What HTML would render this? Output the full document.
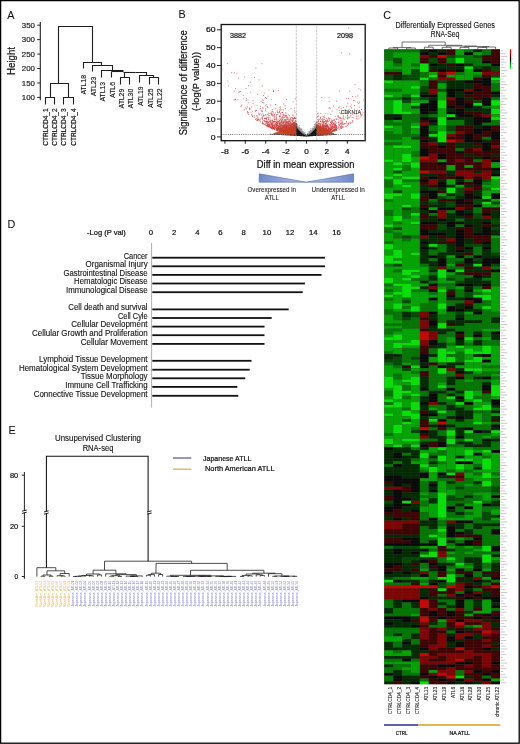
<!DOCTYPE html>
<html><head><meta charset="utf-8"><style>
html,body{margin:0;padding:0;background:#fff;width:520px;height:744px;overflow:hidden}
svg{display:block}
text{font-family:"Liberation Sans",sans-serif}
</style></head><body>
<svg width="520" height="744" viewBox="0 0 520 744">
<rect x="0" y="0" width="520" height="744" fill="#fff"/>
<g opacity="0.999">
<text x="7.3" y="18.8" font-size="10.8" fill="#111" stroke="#111" stroke-width="0.08">A</text>
<path d="M40.3,22 L40.3,100.3" stroke="#222" stroke-width="1.1" fill="none"/>
<path d="M37.2,25.2 L40.3,25.2" stroke="#222" stroke-width="1" fill="none"/>
<text x="35.0" y="27.9" font-size="7.8" text-anchor="end" textLength="13.2" lengthAdjust="spacingAndGlyphs" fill="#111" stroke="#111" stroke-width="0.15">350</text>
<path d="M37.2,39.64 L40.3,39.64" stroke="#222" stroke-width="1" fill="none"/>
<text x="35.0" y="42.34" font-size="7.8" text-anchor="end" textLength="13.2" lengthAdjust="spacingAndGlyphs" fill="#111" stroke="#111" stroke-width="0.15">300</text>
<path d="M37.2,54.08 L40.3,54.08" stroke="#222" stroke-width="1" fill="none"/>
<text x="35.0" y="56.78" font-size="7.8" text-anchor="end" textLength="13.2" lengthAdjust="spacingAndGlyphs" fill="#111" stroke="#111" stroke-width="0.15">250</text>
<path d="M37.2,68.52 L40.3,68.52" stroke="#222" stroke-width="1" fill="none"/>
<text x="35.0" y="71.22" font-size="7.8" text-anchor="end" textLength="13.2" lengthAdjust="spacingAndGlyphs" fill="#111" stroke="#111" stroke-width="0.15">200</text>
<path d="M37.2,82.96 L40.3,82.96" stroke="#222" stroke-width="1" fill="none"/>
<text x="35.0" y="85.66" font-size="7.8" text-anchor="end" textLength="13.2" lengthAdjust="spacingAndGlyphs" fill="#111" stroke="#111" stroke-width="0.15">150</text>
<path d="M37.2,97.4 L40.3,97.4" stroke="#222" stroke-width="1" fill="none"/>
<text x="35.0" y="100.10000000000001" font-size="7.8" text-anchor="end" textLength="13.2" lengthAdjust="spacingAndGlyphs" fill="#111" stroke="#111" stroke-width="0.15">100</text>
<text transform="translate(14.6,61) rotate(-90)" font-size="10" text-anchor="middle" textLength="28" lengthAdjust="spacingAndGlyphs" fill="#111" stroke="#111" stroke-width="0.22">Height</text>
<path d="M58.5,83.5 L58.5,26.5 L92.5,26.5 L92.5,62.5" stroke="#1e1e1e" stroke-width="1.1" fill="none"/>
<path d="M50.5,97.5 L50.5,83.5 L68.5,83.5 L68.5,97.5" stroke="#1e1e1e" stroke-width="1.1" fill="none"/>
<path d="M45.5,104.5 L45.5,97.5 L54.5,97.5 L54.5,104.5" stroke="#1e1e1e" stroke-width="1.1" fill="none"/>
<path d="M63.5,104.5 L63.5,97.5 L73.5,97.5 L73.5,104.5" stroke="#1e1e1e" stroke-width="1.1" fill="none"/>
<path d="M83.5,68.5 L83.5,62.5 L101.5,62.5 L101.5,65.5" stroke="#1e1e1e" stroke-width="1.1" fill="none"/>
<path d="M92.5,71.5 L92.5,65.5 L112.5,65.5 L112.5,70.5" stroke="#1e1e1e" stroke-width="1.1" fill="none"/>
<path d="M101.5,77.5 L101.5,70.5 L123.5,70.5" stroke="#1e1e1e" stroke-width="1.1" fill="none"/>
<path d="M111.5,77.5 L111.5,71.5" stroke="#1e1e1e" stroke-width="1.1" fill="none"/>
<path d="M111.5,71.5 L123.5,71.5" stroke="#1e1e1e" stroke-width="1.1" fill="none"/>
<path d="M123.5,72.5 L135.5,72.5" stroke="#1e1e1e" stroke-width="1.1" fill="none"/>
<path d="M124.5,72.5 L124.5,77.5" stroke="#1e1e1e" stroke-width="1.1" fill="none"/>
<path d="M120.5,84.5 L120.5,77.5 L129.5,77.5 L129.5,84.5" stroke="#1e1e1e" stroke-width="1.1" fill="none"/>
<path d="M135.5,72.5 L146.5,72.5 L146.5,75.5" stroke="#1e1e1e" stroke-width="1.1" fill="none"/>
<path d="M139.5,82.5 L139.5,75.5 L153.5,75.5 L153.5,77.5" stroke="#1e1e1e" stroke-width="1.1" fill="none"/>
<path d="M149.5,84.5 L149.5,77.5 L158.5,77.5 L158.5,84.5" stroke="#1e1e1e" stroke-width="1.1" fill="none"/>
<text transform="translate(48.0,108.4) rotate(-90)" font-size="7.4" text-anchor="end" textLength="37.3" lengthAdjust="spacingAndGlyphs" fill="#111" stroke="#111" stroke-width="0.22">CTRLCD4_1</text>
<text transform="translate(57.1,108.4) rotate(-90)" font-size="7.4" text-anchor="end" textLength="37.3" lengthAdjust="spacingAndGlyphs" fill="#111" stroke="#111" stroke-width="0.22">CTRLCD4_2</text>
<text transform="translate(66.39999999999999,108.4) rotate(-90)" font-size="7.4" text-anchor="end" textLength="37.3" lengthAdjust="spacingAndGlyphs" fill="#111" stroke="#111" stroke-width="0.22">CTRLCD4_3</text>
<text transform="translate(75.8,108.4) rotate(-90)" font-size="7.4" text-anchor="end" textLength="37.3" lengthAdjust="spacingAndGlyphs" fill="#111" stroke="#111" stroke-width="0.22">CTRLCD4_4</text>
<text transform="translate(86.4,75) rotate(-90)" font-size="8.0" text-anchor="end" textLength="19.6" lengthAdjust="spacingAndGlyphs" fill="#111" stroke="#111" stroke-width="0.15">ATL18</text>
<text transform="translate(95.8,76.7) rotate(-90)" font-size="8.0" text-anchor="end" textLength="19.6" lengthAdjust="spacingAndGlyphs" fill="#111" stroke="#111" stroke-width="0.15">ATL23</text>
<text transform="translate(105.2,81.9) rotate(-90)" font-size="8.0" text-anchor="end" textLength="19.6" lengthAdjust="spacingAndGlyphs" fill="#111" stroke="#111" stroke-width="0.15">ATL13</text>
<text transform="translate(114.6,81.9) rotate(-90)" font-size="8.0" text-anchor="end" textLength="16.1" lengthAdjust="spacingAndGlyphs" fill="#111" stroke="#111" stroke-width="0.15">ATL6</text>
<text transform="translate(123.6,88.8) rotate(-90)" font-size="8.0" text-anchor="end" textLength="19.6" lengthAdjust="spacingAndGlyphs" fill="#111" stroke="#111" stroke-width="0.15">ATL29</text>
<text transform="translate(132.5,88.8) rotate(-90)" font-size="8.0" text-anchor="end" textLength="19.6" lengthAdjust="spacingAndGlyphs" fill="#111" stroke="#111" stroke-width="0.15">ATL30</text>
<text transform="translate(142.6,86.5) rotate(-90)" font-size="8.0" text-anchor="end" textLength="19.6" lengthAdjust="spacingAndGlyphs" fill="#111" stroke="#111" stroke-width="0.15">ATL19</text>
<text transform="translate(152.8,88.5) rotate(-90)" font-size="8.0" text-anchor="end" textLength="19.6" lengthAdjust="spacingAndGlyphs" fill="#111" stroke="#111" stroke-width="0.15">ATL25</text>
<text transform="translate(161.6,88.5) rotate(-90)" font-size="8.0" text-anchor="end" textLength="19.6" lengthAdjust="spacingAndGlyphs" fill="#111" stroke="#111" stroke-width="0.15">ATL22</text>
<text x="178.6" y="17.9" font-size="10.8" fill="#111" stroke="#111" stroke-width="0.08">B</text>
<path d="M217.0,136.9 L221.2,136.9" stroke="#222" stroke-width="1" fill="none"/>
<text x="215.6" y="139.5" font-size="7.4" text-anchor="end" textLength="4.8" lengthAdjust="spacingAndGlyphs" fill="#111" stroke="#111" stroke-width="0.22">0</text>
<path d="M217.0,119.05000000000001 L221.2,119.05000000000001" stroke="#222" stroke-width="1" fill="none"/>
<text x="215.6" y="121.65" font-size="7.4" text-anchor="end" textLength="9.6" lengthAdjust="spacingAndGlyphs" fill="#111" stroke="#111" stroke-width="0.22">10</text>
<path d="M217.0,101.20000000000002 L221.2,101.20000000000002" stroke="#222" stroke-width="1" fill="none"/>
<text x="215.6" y="103.80000000000001" font-size="7.4" text-anchor="end" textLength="9.6" lengthAdjust="spacingAndGlyphs" fill="#111" stroke="#111" stroke-width="0.22">20</text>
<path d="M217.0,83.35000000000001 L221.2,83.35000000000001" stroke="#222" stroke-width="1" fill="none"/>
<text x="215.6" y="85.95" font-size="7.4" text-anchor="end" textLength="9.6" lengthAdjust="spacingAndGlyphs" fill="#111" stroke="#111" stroke-width="0.22">30</text>
<path d="M217.0,65.50000000000001 L221.2,65.50000000000001" stroke="#222" stroke-width="1" fill="none"/>
<text x="215.6" y="68.10000000000001" font-size="7.4" text-anchor="end" textLength="9.6" lengthAdjust="spacingAndGlyphs" fill="#111" stroke="#111" stroke-width="0.22">40</text>
<path d="M217.0,47.650000000000006 L221.2,47.650000000000006" stroke="#222" stroke-width="1" fill="none"/>
<text x="215.6" y="50.25000000000001" font-size="7.4" text-anchor="end" textLength="9.6" lengthAdjust="spacingAndGlyphs" fill="#111" stroke="#111" stroke-width="0.22">50</text>
<path d="M217.0,29.80000000000001 L221.2,29.80000000000001" stroke="#222" stroke-width="1" fill="none"/>
<text x="215.6" y="32.40000000000001" font-size="7.4" text-anchor="end" textLength="9.6" lengthAdjust="spacingAndGlyphs" fill="#111" stroke="#111" stroke-width="0.22">60</text>
<path d="M224.9,140.7 L224.9,143.7" stroke="#222" stroke-width="1" fill="none"/>
<text x="224.9" y="154.3" font-size="7.4" text-anchor="middle" textLength="7.8" lengthAdjust="spacingAndGlyphs" fill="#111" stroke="#111" stroke-width="0.22">-8</text>
<path d="M245.3,140.7 L245.3,143.7" stroke="#222" stroke-width="1" fill="none"/>
<text x="245.3" y="154.3" font-size="7.4" text-anchor="middle" textLength="7.8" lengthAdjust="spacingAndGlyphs" fill="#111" stroke="#111" stroke-width="0.22">-6</text>
<path d="M265.7,140.7 L265.7,143.7" stroke="#222" stroke-width="1" fill="none"/>
<text x="265.7" y="154.3" font-size="7.4" text-anchor="middle" textLength="7.8" lengthAdjust="spacingAndGlyphs" fill="#111" stroke="#111" stroke-width="0.22">-4</text>
<path d="M286.1,140.7 L286.1,143.7" stroke="#222" stroke-width="1" fill="none"/>
<text x="286.1" y="154.3" font-size="7.4" text-anchor="middle" textLength="7.8" lengthAdjust="spacingAndGlyphs" fill="#111" stroke="#111" stroke-width="0.22">-2</text>
<path d="M306.5,140.7 L306.5,143.7" stroke="#222" stroke-width="1" fill="none"/>
<text x="306.5" y="154.3" font-size="7.4" text-anchor="middle" textLength="4.6" lengthAdjust="spacingAndGlyphs" fill="#111" stroke="#111" stroke-width="0.22">0</text>
<path d="M326.9,140.7 L326.9,143.7" stroke="#222" stroke-width="1" fill="none"/>
<text x="326.9" y="154.3" font-size="7.4" text-anchor="middle" textLength="4.6" lengthAdjust="spacingAndGlyphs" fill="#111" stroke="#111" stroke-width="0.22">2</text>
<path d="M347.3,140.7 L347.3,143.7" stroke="#222" stroke-width="1" fill="none"/>
<text x="347.3" y="154.3" font-size="7.4" text-anchor="middle" textLength="4.6" lengthAdjust="spacingAndGlyphs" fill="#111" stroke="#111" stroke-width="0.22">4</text>
<text transform="translate(187.3,82.7) rotate(-90)" font-size="10" text-anchor="middle" textLength="105" lengthAdjust="spacingAndGlyphs" fill="#111" stroke="#111" stroke-width="0.22">Significance of difference</text>
<text transform="translate(198.7,81.5) rotate(-90)" font-size="9" text-anchor="middle" textLength="59" lengthAdjust="spacingAndGlyphs" fill="#111" stroke="#111" stroke-width="0.22">(-log(P value))</text>
<text x="305.6" y="167.6" font-size="10" text-anchor="middle" textLength="97.5" lengthAdjust="spacingAndGlyphs" fill="#111" stroke="#111" stroke-width="0.22">Diff in mean expression</text>
<text x="230" y="38.3" font-size="7.2" textLength="16" lengthAdjust="spacingAndGlyphs" fill="#111" stroke="#111" stroke-width="0.22">3882</text>
<text x="337" y="38.3" font-size="7.2" textLength="16" lengthAdjust="spacingAndGlyphs" fill="#111" stroke="#111" stroke-width="0.22">2098</text>
<text x="341" y="113.8" font-size="5.0" textLength="20" lengthAdjust="spacingAndGlyphs" fill="#111" stroke="#111" stroke-width="0.05">CDKN1A</text>
<text x="271.8" y="191.6" font-size="6.4" text-anchor="middle" textLength="48.5" lengthAdjust="spacingAndGlyphs" fill="#111" stroke="#111" stroke-width="0.06">Overexpressed in</text>
<text x="271.8" y="199.7" font-size="6.4" text-anchor="middle" textLength="14" lengthAdjust="spacingAndGlyphs" fill="#111" stroke="#111" stroke-width="0.06">ATLL</text>
<text x="338.2" y="191.6" font-size="6.4" text-anchor="middle" textLength="53.3" lengthAdjust="spacingAndGlyphs" fill="#111" stroke="#111" stroke-width="0.06">Underexpressed in</text>
<text x="338.2" y="199.7" font-size="6.4" text-anchor="middle" textLength="14" lengthAdjust="spacingAndGlyphs" fill="#111" stroke="#111" stroke-width="0.06">ATLL</text>
<defs><linearGradient id="gl" x1="0" x2="1" y1="0" y2="0"><stop offset="0" stop-color="#6f88c8"/><stop offset="1" stop-color="#b8c6e6"/></linearGradient><linearGradient id="gr" x1="0" x2="1" y1="0" y2="0"><stop offset="0" stop-color="#b8c6e6"/><stop offset="1" stop-color="#6f88c8"/></linearGradient></defs>
<path d="M259.2,173.8 L306.3,182.2 L259.2,182.2 Z" fill="url(#gl)" stroke="#4f67ad" stroke-width="0.6"/>
<path d="M306.3,182.2 L353.6,173.8 L353.6,182.2 Z" fill="url(#gr)" stroke="#4f67ad" stroke-width="0.6"/>
<clipPath id="vclip"><rect x="221.2" y="24.5" width="144.0" height="116.19999999999999"/></clipPath>
<g clip-path="url(#vclip)">
<path d="M285.5 126.7h0.8M278.9 115.8h0.8M281.5 118.9h0.8M295.6 132.3h0.8M265.2 118.3h0.8M271.1 127.8h0.8M289.1 132.6h0.8M287.5 129.7h0.8M295.8 133.7h0.8M292.4 124.5h0.8M280.4 131.0h0.8M278.8 130.6h0.8M285.6 132.6h0.8M295.9 127.3h0.8M293.4 133.5h0.8M252.6 100.4h0.8M292.2 121.3h0.8M287.6 128.5h0.8M293.4 123.5h0.8M283.3 115.7h0.8M271.9 126.6h0.8M291.1 133.4h0.8M294.2 134.2h0.8M292.1 130.6h0.8M295.9 130.5h0.8M291.5 132.7h0.8M277.6 127.3h0.8M291.8 131.6h0.8M282.8 132.3h0.8M256.3 120.2h0.8M281.1 122.3h0.8M295.7 129.0h0.8M291.0 130.6h0.8M295.8 134.4h0.8M293.8 122.6h0.8M293.6 129.0h0.8M267.5 107.5h0.8M291.4 132.4h0.8M287.9 127.0h0.8M294.7 129.4h0.8M278.8 120.6h0.8M295.5 124.0h0.8M294.9 133.0h0.8M285.8 121.5h0.8M291.5 123.7h0.8M287.5 131.9h0.8M291.8 133.4h0.8M295.0 133.9h0.8M283.4 104.1h0.8M294.0 134.3h0.8M249.6 108.9h0.8M290.3 132.9h0.8M286.2 125.2h0.8M289.4 131.5h0.8M295.3 125.5h0.8M295.5 132.1h0.8M276.4 129.8h0.8M281.8 116.8h0.8M285.2 125.7h0.8M294.7 132.4h0.8M294.2 127.4h0.8M292.2 131.9h0.8M275.4 108.3h0.8M289.4 131.0h0.8M281.9 129.0h0.8M292.2 132.2h0.8M294.2 132.7h0.8M248.2 85.6h0.8M285.3 129.9h0.8M291.5 133.8h0.8M292.5 128.3h0.8M274.3 127.1h0.8M279.4 123.5h0.8M283.2 127.2h0.8M280.6 129.6h0.8M282.8 130.9h0.8M288.8 127.4h0.8M283.3 131.0h0.8M264.7 118.0h0.8M286.6 133.4h0.8M287.4 132.3h0.8M284.0 129.8h0.8M277.7 125.2h0.8M278.8 129.1h0.8M284.8 126.6h0.8M277.0 128.4h0.8M276.1 118.6h0.8M283.4 114.1h0.8M262.3 118.7h0.8M287.8 132.8h0.8M276.5 114.6h0.8M289.0 128.7h0.8M282.3 125.7h0.8M293.9 128.7h0.8M286.6 128.4h0.8M290.1 129.9h0.8M279.9 126.3h0.8M282.3 132.3h0.8M294.0 132.3h0.8M284.7 131.8h0.8M283.5 127.8h0.8M295.4 132.2h0.8M293.2 134.2h0.8M294.4 133.1h0.8M293.8 133.6h0.8M295.5 132.3h0.8M290.8 130.2h0.8M286.3 132.1h0.8M270.9 128.4h0.8M290.3 132.7h0.8M290.2 133.5h0.8M276.8 128.1h0.8M295.5 131.1h0.8M294.8 131.6h0.8M291.5 130.7h0.8M261.9 111.2h0.8M290.1 126.9h0.8M284.9 130.8h0.8M294.3 131.1h0.8M287.0 119.1h0.8M259.0 114.9h0.8M291.3 125.0h0.8M295.9 134.2h0.8M287.0 129.1h0.8M294.3 130.7h0.8M272.1 126.0h0.8M289.8 132.9h0.8M292.2 119.9h0.8M290.8 120.6h0.8M269.7 121.9h0.8M292.7 118.7h0.8M288.6 131.4h0.8M291.8 117.5h0.8M288.7 132.3h0.8M289.0 133.3h0.8M285.5 130.4h0.8M292.2 128.2h0.8M277.1 130.8h0.8M287.8 132.2h0.8M266.6 115.9h0.8M292.9 133.1h0.8M294.1 117.5h0.8M292.2 130.5h0.8M289.0 129.3h0.8M286.0 126.9h0.8M294.6 129.2h0.8M292.1 131.2h0.8M291.5 132.8h0.8M287.8 130.8h0.8M291.1 128.5h0.8M286.3 133.2h0.8M292.8 132.0h0.8M269.3 113.3h0.8M287.5 133.5h0.8M279.8 128.7h0.8M286.7 127.8h0.8M285.2 130.0h0.8M269.9 124.8h0.8M290.6 126.1h0.8M293.6 133.1h0.8M276.9 130.4h0.8M276.5 123.8h0.8M289.8 132.5h0.8M279.6 118.6h0.8M294.3 132.0h0.8M287.4 130.4h0.8M291.6 133.5h0.8M286.5 125.6h0.8M295.1 133.6h0.8M277.6 122.1h0.8M284.2 132.8h0.8M282.2 112.7h0.8M227.4 81.0h0.8M295.4 127.8h0.8M293.2 130.4h0.8M263.3 115.6h0.8M294.4 133.2h0.8M269.1 126.6h0.8M285.8 130.7h0.8M294.0 130.8h0.8M295.4 134.1h0.8M290.8 133.8h0.8M295.3 131.4h0.8M281.4 121.2h0.8M294.4 132.4h0.8M291.9 130.5h0.8M288.7 121.6h0.8M290.9 133.9h0.8M283.1 131.8h0.8M285.2 129.8h0.8M270.1 122.8h0.8M285.5 131.7h0.8M287.3 132.2h0.8M281.0 128.3h0.8M294.4 133.5h0.8M290.9 128.6h0.8M293.8 129.7h0.8M284.5 132.5h0.8M284.1 132.4h0.8M294.5 131.1h0.8M293.0 126.2h0.8M288.9 132.1h0.8M278.9 131.3h0.8M282.1 132.1h0.8M294.1 123.0h0.8M283.7 131.5h0.8M294.6 121.1h0.8M284.2 124.5h0.8M294.3 130.8h0.8M291.2 133.1h0.8M291.6 130.3h0.8M291.3 132.2h0.8M294.3 127.8h0.8M284.7 125.1h0.8M289.8 125.8h0.8M288.1 129.7h0.8M286.8 127.2h0.8M290.5 133.6h0.8M295.5 133.7h0.8M295.5 126.6h0.8M288.9 127.6h0.8M295.9 132.3h0.8M272.3 123.0h0.8M289.9 131.3h0.8M294.8 133.9h0.8M294.0 132.7h0.8M290.7 125.3h0.8M294.1 133.4h0.8M292.4 133.6h0.8M292.3 133.2h0.8M288.9 133.7h0.8M268.2 124.1h0.8M266.1 118.1h0.8M283.9 129.7h0.8M264.8 124.6h0.8M284.1 131.2h0.8M283.9 126.4h0.8M294.0 133.6h0.8M295.6 133.6h0.8M295.0 132.6h0.8M257.0 117.2h0.8M291.9 131.7h0.8M292.3 129.1h0.8M282.3 131.5h0.8M293.0 130.0h0.8M265.7 118.7h0.8M289.9 118.2h0.8M295.8 134.4h0.8M279.7 128.9h0.8M295.4 131.7h0.8M247.0 106.9h0.8M291.3 133.8h0.8M295.1 126.1h0.8M288.7 121.7h0.8M295.3 133.5h0.8M295.3 132.7h0.8M295.2 133.5h0.8M290.3 132.5h0.8M295.3 134.4h0.8M257.7 119.8h0.8M288.3 131.4h0.8M287.8 133.2h0.8M291.9 133.8h0.8M287.5 122.1h0.8M286.1 124.2h0.8M293.3 134.3h0.8M287.6 130.6h0.8M286.8 131.3h0.8M285.4 127.0h0.8M269.7 125.5h0.8M289.5 126.4h0.8M293.2 133.9h0.8M291.9 133.9h0.8M280.0 122.6h0.8M291.9 133.7h0.8M295.0 133.5h0.8M295.0 132.5h0.8M286.7 132.1h0.8M295.2 130.1h0.8M295.4 133.7h0.8M292.3 132.4h0.8M294.8 132.5h0.8M291.9 128.6h0.8M287.2 123.2h0.8M284.5 126.0h0.8M286.7 130.8h0.8M277.7 125.1h0.8M262.7 114.8h0.8M283.0 131.0h0.8M278.0 128.5h0.8M294.4 134.2h0.8M293.9 133.3h0.8M283.8 131.2h0.8M295.2 129.3h0.8M287.2 133.4h0.8M295.3 134.0h0.8M291.2 126.1h0.8M264.0 118.2h0.8M293.1 132.2h0.8M291.1 132.5h0.8M295.8 131.4h0.8M277.1 123.5h0.8M294.8 131.7h0.8M293.9 129.7h0.8M289.6 122.0h0.8M278.9 130.8h0.8M291.8 124.3h0.8M289.3 131.4h0.8M289.7 127.7h0.8M266.4 121.1h0.8M258.5 114.7h0.8M294.7 128.3h0.8M290.1 133.8h0.8M255.0 119.3h0.8M286.7 130.4h0.8M273.0 126.3h0.8M293.3 133.1h0.8M293.5 131.2h0.8M291.2 128.4h0.8M292.9 132.7h0.8M292.8 118.5h0.8M276.3 119.6h0.8M285.6 130.8h0.8M294.2 127.8h0.8M288.7 133.6h0.8M293.9 134.0h0.8M282.4 120.7h0.8M293.5 128.3h0.8M291.7 129.6h0.8M274.6 124.1h0.8M278.6 128.8h0.8M295.8 132.0h0.8M286.4 132.4h0.8M290.6 132.5h0.8M295.6 133.2h0.8M290.7 131.4h0.8M282.9 130.0h0.8M252.6 103.5h0.8M268.3 119.3h0.8M284.0 129.1h0.8M278.7 128.9h0.8M286.3 128.0h0.8M288.0 132.2h0.8M295.0 134.2h0.8M291.2 130.6h0.8M280.6 125.3h0.8M292.0 123.6h0.8M292.5 129.3h0.8M295.1 129.4h0.8M284.0 117.4h0.8M271.5 121.3h0.8M276.4 122.8h0.8M285.8 132.2h0.8M288.1 123.6h0.8M293.0 120.0h0.8M287.5 131.3h0.8M295.9 132.8h0.8M293.8 130.4h0.8M271.3 113.3h0.8M285.7 130.9h0.8M294.7 130.2h0.8M287.3 127.8h0.8M290.9 125.1h0.8M293.3 133.0h0.8M292.6 130.5h0.8M271.5 127.6h0.8M285.2 126.2h0.8M293.2 134.1h0.8M287.0 125.4h0.8M273.3 121.5h0.8M290.1 131.7h0.8M287.8 123.1h0.8M292.0 132.9h0.8M285.9 117.3h0.8M293.7 134.3h0.8M294.6 131.4h0.8M286.0 132.3h0.8M293.6 131.0h0.8M284.8 127.4h0.8M281.9 132.0h0.8M288.8 125.9h0.8M262.1 121.2h0.8M275.6 124.2h0.8M267.9 125.3h0.8M283.1 123.4h0.8M289.0 133.4h0.8M293.6 133.8h0.8M294.9 133.9h0.8M285.7 132.7h0.8M280.7 124.9h0.8M277.7 121.9h0.8M282.5 119.4h0.8M262.2 116.8h0.8M260.0 121.9h0.8M294.7 134.3h0.8M293.4 132.6h0.8M289.3 129.0h0.8M281.4 131.7h0.8M290.4 130.8h0.8M290.9 133.6h0.8M286.2 131.1h0.8M283.6 129.4h0.8M260.7 101.2h0.8M295.1 129.3h0.8M282.2 130.6h0.8M294.6 132.1h0.8M291.2 128.7h0.8M269.1 124.4h0.8M292.2 131.5h0.8M283.1 124.8h0.8M286.7 131.8h0.8M291.5 126.5h0.8M288.1 133.5h0.8M290.1 132.9h0.8M284.1 132.5h0.8M292.5 133.9h0.8M288.9 115.6h0.8M287.6 131.4h0.8M266.8 125.9h0.8M291.2 127.3h0.8M295.8 129.4h0.8M291.1 134.1h0.8M292.8 131.9h0.8M290.7 131.1h0.8M295.3 133.6h0.8M256.7 116.0h0.8M289.1 133.5h0.8M292.4 122.0h0.8M283.5 129.2h0.8M295.3 132.7h0.8M279.8 128.6h0.8M286.3 122.5h0.8M284.8 128.2h0.8M295.5 134.5h0.8M280.2 129.0h0.8M273.7 119.0h0.8M269.5 124.7h0.8M280.8 120.3h0.8M294.2 128.7h0.8M290.0 118.8h0.8M240.8 105.8h0.8M290.0 132.7h0.8M289.1 132.4h0.8M284.1 132.2h0.8M293.9 132.1h0.8M295.1 132.8h0.8M271.5 115.0h0.8M293.6 134.3h0.8M277.0 112.3h0.8M286.1 132.6h0.8M293.0 124.5h0.8M266.2 126.0h0.8M293.7 132.3h0.8M292.6 128.8h0.8M290.9 127.9h0.8M294.1 131.7h0.8M256.4 110.7h0.8M294.9 134.1h0.8M284.9 130.8h0.8M291.0 131.5h0.8M286.6 117.8h0.8M292.9 131.1h0.8M292.6 131.2h0.8M281.8 131.6h0.8M288.9 128.5h0.8M295.8 129.3h0.8M290.1 131.0h0.8M285.8 125.8h0.8M295.3 132.0h0.8M295.5 132.8h0.8M291.4 134.1h0.8M292.1 131.9h0.8M284.5 120.4h0.8M290.9 131.0h0.8M282.5 118.4h0.8M263.9 93.1h0.8M292.1 133.5h0.8M267.1 126.1h0.8M289.5 128.2h0.8M287.8 131.4h0.8M268.2 124.8h0.8M287.3 125.5h0.8M294.3 132.9h0.8M288.6 130.1h0.8M293.4 132.1h0.8M295.2 134.2h0.8M291.4 133.6h0.8M259.2 119.9h0.8M292.4 128.2h0.8M281.4 130.6h0.8M277.0 125.2h0.8M290.6 130.0h0.8M292.9 133.2h0.8M273.5 126.0h0.8M271.5 127.5h0.8M294.3 134.3h0.8M281.5 127.9h0.8M295.8 134.4h0.8M277.3 127.1h0.8M273.9 129.5h0.8M286.4 132.8h0.8M282.2 127.6h0.8M285.8 132.1h0.8M264.0 124.2h0.8M295.2 130.3h0.8M294.9 134.3h0.8M289.3 129.4h0.8M272.1 120.9h0.8M295.1 130.8h0.8M276.0 129.7h0.8M280.9 130.5h0.8M292.1 134.3h0.8M280.7 128.2h0.8M271.0 124.5h0.8M294.1 133.5h0.8M292.6 122.8h0.8M293.4 134.0h0.8M291.2 133.8h0.8M290.0 129.9h0.8M284.6 132.1h0.8M294.3 131.9h0.8M283.5 129.8h0.8M286.8 122.3h0.8M294.2 133.3h0.8M288.6 130.4h0.8M271.2 123.4h0.8M284.3 130.3h0.8M279.5 121.8h0.8M292.2 133.8h0.8M292.7 132.6h0.8M272.3 127.1h0.8M285.3 128.3h0.8M262.4 123.2h0.8M280.2 129.6h0.8M294.7 130.8h0.8M276.0 125.4h0.8M295.4 121.5h0.8M290.7 129.9h0.8M282.1 130.8h0.8M290.3 132.4h0.8M294.8 134.3h0.8M282.4 129.8h0.8M274.1 129.4h0.8M292.1 133.5h0.8M265.1 114.6h0.8M271.6 124.3h0.8M294.7 132.5h0.8M293.2 134.3h0.8M287.0 131.9h0.8M294.7 131.8h0.8M266.9 106.5h0.8M289.2 133.4h0.8M280.2 131.2h0.8M287.6 133.2h0.8M249.2 108.3h0.8M289.7 132.6h0.8M287.3 117.2h0.8M289.9 133.0h0.8M288.2 122.6h0.8M290.7 129.9h0.8M269.0 125.0h0.8M278.1 127.0h0.8M294.3 134.3h0.8M265.9 121.7h0.8M289.6 123.3h0.8M286.8 130.3h0.8M292.3 128.9h0.8M292.7 131.8h0.8M280.7 127.1h0.8M294.4 133.6h0.8M283.2 126.1h0.8M294.7 112.3h0.8M294.4 133.8h0.8M294.9 132.3h0.8M285.5 124.0h0.8M294.0 129.9h0.8M294.7 131.3h0.8M292.8 132.6h0.8M295.3 129.9h0.8M294.5 129.1h0.8M291.5 130.6h0.8M285.0 129.9h0.8M273.7 114.3h0.8M292.4 132.7h0.8M273.5 128.6h0.8M290.1 131.7h0.8M255.8 118.9h0.8M284.5 126.1h0.8M281.9 132.3h0.8M265.1 123.0h0.8M275.4 123.8h0.8M290.1 126.3h0.8M283.8 130.8h0.8M281.8 128.7h0.8M282.6 127.7h0.8M278.9 130.5h0.8M288.6 133.8h0.8M279.1 123.4h0.8M276.5 130.4h0.8M287.7 130.7h0.8M294.5 133.7h0.8M256.7 105.3h0.8M293.0 127.5h0.8M284.6 130.6h0.8M284.8 131.8h0.8M292.5 134.3h0.8M284.5 128.7h0.8M281.3 128.5h0.8M289.8 132.4h0.8M281.7 129.8h0.8M286.2 126.7h0.8M289.6 129.0h0.8M295.2 133.4h0.8M276.2 129.6h0.8M295.3 134.5h0.8M280.3 131.3h0.8M289.3 131.4h0.8M278.5 127.7h0.8M288.0 133.6h0.8M278.9 123.4h0.8M285.4 124.6h0.8M285.7 127.3h0.8M275.5 124.6h0.8M295.7 126.8h0.8M247.1 111.6h0.8M295.2 133.0h0.8M294.8 132.8h0.8M294.9 133.6h0.8M295.9 132.6h0.8M292.1 129.0h0.8M290.6 133.3h0.8M263.1 108.1h0.8M283.4 131.5h0.8M290.4 131.5h0.8M290.3 133.9h0.8M289.4 127.6h0.8M283.2 122.8h0.8M283.6 125.6h0.8M274.0 114.6h0.8M279.0 128.5h0.8M284.4 127.7h0.8M272.9 121.6h0.8M289.6 133.0h0.8M291.7 133.0h0.8M283.6 125.5h0.8M293.6 131.5h0.8M276.3 127.9h0.8M294.8 131.1h0.8M291.1 133.5h0.8M292.3 134.3h0.8M294.2 132.4h0.8M294.7 134.5h0.8M287.3 119.2h0.8M276.7 128.4h0.8M268.2 126.7h0.8M294.2 134.4h0.8M295.3 131.2h0.8M280.7 128.6h0.8M278.5 128.0h0.8M269.0 121.4h0.8M287.7 132.8h0.8M289.9 131.5h0.8M277.4 129.5h0.8M292.2 127.5h0.8M295.1 131.7h0.8M293.2 130.1h0.8M286.2 132.9h0.8M281.9 129.6h0.8M291.8 126.4h0.8M279.7 129.7h0.8M283.8 132.2h0.8M288.1 133.3h0.8M284.9 121.1h0.8M285.1 132.9h0.8M288.2 130.9h0.8M289.6 133.2h0.8M292.4 131.9h0.8M295.1 130.4h0.8M292.9 133.0h0.8M294.9 133.2h0.8M267.2 124.4h0.8M294.8 132.9h0.8M264.8 124.8h0.8M291.4 133.2h0.8M283.6 129.7h0.8M294.8 127.2h0.8M291.6 129.5h0.8M289.4 125.1h0.8M295.3 133.6h0.8M292.3 133.1h0.8M277.4 127.0h0.8M291.3 131.3h0.8M275.9 125.5h0.8M289.5 129.3h0.8M285.7 130.8h0.8M289.9 133.4h0.8M289.7 124.9h0.8M292.0 132.4h0.8M286.0 129.1h0.8M293.8 132.2h0.8M281.7 132.1h0.8M294.7 129.3h0.8M270.7 127.9h0.8M295.0 130.9h0.8M292.3 130.0h0.8M295.5 132.4h0.8M294.0 132.9h0.8M283.2 129.1h0.8M275.3 119.3h0.8M285.6 124.3h0.8M293.8 132.0h0.8M291.8 130.3h0.8M294.6 126.5h0.8M290.9 127.8h0.8M265.3 105.8h0.8M290.6 126.0h0.8M233.7 100.0h0.8M281.2 125.3h0.8M289.3 132.5h0.8M293.9 132.4h0.8M267.1 123.2h0.8M292.7 130.5h0.8M289.7 129.9h0.8M289.4 132.5h0.8M295.5 128.4h0.8M284.4 131.6h0.8M288.5 129.9h0.8M288.4 123.5h0.8M279.8 129.7h0.8M291.5 130.3h0.8M294.0 124.2h0.8M295.4 132.0h0.8M292.5 131.4h0.8M295.4 133.6h0.8M247.6 99.9h0.8M293.2 132.0h0.8M295.5 134.1h0.8M293.6 118.5h0.8M291.9 133.1h0.8M295.2 134.1h0.8M238.4 92.4h0.8M268.8 115.5h0.8M279.6 130.1h0.8M293.9 133.3h0.8M295.2 133.8h0.8M282.3 129.0h0.8M295.8 133.3h0.8M275.6 119.1h0.8M281.9 125.5h0.8M269.9 122.7h0.8M290.7 130.6h0.8M292.3 134.1h0.8M292.7 131.9h0.8M294.5 134.2h0.8M292.9 132.6h0.8M262.2 119.1h0.8M276.5 122.8h0.8M286.3 131.5h0.8M290.6 132.5h0.8M285.1 123.9h0.8M279.2 129.6h0.8M294.2 134.4h0.8M286.5 132.2h0.8M295.8 133.3h0.8M293.1 133.5h0.8M284.2 128.6h0.8M292.4 129.1h0.8M293.4 124.6h0.8M294.5 131.2h0.8M282.8 125.9h0.8M288.7 124.8h0.8M285.3 127.5h0.8M295.0 133.8h0.8M289.2 130.5h0.8M294.8 129.5h0.8M291.3 131.5h0.8M288.0 125.5h0.8M292.0 131.0h0.8M285.9 128.3h0.8M291.9 132.9h0.8M289.1 129.9h0.8M284.8 132.4h0.8M289.6 130.4h0.8M293.6 134.0h0.8M267.6 126.8h0.8M288.5 132.2h0.8M295.6 133.4h0.8M294.0 132.5h0.8M270.1 127.6h0.8M291.3 129.3h0.8M285.4 133.1h0.8M293.1 133.1h0.8M271.8 125.1h0.8M292.7 131.8h0.8M288.8 133.1h0.8M284.1 126.6h0.8M289.0 130.5h0.8M280.1 115.0h0.8M285.7 133.0h0.8M288.4 128.9h0.8M291.6 129.5h0.8M291.0 130.2h0.8M285.7 128.0h0.8M268.1 118.9h0.8M282.7 126.4h0.8M293.1 130.7h0.8M285.5 132.9h0.8M280.9 130.7h0.8M288.6 130.5h0.8M282.2 125.0h0.8M289.1 121.7h0.8M289.6 130.4h0.8M244.8 108.0h0.8M282.5 116.5h0.8M295.0 129.0h0.8M284.6 129.2h0.8M279.2 120.8h0.8M294.2 132.0h0.8M285.7 127.6h0.8M261.8 111.7h0.8M277.0 130.5h0.8M289.9 123.6h0.8M264.6 115.3h0.8M291.6 128.2h0.8M287.8 128.7h0.8M285.0 123.5h0.8M282.5 114.5h0.8M288.6 130.8h0.8M284.4 128.9h0.8M295.4 122.9h0.8M291.8 131.4h0.8M295.4 133.8h0.8M267.6 124.7h0.8M292.1 127.6h0.8M292.9 130.1h0.8M286.9 123.1h0.8M289.0 132.1h0.8M292.7 132.6h0.8M295.9 134.1h0.8M294.2 133.0h0.8M280.2 116.6h0.8M291.2 133.0h0.8M292.2 130.3h0.8M288.9 133.3h0.8M288.0 132.3h0.8M294.2 128.7h0.8M294.7 132.4h0.8M280.3 127.7h0.8M273.7 127.3h0.8M264.6 125.0h0.8M271.7 125.3h0.8M295.9 133.5h0.8M247.8 102.8h0.8M281.6 123.6h0.8M295.8 133.3h0.8M289.2 123.5h0.8M270.3 127.1h0.8M249.1 108.0h0.8M292.0 133.9h0.8M289.9 130.9h0.8M289.4 132.3h0.8M264.3 120.6h0.8M292.0 128.2h0.8M292.9 132.2h0.8M294.7 133.5h0.8M233.7 91.1h0.8M288.0 128.7h0.8M284.0 129.2h0.8M291.0 133.5h0.8M295.6 134.1h0.8M290.3 134.0h0.8M283.9 130.8h0.8M293.1 132.9h0.8M288.6 132.8h0.8M275.4 126.4h0.8M295.1 134.2h0.8M272.2 123.6h0.8M292.2 129.3h0.8M295.4 126.6h0.8M266.4 118.7h0.8M295.3 132.5h0.8M276.5 125.4h0.8M293.4 133.4h0.8M295.2 131.8h0.8M293.8 132.2h0.8M271.7 114.2h0.8M288.6 127.1h0.8M294.4 123.4h0.8M274.4 125.9h0.8M272.6 127.0h0.8M253.8 115.4h0.8M268.3 115.0h0.8M266.7 117.5h0.8M295.1 133.3h0.8M284.5 121.3h0.8M283.7 132.6h0.8M291.3 132.4h0.8M293.9 133.5h0.8M288.1 131.6h0.8M292.6 132.2h0.8M264.4 118.8h0.8M281.0 117.9h0.8M295.6 126.9h0.8M294.8 133.7h0.8M281.5 124.9h0.8M285.7 130.2h0.8M282.2 129.5h0.8M293.6 133.5h0.8M294.6 134.4h0.8M263.4 102.9h0.8M291.3 132.0h0.8M292.4 128.3h0.8M288.6 133.0h0.8M272.8 112.9h0.8M295.4 132.3h0.8M293.2 130.4h0.8M291.1 132.7h0.8M292.0 130.5h0.8M288.4 130.8h0.8M283.7 129.6h0.8M264.5 121.2h0.8M279.1 116.9h0.8M285.5 129.0h0.8M279.2 124.7h0.8M293.6 132.4h0.8M294.1 134.4h0.8M283.5 130.7h0.8M292.8 134.2h0.8M295.7 130.6h0.8M291.2 131.8h0.8M283.8 121.1h0.8M283.0 131.4h0.8M247.5 112.1h0.8M286.6 128.6h0.8M292.3 125.5h0.8M285.8 127.4h0.8M294.3 127.8h0.8M292.3 130.5h0.8M281.6 130.2h0.8M292.6 132.7h0.8M254.9 110.6h0.8M289.1 130.3h0.8M284.5 131.5h0.8M295.1 134.1h0.8M286.6 129.2h0.8M255.0 111.6h0.8M275.4 104.7h0.8M288.6 131.4h0.8M289.1 131.8h0.8M280.6 127.4h0.8M294.5 122.9h0.8M287.9 127.5h0.8M287.4 129.5h0.8M286.7 132.9h0.8M294.4 129.6h0.8M291.3 133.6h0.8M277.8 123.3h0.8M280.4 129.3h0.8M294.4 129.1h0.8M293.3 130.1h0.8M283.1 131.0h0.8M295.9 131.4h0.8M279.2 126.7h0.8M251.4 114.7h0.8M281.8 129.4h0.8M286.6 131.8h0.8M293.1 131.3h0.8M285.9 122.0h0.8M286.0 130.0h0.8M284.6 128.2h0.8M290.3 132.7h0.8M283.6 130.3h0.8M295.5 133.9h0.8M291.1 129.4h0.8M284.5 129.7h0.8M277.7 128.9h0.8M291.3 128.5h0.8M283.7 130.0h0.8M272.3 128.9h0.8M287.7 124.8h0.8M273.3 128.1h0.8M278.3 127.0h0.8M266.6 123.7h0.8M284.2 127.9h0.8M246.0 108.9h0.8M290.6 133.5h0.8M283.6 132.4h0.8M275.6 129.4h0.8M293.6 123.0h0.8M288.5 127.6h0.8M291.4 133.0h0.8M291.0 117.4h0.8M293.6 125.4h0.8M272.9 122.2h0.8M292.6 129.1h0.8M270.7 122.6h0.8M293.2 130.7h0.8M262.3 117.5h0.8M294.2 133.6h0.8M285.2 132.9h0.8M295.9 132.9h0.8M292.7 131.7h0.8M295.1 131.5h0.8M283.8 130.9h0.8M286.6 129.9h0.8M279.2 126.9h0.8M285.0 129.1h0.8M277.4 130.4h0.8M294.6 127.0h0.8M276.7 130.7h0.8M271.9 122.9h0.8M275.1 123.0h0.8M290.8 133.6h0.8M280.4 125.3h0.8M289.1 132.5h0.8M291.1 122.8h0.8M289.2 132.9h0.8M249.9 82.1h0.8M293.8 133.6h0.8M281.9 129.8h0.8M289.0 128.8h0.8M292.5 130.7h0.8M293.5 133.4h0.8M287.5 131.1h0.8M271.8 127.9h0.8M269.3 125.7h0.8M291.4 133.7h0.8M291.8 118.3h0.8M291.1 126.7h0.8M255.8 110.4h0.8M293.7 132.3h0.8M293.9 133.4h0.8M291.5 133.5h0.8M283.7 129.1h0.8M292.2 133.1h0.8M294.3 134.0h0.8M289.7 133.6h0.8M288.0 132.4h0.8M280.1 130.1h0.8M275.1 112.9h0.8M267.5 125.1h0.8M267.6 122.6h0.8M272.8 125.4h0.8M287.6 132.3h0.8M280.7 129.6h0.8M272.8 121.7h0.8M289.9 133.9h0.8M292.6 132.2h0.8M290.9 130.5h0.8M295.8 132.3h0.8M272.0 109.7h0.8M283.4 126.9h0.8M286.0 99.5h0.8M279.2 128.2h0.8M288.6 121.4h0.8M287.3 129.4h0.8M292.0 129.9h0.8M288.7 121.2h0.8M236.6 73.2h0.8M295.4 134.3h0.8M291.5 127.1h0.8M287.1 132.2h0.8M294.8 133.4h0.8M294.4 133.9h0.8M281.3 131.0h0.8M293.9 130.8h0.8M294.4 127.8h0.8M284.7 122.8h0.8M282.0 125.6h0.8M292.6 132.1h0.8M290.8 132.0h0.8M269.8 124.2h0.8M278.7 125.9h0.8M295.0 133.7h0.8M286.7 126.2h0.8M293.1 133.2h0.8M290.8 131.6h0.8M290.1 123.0h0.8M285.9 131.7h0.8M291.4 131.3h0.8M294.0 132.6h0.8M295.2 130.6h0.8M274.3 116.0h0.8M286.2 131.1h0.8M287.1 129.8h0.8M293.8 131.5h0.8M288.5 132.8h0.8M289.6 126.2h0.8M284.9 131.1h0.8M293.0 130.5h0.8M287.3 131.9h0.8M289.1 131.6h0.8M285.3 123.1h0.8M290.9 130.9h0.8M287.1 128.5h0.8M292.9 133.2h0.8M268.5 126.3h0.8M283.7 131.3h0.8M288.7 131.2h0.8M293.0 133.6h0.8M262.1 123.7h0.8M294.3 129.4h0.8M290.9 133.2h0.8M279.9 110.2h0.8M293.4 129.7h0.8M290.5 108.6h0.8M286.2 122.8h0.8M284.2 132.2h0.8M289.7 128.7h0.8M294.1 134.1h0.8M245.6 88.5h0.8M284.6 132.7h0.8M283.0 109.9h0.8M279.6 124.8h0.8M289.7 129.7h0.8M268.0 122.4h0.8M295.1 134.0h0.8M263.3 115.7h0.8M266.6 125.3h0.8M294.7 130.2h0.8M289.9 131.3h0.8M293.1 128.8h0.8M279.6 124.7h0.8M289.9 131.1h0.8M290.5 131.5h0.8M291.7 131.7h0.8M260.8 111.0h0.8M294.3 130.3h0.8M277.6 128.6h0.8M272.4 111.4h0.8M295.1 130.9h0.8M290.8 131.5h0.8M287.4 124.7h0.8M285.2 122.7h0.8M292.8 128.1h0.8M290.6 133.2h0.8M278.5 126.5h0.8M293.2 125.7h0.8M288.7 128.9h0.8M250.6 112.9h0.8M287.5 130.0h0.8M292.3 131.3h0.8M259.7 113.4h0.8M292.6 129.8h0.8M285.7 131.1h0.8M284.0 130.5h0.8M279.6 129.0h0.8M277.3 128.9h0.8M293.9 132.9h0.8M294.5 126.7h0.8M237.6 99.8h0.8M293.0 126.0h0.8M275.5 128.6h0.8M292.0 131.5h0.8M294.4 133.6h0.8M290.5 133.5h0.8M294.2 131.0h0.8M292.1 124.4h0.8M261.0 115.0h0.8M292.5 128.7h0.8M291.5 125.9h0.8M290.0 129.0h0.8M281.0 125.7h0.8M280.9 129.9h0.8M294.1 132.7h0.8M261.8 123.5h0.8M292.3 132.8h0.8M289.7 125.2h0.8M293.9 134.0h0.8M295.7 133.1h0.8M282.0 129.3h0.8M284.8 129.6h0.8M291.1 132.0h0.8M295.5 123.6h0.8M281.8 131.8h0.8M293.5 128.5h0.8M288.3 127.6h0.8M281.0 131.2h0.8M277.4 129.7h0.8M294.3 129.3h0.8M277.8 129.1h0.8M290.7 128.6h0.8M292.2 131.9h0.8M243.9 109.7h0.8M265.1 110.2h0.8M234.5 99.3h0.8M293.5 132.2h0.8M293.9 124.6h0.8M286.8 125.0h0.8M288.7 130.8h0.8M262.5 123.2h0.8M293.2 126.8h0.8M286.4 126.3h0.8M239.0 91.8h0.8M285.8 126.7h0.8M287.8 132.5h0.8M291.7 123.7h0.8M287.9 133.5h0.8M284.9 108.7h0.8M285.4 129.9h0.8M289.4 129.6h0.8M285.7 130.1h0.8M270.9 114.4h0.8M279.6 124.7h0.8M282.3 131.3h0.8M288.7 132.4h0.8M293.4 122.9h0.8M293.1 127.8h0.8M276.7 127.7h0.8M295.6 133.9h0.8M284.8 127.1h0.8M291.2 130.4h0.8M294.0 130.4h0.8M279.6 123.4h0.8M287.0 129.6h0.8M295.9 133.5h0.8M290.3 133.7h0.8M295.1 123.0h0.8M283.6 128.7h0.8M283.4 122.6h0.8M285.1 130.4h0.8M290.6 119.4h0.8M262.9 123.2h0.8M277.6 125.2h0.8M291.4 129.3h0.8M292.5 128.9h0.8M287.1 129.5h0.8M295.3 126.0h0.8M262.4 113.6h0.8M292.2 129.2h0.8M294.6 131.6h0.8M291.4 131.6h0.8M292.2 134.0h0.8M289.8 132.8h0.8M293.8 132.9h0.8M294.5 134.4h0.8M256.9 120.3h0.8M272.0 125.5h0.8M294.5 132.4h0.8M288.3 133.5h0.8M287.5 133.6h0.8M292.1 129.3h0.8M276.0 129.3h0.8M290.3 121.7h0.8M291.8 133.7h0.8M292.9 126.5h0.8M291.4 129.7h0.8M266.2 119.4h0.8M293.5 131.9h0.8M291.7 131.6h0.8M285.7 115.6h0.8M283.4 129.2h0.8M278.1 127.2h0.8M293.6 130.2h0.8M292.5 133.4h0.8M290.6 131.3h0.8M295.5 132.9h0.8M261.2 118.1h0.8M291.0 131.6h0.8M283.1 129.1h0.8M290.3 130.4h0.8M292.4 129.8h0.8M290.0 128.8h0.8M291.3 130.0h0.8M293.6 131.9h0.8M288.6 133.7h0.8M294.5 132.2h0.8M280.4 123.0h0.8M276.0 120.9h0.8M259.5 120.7h0.8M294.1 133.9h0.8M279.1 130.3h0.8M291.8 133.6h0.8M270.2 126.6h0.8M293.0 130.8h0.8M282.9 132.4h0.8M286.6 129.9h0.8M287.2 130.2h0.8M278.8 121.9h0.8M274.8 127.6h0.8M295.4 132.3h0.8M295.6 130.9h0.8M288.9 127.8h0.8M276.7 123.1h0.8M283.2 130.6h0.8M282.0 127.1h0.8M293.3 126.5h0.8M289.0 130.6h0.8M293.5 127.6h0.8M289.0 128.0h0.8M276.1 126.3h0.8M286.5 130.5h0.8M293.0 128.1h0.8M268.8 127.2h0.8M295.5 132.3h0.8M295.0 132.4h0.8M291.4 133.1h0.8M279.9 127.1h0.8M268.6 126.0h0.8M290.8 130.1h0.8M280.0 128.8h0.8M293.7 132.6h0.8M286.9 117.8h0.8M284.6 124.0h0.8M276.7 127.5h0.8M288.3 125.8h0.8M282.1 129.8h0.8M293.7 129.4h0.8M292.2 133.1h0.8M292.8 129.8h0.8M284.8 119.7h0.8M286.4 130.3h0.8M272.8 128.3h0.8M286.4 113.0h0.8M291.6 133.5h0.8M294.6 134.4h0.8M281.8 129.5h0.8M277.5 120.8h0.8M295.6 133.2h0.8M292.6 133.1h0.8M295.6 133.5h0.8M291.5 131.7h0.8M287.8 114.8h0.8M294.7 134.0h0.8M270.9 126.3h0.8M287.6 132.0h0.8M271.7 111.6h0.8M286.9 133.0h0.8M290.9 129.1h0.8M287.0 132.0h0.8M290.5 133.8h0.8M290.4 126.7h0.8M290.7 131.5h0.8M293.9 129.7h0.8M290.1 132.0h0.8M280.0 129.9h0.8M295.0 130.8h0.8M281.5 132.0h0.8M291.4 125.3h0.8M288.3 131.4h0.8M294.4 133.2h0.8M286.4 121.9h0.8M284.3 116.0h0.8M290.3 133.7h0.8M291.4 132.3h0.8M295.3 134.2h0.8M270.0 113.3h0.8M294.4 134.2h0.8M253.7 117.1h0.8M292.1 133.2h0.8M293.4 134.3h0.8M289.3 127.4h0.8M295.1 132.1h0.8M294.4 128.7h0.8M270.8 115.0h0.8M287.7 132.9h0.8M282.4 132.1h0.8M279.9 129.8h0.8M272.0 126.8h0.8M281.5 128.6h0.8M293.0 131.7h0.8M289.9 133.3h0.8M287.4 130.1h0.8M283.0 130.5h0.8M285.7 132.2h0.8M288.0 132.5h0.8M279.4 130.5h0.8M292.2 134.0h0.8M292.1 131.1h0.8M293.1 133.9h0.8M271.9 126.5h0.8M293.3 132.4h0.8M276.2 122.6h0.8M271.0 123.4h0.8M291.5 131.4h0.8M295.3 130.4h0.8M276.3 116.3h0.8M276.9 124.8h0.8M278.4 129.4h0.8M287.1 132.7h0.8M266.4 121.3h0.8M293.8 118.6h0.8M285.5 132.1h0.8M275.9 124.7h0.8M285.5 123.2h0.8M291.8 132.9h0.8M286.9 132.4h0.8M283.0 129.4h0.8M293.5 133.9h0.8M294.0 131.2h0.8M269.6 117.4h0.8M275.7 125.5h0.8M278.6 129.1h0.8M291.0 124.5h0.8M292.7 130.5h0.8M286.9 133.2h0.8M287.0 126.2h0.8M272.4 125.7h0.8M271.4 128.4h0.8M270.5 120.9h0.8M278.1 127.9h0.8M286.4 125.3h0.8M293.2 133.6h0.8M280.9 121.0h0.8M293.1 131.3h0.8M288.3 132.1h0.8M276.1 128.6h0.8M279.7 128.8h0.8M294.2 122.2h0.8M294.2 134.1h0.8M295.6 133.0h0.8M295.6 134.0h0.8M265.6 123.8h0.8M282.4 131.3h0.8M295.8 134.5h0.8M294.5 123.1h0.8M289.4 132.7h0.8M295.4 130.8h0.8M291.8 133.4h0.8M289.7 128.7h0.8M291.4 130.8h0.8M293.7 131.3h0.8M295.4 125.3h0.8M267.7 121.1h0.8M289.0 131.7h0.8M281.1 127.6h0.8M282.7 129.6h0.8M290.4 128.7h0.8M293.8 132.8h0.8M293.0 133.5h0.8M274.6 127.7h0.8M281.6 132.0h0.8M268.2 123.0h0.8M281.3 131.6h0.8M286.0 125.5h0.8M292.2 133.9h0.8M290.7 128.0h0.8M280.5 131.6h0.8M291.7 124.2h0.8M292.3 133.9h0.8M274.2 119.4h0.8M289.6 128.8h0.8M281.0 122.5h0.8M293.7 129.4h0.8M268.4 116.9h0.8M288.0 131.4h0.8M254.2 77.4h0.8M278.4 127.4h0.8M272.0 115.8h0.8M288.4 133.1h0.8M285.8 132.6h0.8M291.5 130.8h0.8M288.4 129.2h0.8M277.5 114.2h0.8M291.9 121.8h0.8M291.7 132.5h0.8M280.8 112.3h0.8M288.3 126.7h0.8M277.2 128.7h0.8M285.6 120.0h0.8M295.7 134.1h0.8M273.8 124.6h0.8M290.1 127.3h0.8M289.6 133.3h0.8M291.3 128.3h0.8M284.9 129.8h0.8M295.8 114.3h0.8M295.0 133.3h0.8M279.2 116.4h0.8M283.4 130.3h0.8M281.2 126.4h0.8M286.7 126.3h0.8M287.3 130.0h0.8M292.7 128.4h0.8M294.7 134.1h0.8M285.3 132.9h0.8M273.6 128.3h0.8M289.2 132.6h0.8M288.9 129.6h0.8M293.6 131.4h0.8M257.3 119.7h0.8M293.3 133.5h0.8M294.7 134.5h0.8M261.8 99.2h0.8M295.5 128.1h0.8M286.6 132.4h0.8M273.0 128.5h0.8M285.0 127.7h0.8M283.1 131.3h0.8M294.2 130.7h0.8M292.2 130.6h0.8M281.5 132.0h0.8M282.1 112.5h0.8M290.4 130.5h0.8M291.6 125.6h0.8M293.2 134.0h0.8M288.4 131.2h0.8M286.9 132.4h0.8M267.6 121.7h0.8M290.6 128.4h0.8M295.5 125.4h0.8M276.6 129.0h0.8M289.4 133.7h0.8M279.0 111.6h0.8M286.2 115.4h0.8M289.1 125.0h0.8M276.0 115.3h0.8M289.3 130.8h0.8M295.5 123.6h0.8M294.9 131.3h0.8M286.0 132.4h0.8M291.3 132.7h0.8M295.8 132.7h0.8M290.8 128.8h0.8M283.0 117.7h0.8M274.0 127.9h0.8M285.8 127.7h0.8M279.2 130.7h0.8M291.6 130.3h0.8M291.8 124.3h0.8M290.2 128.8h0.8M295.1 126.2h0.8M257.3 94.4h0.8M291.4 126.9h0.8M252.2 116.5h0.8M295.1 130.5h0.8M248.2 114.2h0.8M276.4 124.4h0.8M289.0 133.2h0.8M288.3 130.7h0.8M293.5 125.6h0.8M281.5 131.3h0.8M285.5 128.9h0.8M266.1 98.4h0.8M272.3 128.7h0.8M290.0 133.3h0.8M281.0 131.6h0.8M277.0 125.4h0.8M284.9 119.1h0.8M274.1 121.8h0.8M285.3 129.4h0.8M288.1 133.6h0.8M293.6 129.9h0.8M290.2 131.5h0.8M275.9 127.6h0.8M282.0 123.9h0.8M276.8 129.2h0.8M285.9 130.3h0.8M286.4 133.0h0.8M293.6 133.3h0.8M279.5 123.3h0.8M290.7 130.2h0.8M289.7 130.7h0.8M292.6 132.7h0.8M262.0 107.9h0.8M294.5 134.0h0.8M274.5 126.4h0.8M285.0 128.6h0.8M286.0 122.2h0.8M294.1 127.0h0.8M292.7 134.0h0.8M292.1 131.4h0.8M278.5 126.5h0.8M258.3 120.1h0.8M290.8 130.6h0.8M286.3 127.8h0.8M288.3 133.3h0.8M279.6 123.1h0.8M295.1 128.4h0.8M295.8 130.5h0.8M285.5 131.5h0.8M294.9 133.4h0.8M285.4 129.5h0.8M277.9 130.1h0.8M285.5 131.5h0.8M295.4 133.8h0.8M294.6 133.9h0.8M295.5 121.1h0.8M291.1 128.3h0.8M290.0 131.0h0.8M292.8 123.0h0.8M293.4 122.0h0.8M279.7 120.9h0.8M294.8 118.6h0.8M284.6 128.8h0.8M286.9 130.8h0.8M263.1 95.6h0.8M263.3 123.6h0.8M287.8 128.2h0.8M293.7 126.0h0.8M281.0 131.4h0.8M292.1 129.7h0.8M273.1 90.4h0.8M292.4 127.1h0.8M286.4 131.3h0.8M293.0 133.9h0.8M295.5 132.5h0.8M294.5 133.6h0.8M291.7 133.6h0.8M293.5 133.3h0.8M256.2 115.9h0.8M285.6 129.5h0.8M261.5 110.6h0.8M268.0 113.2h0.8M281.6 121.4h0.8M291.6 130.4h0.8M291.6 123.7h0.8M292.6 102.0h0.8M293.0 132.7h0.8M281.4 127.8h0.8M293.3 133.9h0.8M273.6 128.1h0.8M288.3 125.7h0.8M288.8 131.0h0.8M294.0 124.0h0.8M286.0 128.1h0.8M290.5 128.9h0.8M290.8 133.3h0.8M291.2 128.3h0.8M274.5 125.6h0.8M284.4 119.6h0.8M284.7 114.9h0.8M292.8 126.3h0.8M281.0 127.6h0.8M286.3 132.5h0.8M295.7 134.5h0.8M272.2 125.8h0.8M286.0 130.6h0.8M273.3 121.3h0.8M290.9 129.9h0.8M293.3 123.3h0.8M294.0 125.3h0.8M287.7 132.9h0.8M251.7 115.3h0.8M283.8 131.3h0.8M294.4 128.6h0.8M272.2 115.1h0.8M283.9 127.8h0.8M294.1 110.9h0.8M291.6 130.1h0.8M295.6 133.2h0.8M288.0 130.8h0.8M290.2 132.0h0.8M295.7 130.8h0.8M291.2 133.7h0.8M291.0 129.6h0.8M281.3 129.4h0.8M294.6 130.8h0.8M286.1 130.2h0.8M258.4 118.2h0.8M288.0 133.5h0.8M294.4 133.7h0.8M293.7 133.7h0.8M294.7 125.2h0.8M286.4 130.3h0.8M287.1 132.0h0.8M274.3 121.8h0.8M289.9 133.9h0.8M295.9 134.5h0.8M282.0 132.2h0.8M289.5 130.8h0.8M290.9 132.7h0.8M265.8 104.4h0.8M280.8 128.0h0.8M263.4 115.9h0.8M293.1 133.8h0.8M294.2 134.1h0.8M290.6 130.2h0.8M293.4 134.1h0.8M291.5 131.7h0.8M273.2 115.8h0.8M277.4 129.3h0.8M277.3 129.1h0.8M286.5 129.8h0.8M293.1 131.3h0.8M292.6 128.0h0.8M293.0 128.4h0.8M293.7 134.4h0.8M289.7 124.8h0.8M285.1 131.7h0.8M288.4 132.0h0.8M284.3 131.3h0.8M293.9 108.1h0.8M295.5 134.0h0.8M291.8 132.6h0.8M287.3 130.4h0.8M294.1 127.8h0.8M282.7 131.5h0.8M293.9 134.0h0.8M288.2 129.2h0.8M282.3 131.0h0.8M274.4 115.9h0.8M289.0 133.3h0.8M293.9 129.6h0.8M295.2 131.0h0.8M282.4 132.4h0.8M294.2 133.4h0.8M289.7 125.8h0.8M278.7 128.7h0.8M295.8 131.8h0.8M293.6 133.1h0.8M267.1 124.4h0.8M290.5 129.4h0.8M267.0 126.2h0.8M286.4 128.3h0.8M294.5 134.1h0.8M291.6 132.5h0.8M283.1 115.2h0.8M284.3 130.2h0.8M234.1 72.9h0.8M289.7 131.2h0.8M288.1 133.2h0.8M284.8 127.0h0.8M289.0 130.0h0.8M270.3 121.9h0.8M283.4 122.0h0.8M281.7 129.1h0.8M262.2 102.4h0.8M295.0 98.8h0.8M293.9 126.4h0.8M284.9 125.7h0.8M291.3 132.8h0.8M293.8 133.9h0.8M294.6 133.8h0.8M277.5 126.6h0.8M275.0 104.5h0.8M289.7 133.1h0.8M271.6 128.0h0.8M288.2 125.4h0.8M294.5 133.3h0.8M284.6 132.5h0.8M274.4 121.6h0.8M287.2 126.7h0.8M294.3 127.4h0.8M287.6 131.4h0.8M277.9 127.7h0.8M295.4 130.2h0.8M295.5 131.6h0.8M293.3 132.3h0.8M290.1 128.9h0.8M285.0 131.0h0.8M293.1 128.5h0.8M295.2 131.3h0.8M282.0 127.3h0.8M295.6 134.3h0.8M284.9 125.6h0.8M285.2 113.0h0.8M283.0 129.8h0.8M262.2 122.0h0.8M294.6 132.7h0.8M295.6 131.5h0.8M287.7 132.7h0.8M285.8 130.3h0.8M283.0 124.8h0.8M278.7 125.0h0.8M294.8 131.4h0.8M284.1 131.8h0.8M290.9 131.1h0.8M292.5 134.0h0.8M292.3 132.2h0.8M280.0 108.9h0.8M275.9 117.4h0.8M252.1 111.4h0.8M285.6 133.1h0.8M282.2 123.2h0.8M291.4 130.3h0.8M294.8 124.3h0.8M289.9 131.4h0.8M293.2 126.5h0.8M263.1 120.7h0.8M288.0 132.2h0.8M282.9 127.7h0.8M275.8 130.3h0.8M288.4 118.4h0.8M295.6 131.0h0.8M290.8 133.6h0.8M292.1 121.1h0.8M293.3 131.9h0.8M274.3 129.2h0.8M295.7 131.2h0.8M285.4 133.0h0.8M276.4 122.2h0.8M286.2 132.0h0.8M268.4 125.6h0.8M287.3 122.7h0.8M287.5 129.4h0.8M265.5 121.8h0.8M291.9 120.5h0.8M240.6 106.7h0.8M274.9 121.6h0.8M293.4 133.4h0.8M295.3 127.9h0.8M295.0 127.9h0.8M278.9 107.7h0.8M294.6 128.3h0.8M295.0 134.1h0.8M275.9 129.5h0.8M281.6 109.9h0.8M288.8 131.4h0.8M271.7 122.4h0.8M251.4 106.8h0.8M289.6 133.7h0.8M272.0 120.1h0.8M294.3 130.1h0.8M292.5 132.0h0.8M294.1 134.1h0.8M289.1 128.4h0.8M282.6 122.9h0.8M269.8 119.0h0.8M292.8 128.5h0.8M281.7 131.6h0.8M295.7 125.9h0.8M293.9 126.7h0.8M264.5 121.4h0.8M287.9 133.3h0.8M295.0 127.6h0.8M285.4 131.8h0.8M293.6 134.1h0.8M280.4 130.2h0.8M295.3 128.2h0.8M291.9 133.5h0.8M287.0 131.4h0.8M287.9 130.9h0.8M287.6 132.2h0.8M288.4 120.0h0.8M293.4 132.3h0.8M289.3 131.3h0.8M291.4 130.2h0.8M266.9 125.4h0.8M289.6 117.1h0.8M295.9 130.4h0.8M291.0 131.2h0.8M282.0 130.8h0.8M295.2 130.8h0.8M249.0 109.7h0.8M266.5 121.4h0.8M283.7 127.4h0.8M280.3 126.3h0.8M283.5 126.5h0.8M292.8 125.9h0.8M285.8 130.0h0.8M285.2 131.1h0.8M293.0 124.8h0.8M293.3 132.7h0.8M286.3 130.2h0.8M294.9 133.3h0.8M280.3 131.1h0.8M288.9 133.3h0.8M295.0 120.5h0.8M289.7 131.3h0.8M295.1 133.9h0.8M288.1 121.8h0.8M266.1 122.6h0.8M288.2 132.6h0.8M276.7 129.9h0.8M292.0 133.4h0.8M281.5 121.7h0.8M289.7 132.2h0.8M269.3 127.0h0.8M280.4 129.9h0.8M270.4 126.3h0.8M273.9 118.1h0.8M291.9 133.3h0.8M285.2 132.8h0.8M286.7 131.7h0.8M284.1 132.3h0.8M283.4 131.2h0.8M286.7 127.5h0.8M293.9 133.0h0.8M282.5 126.5h0.8M272.1 128.8h0.8M290.6 132.3h0.8M272.8 125.0h0.8M291.6 133.5h0.8M289.6 132.2h0.8M295.7 131.0h0.8M272.4 125.8h0.8M289.5 124.8h0.8M262.7 100.6h0.8M281.2 131.1h0.8M291.1 132.4h0.8M278.6 122.8h0.8M277.6 130.1h0.8M293.1 115.0h0.8M291.4 130.5h0.8M289.9 128.6h0.8M295.8 128.7h0.8M270.2 120.4h0.8M291.3 129.3h0.8M293.4 128.7h0.8M278.7 126.4h0.8M281.0 125.9h0.8M280.2 119.4h0.8M280.6 119.2h0.8M282.6 132.1h0.8M293.5 125.1h0.8M294.9 127.1h0.8M282.3 131.7h0.8M272.6 121.3h0.8M293.3 132.8h0.8M283.7 127.9h0.8M286.5 124.5h0.8M291.8 126.4h0.8M260.0 108.2h0.8M289.8 132.8h0.8M288.5 131.5h0.8M284.1 132.4h0.8M292.2 133.9h0.8M294.5 133.1h0.8M287.6 126.5h0.8M290.9 125.1h0.8M288.5 119.9h0.8M291.5 132.6h0.8M294.0 128.5h0.8M286.3 119.4h0.8M288.6 127.4h0.8M294.0 124.3h0.8M295.1 133.8h0.8M247.1 113.0h0.8M261.9 86.0h0.8M295.2 132.6h0.8M279.0 112.3h0.8M287.6 122.9h0.8M290.0 128.2h0.8M295.1 130.6h0.8M293.4 129.4h0.8M292.3 134.2h0.8M289.5 132.8h0.8M288.3 133.7h0.8M289.8 132.9h0.8M291.1 130.3h0.8M281.5 128.8h0.8M289.9 132.6h0.8M285.9 126.9h0.8M293.0 133.8h0.8M282.9 131.0h0.8M280.8 127.7h0.8M294.9 133.0h0.8M267.1 114.3h0.8M284.6 105.7h0.8M242.9 95.4h0.8M273.8 125.4h0.8M271.9 126.8h0.8M265.2 97.5h0.8M277.6 112.8h0.8M283.6 127.1h0.8M294.6 129.7h0.8M294.9 126.0h0.8M278.4 119.7h0.8M281.5 130.5h0.8M286.0 130.2h0.8M273.5 124.0h0.8M290.2 128.7h0.8M279.7 126.2h0.8M290.9 129.6h0.8M286.8 133.0h0.8M292.5 133.7h0.8M288.2 133.2h0.8M280.4 127.2h0.8M294.3 129.9h0.8M279.4 131.4h0.8M281.7 129.0h0.8M271.4 112.8h0.8M285.6 125.7h0.8M293.7 129.3h0.8M283.0 125.7h0.8M289.5 132.8h0.8M290.8 133.4h0.8M284.3 127.4h0.8M285.5 125.8h0.8M292.3 130.6h0.8M278.8 125.9h0.8M293.8 133.2h0.8M291.9 132.7h0.8M283.6 130.4h0.8M293.4 123.0h0.8M286.6 122.3h0.8M289.9 133.4h0.8M295.1 125.6h0.8M295.6 134.3h0.8M286.2 130.9h0.8M295.5 133.0h0.8M286.4 132.6h0.8M290.9 133.0h0.8M288.4 124.1h0.8M286.4 126.8h0.8M277.7 131.0h0.8M294.8 128.2h0.8M288.7 131.4h0.8M274.6 128.2h0.8M288.9 126.8h0.8M282.7 132.2h0.8M292.7 126.5h0.8M285.7 130.9h0.8M271.5 123.9h0.8M273.1 127.4h0.8M285.7 131.0h0.8M295.9 130.7h0.8M288.2 132.0h0.8M291.8 132.1h0.8M285.2 116.7h0.8M282.0 117.5h0.8M292.0 134.2h0.8M294.1 127.5h0.8M294.8 129.2h0.8M246.0 98.4h0.8M288.7 132.8h0.8M276.3 129.3h0.8M295.8 132.2h0.8M268.5 90.1h0.8M288.2 133.5h0.8M289.2 131.4h0.8M284.5 130.7h0.8M290.3 125.9h0.8M278.8 129.8h0.8M287.5 133.4h0.8M288.4 133.7h0.8M285.2 130.8h0.8M267.1 121.8h0.8M293.9 129.1h0.8M290.6 130.7h0.8M282.0 129.7h0.8M287.8 133.4h0.8M291.9 133.9h0.8M288.5 130.9h0.8M293.4 132.7h0.8M295.8 123.9h0.8M274.3 127.6h0.8M245.8 100.5h0.8M288.3 132.1h0.8M283.0 123.7h0.8M279.2 128.3h0.8M273.8 128.1h0.8M279.1 109.9h0.8M295.4 133.9h0.8M283.8 127.3h0.8M294.3 134.4h0.8M267.6 96.2h0.8M269.9 127.6h0.8M281.2 129.1h0.8M291.0 132.7h0.8M282.6 129.9h0.8M294.0 134.3h0.8M295.4 132.6h0.8M282.1 128.0h0.8M260.2 106.3h0.8M271.9 124.0h0.8M288.1 128.4h0.8M285.1 132.2h0.8M287.4 130.8h0.8M288.6 130.8h0.8M288.3 129.6h0.8M291.9 133.6h0.8M235.3 88.5h0.8M292.4 127.3h0.8M279.5 129.4h0.8M292.3 133.4h0.8M295.7 133.5h0.8M270.0 105.0h0.8M285.2 115.5h0.8M295.3 131.7h0.8M258.1 119.2h0.8M295.7 124.9h0.8M285.9 120.4h0.8M295.0 128.0h0.8M286.5 124.1h0.8M291.9 134.1h0.8M285.2 131.1h0.8M294.1 133.8h0.8M294.9 131.1h0.8M279.8 131.2h0.8M293.6 127.8h0.8M292.9 130.9h0.8M293.7 127.9h0.8M286.6 133.0h0.8M291.5 129.7h0.8M293.0 133.8h0.8M290.5 134.0h0.8M295.3 134.1h0.8M292.1 127.5h0.8M271.9 125.7h0.8M281.5 123.1h0.8M256.7 118.6h0.8M283.0 121.2h0.8M281.2 131.9h0.8M276.7 122.3h0.8M286.1 133.1h0.8M295.0 134.5h0.8M287.3 129.4h0.8M294.8 127.8h0.8M290.3 133.4h0.8M286.5 132.0h0.8M293.3 133.5h0.8M279.3 131.0h0.8M293.0 133.8h0.8M284.1 127.3h0.8M289.9 133.3h0.8M295.7 125.1h0.8M286.0 133.0h0.8M285.0 124.5h0.8M293.5 123.3h0.8M293.9 132.2h0.8M289.7 119.9h0.8M288.9 128.0h0.8M282.2 130.7h0.8M289.3 131.2h0.8M291.6 133.3h0.8M294.0 117.5h0.8M268.0 125.9h0.8M241.6 104.9h0.8M280.6 128.6h0.8M289.1 131.4h0.8M295.5 131.9h0.8M292.8 124.4h0.8M285.2 131.6h0.8M276.5 125.6h0.8M285.1 126.7h0.8M281.9 131.1h0.8M274.2 121.6h0.8M280.7 124.8h0.8M293.0 118.9h0.8M282.0 119.6h0.8M292.3 132.8h0.8M273.1 91.3h0.8M283.1 131.8h0.8M292.3 131.2h0.8M295.8 133.1h0.8M286.9 121.5h0.8M283.4 121.6h0.8M293.4 126.5h0.8M293.3 133.3h0.8M284.4 131.6h0.8M295.8 130.2h0.8M295.2 130.8h0.8M294.7 131.9h0.8M271.4 125.2h0.8M293.5 125.9h0.8M269.2 123.4h0.8M281.5 130.8h0.8M295.7 133.7h0.8M286.2 126.2h0.8M294.2 133.9h0.8M292.1 133.1h0.8M291.3 128.5h0.8M291.0 128.5h0.8M284.6 121.0h0.8M286.4 116.7h0.8M290.9 130.9h0.8M293.5 133.5h0.8M291.3 126.3h0.8M271.0 124.6h0.8M291.3 132.5h0.8M287.0 130.7h0.8M242.9 98.9h0.8M291.1 130.7h0.8M289.2 120.0h0.8M293.7 128.2h0.8M292.3 132.3h0.8M295.5 133.5h0.8M291.8 133.0h0.8M285.1 132.5h0.8M292.0 131.1h0.8M287.7 129.7h0.8M293.9 133.3h0.8M280.2 106.9h0.8M293.9 134.1h0.8M273.2 91.7h0.8M290.4 120.2h0.8M286.2 122.5h0.8M295.4 134.5h0.8M276.3 126.9h0.8M294.7 129.0h0.8M295.9 133.8h0.8M281.4 125.1h0.8M288.2 129.5h0.8M286.2 131.9h0.8M291.3 130.2h0.8M293.0 128.3h0.8M269.3 121.2h0.8M294.0 133.2h0.8M286.4 130.6h0.8M290.5 134.0h0.8M290.6 132.1h0.8M294.6 118.4h0.8M280.0 113.7h0.8M292.9 129.9h0.8M282.3 131.0h0.8M286.2 127.4h0.8M286.3 129.7h0.8M292.8 133.1h0.8M291.8 131.4h0.8M290.1 133.0h0.8M295.3 117.1h0.8M291.2 125.2h0.8M271.8 127.7h0.8M293.7 133.4h0.8M295.9 133.7h0.8M285.7 127.5h0.8M293.9 131.6h0.8M284.9 126.9h0.8M283.5 125.7h0.8M294.9 134.0h0.8M282.1 129.3h0.8M282.7 126.0h0.8M280.1 125.1h0.8M290.0 124.2h0.8M284.0 129.6h0.8M277.3 128.5h0.8M291.4 130.5h0.8M253.8 116.9h0.8M292.2 133.8h0.8M284.6 129.9h0.8M288.9 131.9h0.8M291.0 130.6h0.8M294.0 132.0h0.8M294.2 131.8h0.8M288.6 131.4h0.8M291.8 127.8h0.8M293.0 131.4h0.8M259.9 119.2h0.8M290.1 129.1h0.8M288.5 127.1h0.8M272.5 127.5h0.8M288.4 130.9h0.8M289.4 129.5h0.8M293.6 133.2h0.8M292.9 132.1h0.8M291.9 132.8h0.8M264.6 118.5h0.8M291.8 133.8h0.8M285.1 128.7h0.8M286.8 133.3h0.8M285.9 125.8h0.8M287.0 128.4h0.8M291.2 132.2h0.8M292.7 128.6h0.8M281.3 128.1h0.8M288.3 132.2h0.8M257.1 120.6h0.8M287.0 131.8h0.8M278.5 112.4h0.8M286.5 127.5h0.8M293.4 116.9h0.8M289.5 125.1h0.8M295.6 133.1h0.8M283.1 131.7h0.8M295.8 133.2h0.8M283.1 122.7h0.8M293.7 131.0h0.8M274.1 121.1h0.8M285.0 129.9h0.8M293.1 133.1h0.8M287.0 131.9h0.8M282.9 131.2h0.8M285.4 132.1h0.8M283.5 122.0h0.8M272.2 125.6h0.8M267.9 126.0h0.8M290.6 132.7h0.8M290.6 133.8h0.8M291.1 130.4h0.8M281.0 129.0h0.8M268.4 119.8h0.8M281.4 122.7h0.8M291.2 128.2h0.8M288.9 132.3h0.8M284.0 126.8h0.8M295.4 130.0h0.8M262.8 124.1h0.8M264.7 121.5h0.8M267.3 123.3h0.8M289.4 129.3h0.8M292.1 133.2h0.8M284.4 131.0h0.8M295.6 133.3h0.8M271.6 120.3h0.8M294.4 131.8h0.8M286.1 132.4h0.8M277.4 110.2h0.8M284.4 125.4h0.8M290.3 132.8h0.8M283.8 122.5h0.8M281.7 131.4h0.8M231.0 72.8h0.8M283.4 131.5h0.8M293.9 134.0h0.8M279.5 127.3h0.8M247.9 112.6h0.8M291.1 132.8h0.8M275.5 121.8h0.8M281.9 128.8h0.8M292.5 132.3h0.8M294.6 129.9h0.8M286.0 129.6h0.8M273.9 128.8h0.8M285.3 132.6h0.8M292.7 130.2h0.8M288.2 124.5h0.8M293.2 132.7h0.8M290.8 132.7h0.8M283.8 130.8h0.8M290.4 127.6h0.8M295.0 130.6h0.8M288.6 131.5h0.8M289.7 133.2h0.8M294.4 129.7h0.8M291.7 133.1h0.8M293.5 130.6h0.8M283.1 127.9h0.8M295.6 132.5h0.8M290.2 133.2h0.8M281.3 129.5h0.8M276.0 126.5h0.8M292.9 126.5h0.8M295.3 133.0h0.8M291.1 133.7h0.8M285.0 131.4h0.8M265.3 108.7h0.8M295.5 133.8h0.8M284.1 126.9h0.8M293.1 132.8h0.8M250.4 92.3h0.8M291.0 129.1h0.8M258.2 113.2h0.8M290.1 122.5h0.8M286.5 128.2h0.8M270.9 128.1h0.8M294.7 134.3h0.8M292.4 120.2h0.8M282.4 130.2h0.8M286.1 130.6h0.8M288.8 131.9h0.8M268.1 117.9h0.8M295.3 131.1h0.8M266.3 122.9h0.8M294.4 134.3h0.8M287.6 131.5h0.8M287.4 128.3h0.8M289.8 130.0h0.8M286.2 129.4h0.8M288.1 132.6h0.8M292.5 129.9h0.8M266.1 125.4h0.8M295.3 132.4h0.8M265.5 111.0h0.8M293.2 130.7h0.8M295.1 128.5h0.8M295.1 124.0h0.8M291.2 132.6h0.8M291.4 133.7h0.8M291.2 133.2h0.8M295.5 132.3h0.8M276.7 122.6h0.8M287.5 133.0h0.8M289.4 132.6h0.8M289.3 124.7h0.8M293.6 131.5h0.8M289.1 131.3h0.8M295.1 125.5h0.8M271.9 127.3h0.8M274.4 126.3h0.8M275.0 127.9h0.8M295.3 118.6h0.8M291.1 134.0h0.8M293.2 132.8h0.8M276.8 111.2h0.8M292.5 133.8h0.8M294.6 118.5h0.8M289.0 133.2h0.8M291.9 131.4h0.8M285.3 129.5h0.8M280.0 128.6h0.8M276.2 123.9h0.8M285.9 132.8h0.8M291.8 132.9h0.8M273.7 117.1h0.8M282.9 126.8h0.8M294.3 134.4h0.8M295.0 132.4h0.8M292.2 115.3h0.8M294.8 130.9h0.8M291.9 133.4h0.8M278.0 121.5h0.8M288.9 131.0h0.8M294.6 131.1h0.8M281.2 120.7h0.8M277.5 121.7h0.8M293.6 124.7h0.8M294.9 133.5h0.8M287.5 127.9h0.8M285.0 128.5h0.8M282.5 129.9h0.8M295.4 133.3h0.8M286.6 127.6h0.8M290.3 130.7h0.8M275.4 124.6h0.8M322.6 131.7h0.8M317.4 132.8h0.8M351.8 117.6h0.8M322.3 129.4h0.8M318.8 132.1h0.8M319.0 131.5h0.8M323.2 126.9h0.8M330.1 130.1h0.8M361.1 109.5h0.8M321.1 133.4h0.8M316.5 133.0h0.8M325.5 132.0h0.8M317.6 132.1h0.8M317.6 133.6h0.8M323.0 128.3h0.8M320.3 129.6h0.8M320.0 133.7h0.8M331.7 126.4h0.8M326.7 126.7h0.8M323.3 133.5h0.8M317.9 131.6h0.8M326.7 133.0h0.8M329.1 120.3h0.8M325.2 123.6h0.8M322.8 127.9h0.8M316.6 131.8h0.8M329.6 124.6h0.8M341.0 125.2h0.8M316.8 129.6h0.8M357.5 95.8h0.8M335.6 130.5h0.8M327.4 120.7h0.8M319.8 130.5h0.8M325.0 131.3h0.8M340.7 128.1h0.8M318.1 129.3h0.8M330.3 128.9h0.8M336.0 129.3h0.8M319.1 134.2h0.8M333.9 129.3h0.8M325.4 130.4h0.8M323.9 132.3h0.8M317.6 128.5h0.8M322.0 132.2h0.8M323.8 133.5h0.8M329.5 130.4h0.8M320.1 133.0h0.8M316.7 129.8h0.8M327.0 125.4h0.8M322.5 125.5h0.8M321.3 130.9h0.8M332.6 129.7h0.8M322.5 132.1h0.8M316.9 122.3h0.8M334.5 122.5h0.8M316.4 126.1h0.8M317.6 125.6h0.8M320.8 134.1h0.8M330.0 132.3h0.8M333.1 130.7h0.8M333.4 131.2h0.8M317.6 130.2h0.8M325.4 127.6h0.8M317.6 131.4h0.8M334.8 121.5h0.8M334.7 124.2h0.8M332.7 127.8h0.8M322.5 130.0h0.8M332.9 130.5h0.8M319.4 127.3h0.8M318.9 133.9h0.8M331.8 111.1h0.8M317.6 134.3h0.8M323.2 130.2h0.8M326.5 128.7h0.8M322.7 133.5h0.8M320.6 131.6h0.8M359.1 112.4h0.8M326.4 128.2h0.8M325.7 128.2h0.8M317.4 133.6h0.8M318.5 132.3h0.8M319.8 125.5h0.8M317.3 134.3h0.8M329.4 132.2h0.8M316.8 133.5h0.8M321.1 131.3h0.8M324.9 127.2h0.8M341.4 126.5h0.8M322.1 132.0h0.8M318.3 131.3h0.8M334.7 129.6h0.8M318.0 134.1h0.8M321.3 97.5h0.8M326.2 132.7h0.8M350.1 122.2h0.8M322.1 130.2h0.8M351.1 107.9h0.8M320.4 121.3h0.8M325.0 125.7h0.8M319.9 130.3h0.8M328.8 107.5h0.8M334.4 125.9h0.8M317.1 129.9h0.8M317.6 124.5h0.8M345.8 112.4h0.8M317.4 131.1h0.8M326.1 126.2h0.8M335.5 130.0h0.8M318.4 134.4h0.8M356.1 114.9h0.8M325.1 124.2h0.8M318.3 132.9h0.8M326.5 131.3h0.8M329.4 129.9h0.8M324.8 130.0h0.8M320.9 119.3h0.8M333.1 129.7h0.8M324.1 129.6h0.8M318.9 133.7h0.8M321.6 130.4h0.8M333.8 126.8h0.8M323.0 131.2h0.8M316.7 133.2h0.8M330.5 126.9h0.8M317.1 126.5h0.8M336.7 119.0h0.8M329.9 130.4h0.8M319.3 132.5h0.8M321.5 133.9h0.8M318.4 130.0h0.8M334.4 130.7h0.8M318.2 133.4h0.8M333.3 127.9h0.8M319.7 130.6h0.8M329.0 128.4h0.8M325.0 126.2h0.8M324.0 129.2h0.8M321.7 125.6h0.8M342.2 122.7h0.8M325.5 123.5h0.8M317.5 132.9h0.8M320.3 130.7h0.8M330.9 127.5h0.8M324.3 126.9h0.8M320.6 129.7h0.8M330.5 129.0h0.8M330.0 132.3h0.8M325.6 127.4h0.8M327.8 132.4h0.8M323.4 129.4h0.8M328.3 118.1h0.8M317.5 133.6h0.8M326.9 132.9h0.8M321.9 133.8h0.8M326.0 128.7h0.8M317.4 133.9h0.8M320.3 132.7h0.8M322.8 130.1h0.8M320.1 134.2h0.8M316.9 127.5h0.8M318.3 123.6h0.8M321.7 133.3h0.8M324.5 133.3h0.8M319.0 130.9h0.8M320.7 133.8h0.8M326.5 131.9h0.8M347.9 123.7h0.8M318.1 133.2h0.8M332.2 120.6h0.8M332.3 130.4h0.8M321.2 130.9h0.8M323.6 121.9h0.8M330.8 128.5h0.8M317.8 113.2h0.8M362.9 100.1h0.8M329.8 125.4h0.8M343.4 118.2h0.8M324.7 130.0h0.8M325.4 133.2h0.8M325.6 132.9h0.8M336.0 129.9h0.8M319.5 128.9h0.8M317.9 133.7h0.8M322.8 121.9h0.8M352.5 121.9h0.8M316.5 133.9h0.8M331.7 126.4h0.8M333.9 127.3h0.8M321.7 126.6h0.8M320.8 127.2h0.8M324.7 133.1h0.8M316.6 132.2h0.8M320.2 117.7h0.8M316.8 132.2h0.8M329.6 130.6h0.8M327.3 130.7h0.8M318.7 134.1h0.8M324.9 128.5h0.8M324.2 131.9h0.8M317.3 133.8h0.8M336.0 127.8h0.8M325.3 132.6h0.8M319.0 134.1h0.8M360.6 114.4h0.8M321.8 133.3h0.8M321.9 118.9h0.8M321.0 134.1h0.8M321.4 130.2h0.8M320.3 134.1h0.8M327.3 130.3h0.8M338.4 107.8h0.8M325.4 126.8h0.8M329.4 132.2h0.8M325.2 126.8h0.8M331.2 127.5h0.8M329.5 124.3h0.8M333.1 130.1h0.8M356.9 102.2h0.8M317.3 133.2h0.8M317.2 131.8h0.8M317.8 132.3h0.8M320.5 130.7h0.8M320.0 133.8h0.8M316.3 126.3h0.8M321.0 130.0h0.8M317.0 134.3h0.8M323.7 129.3h0.8M341.7 126.3h0.8M336.6 109.2h0.8M320.9 130.7h0.8M317.2 130.5h0.8M331.7 122.5h0.8M325.4 131.6h0.8M317.8 132.4h0.8M325.8 133.2h0.8M320.1 126.4h0.8M325.2 122.0h0.8M317.5 131.9h0.8M319.0 130.4h0.8M349.7 116.8h0.8M346.9 115.6h0.8M318.6 127.6h0.8M327.1 127.8h0.8M340.1 128.1h0.8M330.4 122.3h0.8M316.3 131.5h0.8M323.2 131.3h0.8M320.1 133.9h0.8M323.6 125.1h0.8M331.2 132.0h0.8M324.7 131.6h0.8M337.9 119.8h0.8M321.1 132.9h0.8M316.6 132.5h0.8M318.1 128.9h0.8M323.2 130.8h0.8M317.2 134.0h0.8M318.3 133.8h0.8M317.5 133.0h0.8M323.9 130.6h0.8M321.5 131.2h0.8M316.9 132.6h0.8M326.7 133.1h0.8M326.9 121.3h0.8M352.0 96.5h0.8M320.0 132.8h0.8M317.1 134.3h0.8M326.9 130.0h0.8M316.7 129.9h0.8M334.3 125.5h0.8M321.3 132.4h0.8M316.8 133.5h0.8M359.1 102.2h0.8M318.1 127.1h0.8M316.5 133.8h0.8M320.8 133.4h0.8M332.6 123.2h0.8M330.7 127.3h0.8M326.2 121.2h0.8M332.2 125.8h0.8M316.4 132.5h0.8M323.3 127.8h0.8M317.7 132.2h0.8M323.7 129.5h0.8M331.2 128.8h0.8M347.9 123.8h0.8M335.4 125.7h0.8M330.7 119.9h0.8M333.9 120.0h0.8M321.5 133.2h0.8M321.8 131.3h0.8M323.8 128.6h0.8M343.3 127.2h0.8M317.7 133.5h0.8M320.8 132.4h0.8M316.5 133.8h0.8M318.6 131.4h0.8M319.8 126.9h0.8M316.4 130.2h0.8M320.7 127.8h0.8M318.8 124.2h0.8M318.4 133.8h0.8M338.3 122.7h0.8M330.5 129.3h0.8M340.6 113.8h0.8M332.9 122.7h0.8M342.4 126.9h0.8M333.5 130.5h0.8M326.8 131.7h0.8M321.1 132.8h0.8M317.6 131.7h0.8M336.4 127.8h0.8M318.2 128.2h0.8M319.2 133.9h0.8M316.8 130.2h0.8M347.5 117.1h0.8M324.6 128.1h0.8M329.8 108.2h0.8M326.1 132.6h0.8M327.5 130.6h0.8M338.4 116.1h0.8M321.1 131.9h0.8M317.9 123.3h0.8M328.1 127.6h0.8M318.7 129.2h0.8M344.7 113.2h0.8M322.3 133.6h0.8M326.3 133.0h0.8M321.7 131.8h0.8M342.5 118.9h0.8M317.6 131.6h0.8M326.4 131.9h0.8M324.8 133.3h0.8M329.1 128.2h0.8M340.6 113.6h0.8M319.7 134.1h0.8M326.8 127.7h0.8M329.4 130.6h0.8M321.4 127.3h0.8M325.2 132.0h0.8M317.5 129.9h0.8M319.7 123.5h0.8M334.0 128.0h0.8M318.6 134.3h0.8M323.8 128.1h0.8M317.2 132.5h0.8M320.8 131.6h0.8M325.0 130.8h0.8M327.8 131.7h0.8M329.2 129.3h0.8M324.9 129.2h0.8M338.8 107.1h0.8M316.4 130.1h0.8M323.7 129.3h0.8M318.9 132.1h0.8M321.5 131.9h0.8M340.3 126.6h0.8M322.1 133.8h0.8M320.2 133.1h0.8M321.1 133.4h0.8M319.7 132.7h0.8M322.3 131.3h0.8M326.2 128.5h0.8M322.5 131.6h0.8M323.3 129.2h0.8M320.6 116.8h0.8M332.3 121.7h0.8M317.8 133.6h0.8M325.6 124.0h0.8M322.1 126.9h0.8M325.2 133.5h0.8M351.3 104.9h0.8M320.9 127.3h0.8M318.5 130.5h0.8M326.2 131.0h0.8M334.8 130.2h0.8M318.2 131.3h0.8M328.9 132.6h0.8M327.3 131.9h0.8M323.5 130.8h0.8M329.1 130.0h0.8M330.9 130.2h0.8M345.1 123.7h0.8M318.1 133.0h0.8M343.7 119.5h0.8M320.1 133.8h0.8M327.6 126.8h0.8M317.7 132.8h0.8M332.7 126.5h0.8M348.4 118.1h0.8M318.1 131.7h0.8M328.6 97.7h0.8M319.9 133.7h0.8M333.7 124.4h0.8M317.6 132.1h0.8M346.3 122.0h0.8M323.8 133.3h0.8M355.8 116.7h0.8M323.9 132.2h0.8M344.0 123.6h0.8M326.5 125.4h0.8M332.6 127.9h0.8M333.8 124.5h0.8M320.4 131.5h0.8M324.1 130.0h0.8M327.2 130.5h0.8M333.4 120.3h0.8M318.1 129.0h0.8M318.1 132.8h0.8M330.1 132.2h0.8M351.9 121.0h0.8M334.9 126.1h0.8M323.7 121.8h0.8M320.4 121.5h0.8M329.4 129.1h0.8M322.6 126.9h0.8M316.8 133.6h0.8M320.5 129.3h0.8M341.6 121.2h0.8M317.9 127.1h0.8M353.9 109.3h0.8M319.7 128.2h0.8M317.6 131.3h0.8M328.4 129.0h0.8M320.1 131.0h0.8M325.5 130.7h0.8M319.6 133.5h0.8M346.4 106.5h0.8M317.7 133.7h0.8M324.1 126.0h0.8M324.8 113.7h0.8M320.3 132.1h0.8M318.1 128.8h0.8M318.9 133.3h0.8M340.7 127.5h0.8M320.2 126.3h0.8M319.2 133.4h0.8M337.6 115.8h0.8M320.5 129.6h0.8M325.6 126.6h0.8M326.8 132.5h0.8M327.6 132.1h0.8M333.3 131.0h0.8M318.3 131.8h0.8M333.0 129.1h0.8M321.1 133.5h0.8M327.7 131.2h0.8M320.0 134.2h0.8M319.1 133.7h0.8M317.5 133.6h0.8M333.9 127.3h0.8M340.5 123.7h0.8M322.9 130.3h0.8M327.9 131.7h0.8M319.2 130.4h0.8M326.6 129.9h0.8M321.8 126.4h0.8M317.8 134.1h0.8M326.8 125.8h0.8M320.2 121.2h0.8M319.7 133.2h0.8M326.5 129.3h0.8M316.6 134.3h0.8M317.4 132.9h0.8M316.5 129.5h0.8M326.2 129.4h0.8M319.3 133.7h0.8M342.8 123.8h0.8M319.7 131.9h0.8M323.9 123.8h0.8M323.6 132.4h0.8M317.1 127.2h0.8M332.4 125.2h0.8M318.7 126.1h0.8M322.9 128.7h0.8M316.6 132.0h0.8M331.3 123.4h0.8M331.7 128.9h0.8M319.1 126.6h0.8M339.4 112.8h0.8M323.5 123.1h0.8M316.4 126.5h0.8M318.3 133.6h0.8M321.7 129.7h0.8M319.3 133.5h0.8M334.1 126.4h0.8M321.9 127.9h0.8M326.6 121.6h0.8M321.2 133.5h0.8M317.0 130.6h0.8M320.1 134.1h0.8M323.6 129.7h0.8M340.1 126.8h0.8M320.5 124.2h0.8M327.2 132.3h0.8M320.8 133.4h0.8M328.3 127.3h0.8M322.5 133.8h0.8M323.2 132.6h0.8M323.3 132.7h0.8M317.0 126.5h0.8M325.7 125.4h0.8M325.9 133.2h0.8M360.2 114.9h0.8M316.6 133.3h0.8M317.2 132.6h0.8M327.6 129.5h0.8M322.7 116.2h0.8M322.5 121.0h0.8M327.6 130.4h0.8M335.1 129.5h0.8M318.5 125.4h0.8M320.6 131.7h0.8M326.8 120.9h0.8M324.1 119.5h0.8M328.1 128.0h0.8M325.7 132.1h0.8M336.7 128.8h0.8M340.1 120.7h0.8M320.4 133.6h0.8M331.3 126.1h0.8M334.2 130.0h0.8M318.1 133.7h0.8M323.2 127.7h0.8M320.8 133.7h0.8M322.7 131.4h0.8M333.0 106.0h0.8M323.3 132.4h0.8M318.4 134.4h0.8M316.5 133.9h0.8M319.0 132.4h0.8M333.4 120.1h0.8M334.6 125.2h0.8M355.5 96.7h0.8M319.4 132.4h0.8M354.6 84.7h0.8M320.4 133.1h0.8M332.0 131.5h0.8M352.4 120.9h0.8M331.3 127.1h0.8M322.4 125.3h0.8M319.0 129.6h0.8M318.9 128.7h0.8M325.7 128.3h0.8M331.7 128.7h0.8M326.6 125.2h0.8M339.5 123.1h0.8M316.9 132.2h0.8M338.3 122.4h0.8M318.1 129.0h0.8M329.6 131.9h0.8M317.8 131.3h0.8M318.8 134.3h0.8M334.7 116.4h0.8M347.9 123.2h0.8M347.8 124.7h0.8M330.3 130.1h0.8M323.2 117.0h0.8M329.0 130.5h0.8M329.5 129.9h0.8M323.7 133.5h0.8M358.7 118.0h0.8M316.3 133.6h0.8M327.9 126.3h0.8M317.5 133.2h0.8M323.2 122.5h0.8M318.7 133.7h0.8M320.2 133.5h0.8M344.7 109.5h0.8M316.6 130.6h0.8M320.6 133.7h0.8M334.0 129.4h0.8M316.4 133.6h0.8M332.3 130.8h0.8M324.6 125.9h0.8M332.2 124.1h0.8M327.4 132.3h0.8M336.2 130.0h0.8M320.6 122.9h0.8M330.3 130.7h0.8M350.5 115.7h0.8M317.0 131.6h0.8M320.1 124.8h0.8M317.2 131.8h0.8M318.7 130.5h0.8M317.9 133.7h0.8M333.1 126.9h0.8M321.9 133.8h0.8M317.0 131.1h0.8M319.7 126.4h0.8M318.9 125.9h0.8M342.3 127.8h0.8M322.5 131.4h0.8M326.3 118.8h0.8M316.6 126.9h0.8M321.8 132.1h0.8M327.6 131.1h0.8M317.4 134.4h0.8M316.8 119.5h0.8M318.0 129.8h0.8M321.9 123.9h0.8M318.6 133.8h0.8M318.5 132.1h0.8M316.6 132.6h0.8M322.3 129.5h0.8M330.4 122.7h0.8M318.8 127.3h0.8M353.6 100.5h0.8M319.6 129.4h0.8M318.5 127.1h0.8M323.9 132.2h0.8M318.1 121.2h0.8M317.8 134.0h0.8M338.1 117.2h0.8M316.5 129.6h0.8M339.3 118.1h0.8M317.5 126.2h0.8M317.6 133.9h0.8M321.4 126.4h0.8M322.3 125.2h0.8M316.4 125.6h0.8M328.6 119.3h0.8M318.0 133.9h0.8M322.8 132.9h0.8M326.8 128.1h0.8M346.5 123.9h0.8M324.1 117.6h0.8M327.0 131.8h0.8M336.1 127.0h0.8M328.3 131.0h0.8M328.6 108.8h0.8M335.2 125.9h0.8M320.2 133.6h0.8M324.3 132.3h0.8M335.9 129.1h0.8M320.5 132.3h0.8M336.1 125.7h0.8M317.6 134.4h0.8M318.5 131.2h0.8M325.5 129.8h0.8M326.8 131.5h0.8M322.6 119.7h0.8M339.9 118.1h0.8M319.3 119.7h0.8M345.5 126.5h0.8M316.9 133.4h0.8M335.3 127.1h0.8M324.5 132.3h0.8M317.7 130.8h0.8M335.0 124.3h0.8M330.1 132.3h0.8M320.3 121.6h0.8M339.6 124.5h0.8M323.0 126.0h0.8M318.1 115.9h0.8M330.0 127.0h0.8M321.9 129.8h0.8M341.9 124.3h0.8M323.5 132.0h0.8M335.8 127.1h0.8M321.7 133.0h0.8M348.0 98.5h0.8M330.2 129.6h0.8M318.4 134.2h0.8M317.9 130.8h0.8M326.1 122.2h0.8M318.8 124.8h0.8M340.8 118.4h0.8M326.7 131.8h0.8M322.6 126.5h0.8M321.8 126.8h0.8M334.7 123.9h0.8M318.5 130.7h0.8M316.7 133.9h0.8M317.1 133.8h0.8M321.1 133.2h0.8M320.7 131.8h0.8M318.3 133.7h0.8M356.0 118.8h0.8M353.3 117.9h0.8M324.4 125.6h0.8M317.4 125.8h0.8M322.2 133.6h0.8M319.7 128.0h0.8M320.7 126.2h0.8M336.0 119.3h0.8M325.8 127.0h0.8M330.8 121.3h0.8M345.7 126.1h0.8M349.4 91.3h0.8M321.4 129.9h0.8M335.0 121.7h0.8M317.4 127.8h0.8M319.2 129.5h0.8M319.9 126.9h0.8M319.6 133.9h0.8M321.9 132.2h0.8M317.7 120.9h0.8M347.6 117.4h0.8M332.4 126.4h0.8M320.8 131.5h0.8M318.3 134.4h0.8M332.9 127.0h0.8M324.6 131.0h0.8M330.1 124.4h0.8M327.6 126.2h0.8M331.5 122.6h0.8M339.0 125.0h0.8M319.5 128.6h0.8M321.0 133.8h0.8M317.1 125.0h0.8M316.6 125.0h0.8M322.5 121.6h0.8M320.9 131.4h0.8M321.4 132.9h0.8M325.8 131.4h0.8M322.7 133.4h0.8M330.5 132.2h0.8M328.7 131.3h0.8M316.6 132.1h0.8M337.9 126.0h0.8M317.0 132.8h0.8M328.8 101.6h0.8M317.2 131.5h0.8M317.2 132.4h0.8M334.8 125.3h0.8M326.0 131.0h0.8M328.2 128.3h0.8M324.1 121.8h0.8M323.7 132.0h0.8M319.4 132.4h0.8M341.4 124.9h0.8M316.7 125.3h0.8M330.4 122.3h0.8M328.4 121.4h0.8M317.8 127.4h0.8M316.6 122.9h0.8M318.8 133.8h0.8M322.9 129.4h0.8M334.5 127.1h0.8M338.4 127.9h0.8M316.7 133.3h0.8M318.8 131.2h0.8M340.0 118.0h0.8M324.6 133.3h0.8M325.1 127.9h0.8M328.5 132.6h0.8M318.7 131.2h0.8M324.9 120.5h0.8M340.9 120.1h0.8M322.1 128.3h0.8M322.4 133.2h0.8M325.6 129.5h0.8M318.8 133.8h0.8M321.5 129.5h0.8M331.0 131.9h0.8M316.4 134.0h0.8M320.1 132.2h0.8M319.8 133.4h0.8M328.7 127.7h0.8M320.9 131.7h0.8M323.3 131.7h0.8M325.9 131.5h0.8M316.6 134.3h0.8M316.6 128.5h0.8M325.4 129.1h0.8M320.3 131.1h0.8M324.8 132.1h0.8M317.3 134.2h0.8M321.5 129.1h0.8M325.3 132.8h0.8M321.9 133.7h0.8M324.1 116.1h0.8M321.8 130.6h0.8M324.4 132.3h0.8M322.2 131.5h0.8M319.0 132.1h0.8M325.4 131.5h0.8M327.7 121.7h0.8M323.6 127.2h0.8M342.9 115.9h0.8M327.1 119.9h0.8M321.5 133.7h0.8M317.4 116.6h0.8M319.0 133.3h0.8M317.7 133.7h0.8M317.3 131.4h0.8M323.4 127.4h0.8M336.0 127.7h0.8M320.4 132.1h0.8M323.7 131.4h0.8M339.9 123.8h0.8M320.2 125.6h0.8M324.5 130.4h0.8M318.3 132.7h0.8M322.8 125.6h0.8M331.5 131.9h0.8M317.7 133.2h0.8M320.4 133.0h0.8M335.6 119.1h0.8M318.0 133.8h0.8M319.0 133.4h0.8M317.4 134.3h0.8M338.4 126.7h0.8M325.9 123.3h0.8M345.3 117.2h0.8M322.5 131.1h0.8M318.4 132.8h0.8M351.5 122.8h0.8M349.0 122.9h0.8M330.1 130.0h0.8M344.2 123.9h0.8M324.4 132.8h0.8M323.2 133.1h0.8M327.9 128.4h0.8M316.7 134.2h0.8M338.3 124.2h0.8M317.6 134.3h0.8M319.4 123.4h0.8M318.7 126.7h0.8M333.7 131.0h0.8M323.4 132.9h0.8M316.4 127.3h0.8M323.3 133.7h0.8M318.0 132.9h0.8M331.0 123.8h0.8M320.8 132.3h0.8M321.2 132.2h0.8M319.8 131.2h0.8M317.7 129.1h0.8M317.1 113.7h0.8M323.0 130.8h0.8M322.0 133.1h0.8M317.9 134.2h0.8M319.0 134.0h0.8M323.3 128.2h0.8M316.6 129.3h0.8M320.2 117.9h0.8M322.4 132.1h0.8M316.6 128.6h0.8M319.7 131.3h0.8M316.4 130.5h0.8M317.5 133.9h0.8M316.3 133.2h0.8M327.9 130.6h0.8M316.7 117.0h0.8M327.0 126.0h0.8M327.8 132.0h0.8M342.9 115.9h0.8M327.0 130.5h0.8M322.5 120.1h0.8M320.4 118.8h0.8M328.1 130.1h0.8M318.5 129.7h0.8M331.8 128.1h0.8M317.9 132.3h0.8M326.5 122.8h0.8M324.5 129.7h0.8M325.0 126.8h0.8M322.5 133.8h0.8M317.0 133.3h0.8M328.2 128.3h0.8M342.9 107.5h0.8M319.8 127.0h0.8M326.9 124.8h0.8M329.7 128.7h0.8M334.2 120.0h0.8M317.9 123.8h0.8M327.4 132.5h0.8M316.4 133.1h0.8M330.6 129.6h0.8M357.5 119.1h0.8M326.3 129.9h0.8M324.4 129.8h0.8M319.2 133.0h0.8M318.1 132.5h0.8M323.3 133.3h0.8M340.9 122.5h0.8M317.1 133.3h0.8M317.4 130.6h0.8M320.8 132.0h0.8M320.4 133.6h0.8M335.2 130.2h0.8M318.4 130.9h0.8M341.2 128.2h0.8M324.0 128.2h0.8M327.6 126.0h0.8M325.2 121.2h0.8M326.1 131.9h0.8M328.9 132.0h0.8M321.7 133.4h0.8M316.7 131.0h0.8M334.6 129.0h0.8M318.2 130.1h0.8M326.2 129.2h0.8M326.2 133.1h0.8M321.9 121.4h0.8M320.2 124.2h0.8M318.8 133.7h0.8M318.5 131.9h0.8M331.8 124.5h0.8M332.2 126.7h0.8M339.5 117.3h0.8M319.4 133.8h0.8M316.5 133.2h0.8M318.0 131.6h0.8M319.1 130.9h0.8M317.1 133.5h0.8M319.9 127.7h0.8M325.7 120.6h0.8M328.6 118.2h0.8M322.5 132.9h0.8M318.6 123.1h0.8M328.6 128.8h0.8M331.1 123.8h0.8M316.7 134.0h0.8M317.0 132.6h0.8M317.7 129.8h0.8M321.5 128.2h0.8M327.6 131.2h0.8M339.1 125.6h0.8M316.6 132.8h0.8M317.2 133.4h0.8M329.1 132.6h0.8M337.6 116.7h0.8M322.8 129.1h0.8M327.7 129.7h0.8M318.0 127.1h0.8M328.7 130.7h0.8M358.9 107.2h0.8M317.0 133.9h0.8M336.2 122.9h0.8M320.3 133.2h0.8M321.7 132.6h0.8M323.2 132.9h0.8M317.6 134.3h0.8M328.9 129.2h0.8M317.6 132.7h0.8M318.7 132.9h0.8M329.6 130.3h0.8M330.8 128.3h0.8M327.4 113.9h0.8M323.4 119.1h0.8M318.4 130.1h0.8M328.3 132.7h0.8M329.3 129.9h0.8M324.4 129.1h0.8M331.7 131.7h0.8M322.4 122.5h0.8M325.7 130.6h0.8M320.8 132.6h0.8M317.0 134.3h0.8M318.1 129.4h0.8M319.0 131.1h0.8M319.7 129.0h0.8M358.4 103.6h0.8M330.4 128.9h0.8M326.2 129.0h0.8M320.0 126.6h0.8M318.7 132.2h0.8M318.2 130.2h0.8M317.1 129.6h0.8M322.0 127.0h0.8M328.7 118.6h0.8M324.8 133.2h0.8M329.2 129.8h0.8M317.1 134.0h0.8M321.4 129.0h0.8M343.1 124.7h0.8M347.3 114.7h0.8M320.7 132.0h0.8M341.0 128.1h0.8M360.4 117.0h0.8M334.7 126.8h0.8M331.8 121.7h0.8M325.1 126.3h0.8M324.4 130.9h0.8M331.0 129.5h0.8M321.7 132.3h0.8M324.4 125.9h0.8M325.7 133.2h0.8M316.9 131.8h0.8M324.0 133.2h0.8M317.4 134.2h0.8M319.6 133.3h0.8M328.0 128.3h0.8M317.4 133.1h0.8M322.9 129.4h0.8M321.6 132.1h0.8M316.5 134.3h0.8M328.3 124.0h0.8M329.2 128.8h0.8M330.8 131.4h0.8M331.7 131.6h0.8M325.2 130.4h0.8M321.3 129.0h0.8M330.5 127.7h0.8M324.9 133.3h0.8M317.2 134.5h0.8M321.3 132.7h0.8M318.3 133.3h0.8M317.0 134.1h0.8M323.1 122.9h0.8M327.0 126.6h0.8M316.6 132.0h0.8M348.6 109.7h0.8M316.7 133.2h0.8M319.2 133.6h0.8M318.0 133.4h0.8M317.5 133.0h0.8M346.6 111.3h0.8M330.8 121.2h0.8M319.1 131.2h0.8M319.4 132.8h0.8M316.7 130.1h0.8M321.0 133.2h0.8M323.4 131.8h0.8M318.5 119.4h0.8M326.1 132.5h0.8M317.8 127.6h0.8M361.8 114.6h0.8M324.0 131.9h0.8M318.1 130.6h0.8M319.7 130.3h0.8M325.5 129.4h0.8M321.6 133.8h0.8M346.8 125.5h0.8M317.9 132.5h0.8M342.1 123.0h0.8M320.2 133.9h0.8M318.9 130.6h0.8M360.4 90.1h0.8M340.7 108.6h0.8M319.4 134.1h0.8M326.8 133.1h0.8M323.2 126.4h0.8M319.3 133.3h0.8M318.9 131.3h0.8M325.4 132.0h0.8M332.2 128.1h0.8M322.0 133.9h0.8M322.2 132.2h0.8M318.0 126.9h0.8M334.4 129.5h0.8M318.5 128.9h0.8M323.1 123.3h0.8M342.4 121.1h0.8M320.3 131.3h0.8M325.0 125.0h0.8M319.7 132.2h0.8M320.6 128.1h0.8M319.7 132.4h0.8M316.5 127.6h0.8M318.0 121.7h0.8M316.9 134.5h0.8M320.2 132.4h0.8M339.2 110.7h0.8M317.7 132.4h0.8M319.1 130.9h0.8M318.6 133.2h0.8M322.8 126.5h0.8M347.0 118.8h0.8M329.1 131.4h0.8M321.6 131.3h0.8M318.9 133.7h0.8M316.4 131.3h0.8M324.4 131.2h0.8M326.7 126.5h0.8M319.2 130.4h0.8M331.4 130.6h0.8M332.8 130.8h0.8M319.1 133.2h0.8M324.7 131.6h0.8M322.5 126.4h0.8M317.8 130.3h0.8M316.8 134.3h0.8M338.6 127.8h0.8M330.4 114.6h0.8M326.1 124.9h0.8M352.5 112.4h0.8M333.9 123.8h0.8M335.3 128.6h0.8M328.6 126.6h0.8M333.5 130.9h0.8M320.7 124.1h0.8M330.7 125.5h0.8M322.4 125.6h0.8M320.7 133.5h0.8M317.5 131.1h0.8M316.5 123.3h0.8M317.4 133.9h0.8M328.0 132.8h0.8M327.1 130.3h0.8M326.2 125.7h0.8M320.5 128.3h0.8M323.1 124.9h0.8M318.1 131.7h0.8M349.2 117.7h0.8M323.2 132.8h0.8M319.9 133.6h0.8M321.4 131.0h0.8M318.3 134.4h0.8M325.2 129.9h0.8M321.2 133.7h0.8M317.3 133.4h0.8M336.0 129.9h0.8M317.3 134.2h0.8M316.8 131.6h0.8M323.9 126.1h0.8M333.9 129.6h0.8M322.1 127.4h0.8M322.1 130.6h0.8M316.5 134.5h0.8M320.6 133.4h0.8M322.0 132.8h0.8M324.4 132.6h0.8M318.0 126.7h0.8M336.1 126.1h0.8M320.6 131.6h0.8M335.4 127.4h0.8M319.9 113.4h0.8M320.0 133.9h0.8M316.3 132.2h0.8M327.8 131.4h0.8M317.9 120.1h0.8M357.7 116.1h0.8M361.2 115.7h0.8M320.6 131.5h0.8M327.7 128.9h0.8M317.0 131.0h0.8M320.4 127.7h0.8M322.4 121.2h0.8M347.1 118.8h0.8M323.0 131.7h0.8M319.7 128.6h0.8M324.3 127.9h0.8M319.9 131.7h0.8M330.6 129.1h0.8M318.9 131.9h0.8M325.1 128.7h0.8M318.1 133.9h0.8M322.5 124.6h0.8M319.0 127.0h0.8M319.5 129.8h0.8M319.0 134.4h0.8M354.2 105.5h0.8M321.8 125.5h0.8M316.9 131.4h0.8M324.7 132.8h0.8M316.4 132.7h0.8M324.1 131.3h0.8M323.0 133.4h0.8M319.5 130.3h0.8M324.7 131.9h0.8M329.5 132.4h0.8M316.5 133.2h0.8M316.4 131.6h0.8M347.2 115.7h0.8M316.8 131.8h0.8M333.2 123.6h0.8M334.0 130.1h0.8M325.3 129.9h0.8M317.5 128.1h0.8M317.5 132.1h0.8M321.4 132.6h0.8M317.3 132.1h0.8M316.7 121.8h0.8M318.3 133.7h0.8M323.5 130.6h0.8M337.5 128.4h0.8M338.7 121.6h0.8M319.9 129.6h0.8M347.4 103.7h0.8M331.6 128.6h0.8M316.6 133.3h0.8M318.9 127.3h0.8M319.2 129.2h0.8M329.5 129.7h0.8M326.8 124.6h0.8M325.2 130.2h0.8M333.8 124.6h0.8M324.2 125.2h0.8M334.8 128.5h0.8M346.3 121.7h0.8M327.5 130.0h0.8M350.1 123.6h0.8M334.6 130.1h0.8M347.0 113.2h0.8M316.3 133.4h0.8M316.8 130.7h0.8M327.4 132.6h0.8M323.7 131.1h0.8M318.2 132.4h0.8M356.5 117.9h0.8M317.3 130.6h0.8M320.3 130.8h0.8M316.5 130.0h0.8M327.8 129.5h0.8M340.9 113.1h0.8M339.0 90.9h0.8M338.9 129.1h0.8M329.8 118.1h0.8M362.6 112.8h0.8M341.0 111.0h0.8M325.8 129.0h0.8M322.0 132.2h0.8M320.4 127.8h0.8M326.5 131.1h0.8M327.2 126.7h0.8M318.4 133.7h0.8M334.8 130.2h0.8M318.4 128.8h0.8M318.6 129.8h0.8M341.4 123.5h0.8M322.7 132.9h0.8M342.7 117.9h0.8M320.3 131.1h0.8M336.4 127.1h0.8M320.3 131.3h0.8M332.9 124.1h0.8M317.8 132.0h0.8M335.1 124.6h0.8M351.7 114.2h0.8M322.2 133.1h0.8M321.5 129.0h0.8M320.6 131.5h0.8M316.4 128.3h0.8M317.1 131.9h0.8M319.2 130.6h0.8M317.1 134.0h0.8M324.4 129.7h0.8M317.1 130.7h0.8M330.4 126.0h0.8M322.9 133.5h0.8M323.4 131.4h0.8M321.8 133.8h0.8M316.9 131.7h0.8M323.5 130.2h0.8M318.3 133.4h0.8M316.9 128.9h0.8M319.3 133.3h0.8M332.4 131.0h0.8M322.3 124.4h0.8M335.8 130.3h0.8M226.9 63.7h0.8M228.0 86.0h0.8M238.2 78.0h0.8M244.3 77.1h0.8M255.5 68.2h0.8M261.6 63.7h0.8M258.6 79.8h0.8M270.8 99.4h0.8M277.9 90.5h0.8M348.3 28.0h0.8M351.4 38.7h0.8M341.2 53.0h0.8M349.3 53.9h0.8M360.6 60.1h0.8M358.5 88.7h0.8M336.1 101.2h0.8M346.3 98.5h0.8M353.4 100.3h0.8M357.5 110.1h0.8M350.4 106.6h0.8M235.1 99.4h0.8M240.2 91.4h0.8" stroke="#bf1c1c" stroke-width="0.8" opacity="0.85"/>
<path d="M296.30,124.05 L295.79,124.48 L295.28,124.80 L294.77,125.09 L294.26,125.36 L293.75,125.62 L293.24,125.87 L292.73,126.11 L292.22,126.34 L291.71,126.56 L291.20,126.79 L290.69,127.00 L290.18,127.22 L289.67,127.43 L289.16,127.63 L288.65,127.84 L288.14,128.04 L287.63,128.23 L287.12,128.43 L286.61,128.62 L286.10,128.82 L285.59,129.00 L285.08,129.19 L284.57,129.38 L284.06,129.56 L283.55,129.75 L283.04,129.93 L282.53,130.11 L282.02,130.29 L281.51,130.47 L281.00,130.64 L280.49,130.82 L279.98,130.99 L279.47,131.16 L278.96,131.34 L278.45,131.51 L277.94,131.68 L277.43,131.85 L276.92,132.01 L276.41,132.18 L275.90,132.35 L275.39,132.51 L274.88,132.68 L274.37,132.84 L273.86,133.01 L273.35,133.17 L273.35,134.00 L273.86,134.03 L274.37,134.05 L274.88,134.08 L275.39,134.11 L275.90,134.13 L276.41,134.16 L276.92,134.19 L277.43,134.21 L277.94,134.24 L278.45,134.27 L278.96,134.29 L279.47,134.32 L279.98,134.35 L280.49,134.37 L281.00,134.40 L281.51,134.43 L282.02,134.45 L282.53,134.48 L283.04,134.51 L283.55,134.53 L284.06,134.56 L284.57,134.59 L285.08,134.62 L285.59,134.64 L286.10,134.67 L286.61,134.70 L287.12,134.72 L287.63,134.75 L288.14,134.78 L288.65,134.80 L289.16,134.83 L289.67,134.86 L290.18,134.88 L290.69,134.91 L291.20,134.94 L291.71,134.96 L292.22,134.99 L292.73,135.02 L293.24,135.04 L293.75,135.07 L294.26,135.10 L294.77,135.12 L295.28,135.15 L295.79,135.18 L296.30,135.20Z" fill="#c4401e" opacity="0.92"/>
<path d="M316.70,123.69 L317.21,124.26 L317.72,124.69 L318.23,125.07 L318.74,125.43 L319.25,125.77 L319.76,126.10 L320.27,126.41 L320.78,126.72 L321.29,127.02 L321.80,127.31 L322.31,127.60 L322.82,127.88 L323.33,128.16 L323.84,128.43 L324.35,128.70 L324.86,128.97 L325.37,129.23 L325.88,129.49 L326.39,129.74 L326.90,130.00 L327.41,130.25 L327.92,130.50 L328.43,130.74 L328.94,130.99 L329.45,131.23 L329.96,131.47 L330.47,131.71 L330.98,131.94 L331.49,132.18 L332.00,132.41 L332.51,132.64 L333.02,132.87 L333.53,133.10 L334.04,133.33 L334.04,134.29 L333.53,134.32 L333.02,134.35 L332.51,134.37 L332.00,134.40 L331.49,134.43 L330.98,134.45 L330.47,134.48 L329.96,134.51 L329.45,134.53 L328.94,134.56 L328.43,134.59 L327.92,134.62 L327.41,134.64 L326.90,134.67 L326.39,134.70 L325.88,134.72 L325.37,134.75 L324.86,134.78 L324.35,134.80 L323.84,134.83 L323.33,134.86 L322.82,134.88 L322.31,134.91 L321.80,134.94 L321.29,134.96 L320.78,134.99 L320.27,135.02 L319.76,135.04 L319.25,135.07 L318.74,135.10 L318.23,135.12 L317.72,135.15 L317.21,135.18 L316.70,135.20Z" fill="#c4401e" opacity="0.92"/>
<path d="M296.30,135.20 L295.28,135.15 L294.26,135.10 L293.24,135.04 L292.22,134.99 L291.20,134.94 L290.18,134.88 L289.16,134.83 L288.14,134.78 L287.12,134.72 L286.10,134.67 L285.08,134.62 L284.06,134.56 L283.04,134.51 L282.02,134.45 L281.00,134.40 L279.98,134.35 L278.96,134.29 L277.94,134.24 L276.92,134.19 L275.90,134.13 L274.88,134.08 L273.86,134.03 L272.84,133.97 L271.82,133.92 L270.80,133.87 L269.78,133.81 L269.78,134.38 L270.80,134.45 L271.82,134.51 L272.84,134.57 L273.86,134.63 L274.88,134.70 L275.90,134.76 L276.92,134.82 L277.94,134.88 L278.96,134.95 L279.98,135.01 L281.00,135.07 L282.02,135.13 L283.04,135.20 L284.06,135.26 L285.08,135.32 L286.10,135.38 L287.12,135.45 L288.14,135.51 L289.16,135.57 L290.18,135.63 L291.20,135.70 L292.22,135.76 L293.24,135.82 L294.26,135.88 L295.28,135.95 L296.30,136.01Z" fill="#111" opacity="0.8"/>
<path d="M316.70,135.20 L317.72,135.15 L318.74,135.10 L319.76,135.04 L320.78,134.99 L321.80,134.94 L322.82,134.88 L323.84,134.83 L324.86,134.78 L325.88,134.72 L326.90,134.67 L327.92,134.62 L328.94,134.56 L329.96,134.51 L330.98,134.45 L332.00,134.40 L333.02,134.35 L334.04,134.29 L335.06,134.24 L336.08,134.19 L337.10,134.13 L337.10,134.76 L336.08,134.82 L335.06,134.88 L334.04,134.95 L333.02,135.01 L332.00,135.07 L330.98,135.13 L329.96,135.20 L328.94,135.26 L327.92,135.32 L326.90,135.38 L325.88,135.45 L324.86,135.51 L323.84,135.57 L322.82,135.63 L321.80,135.70 L320.78,135.76 L319.76,135.82 L318.74,135.88 L317.72,135.95 L316.70,136.01Z" fill="#111" opacity="0.8"/>
<path d="M296.30,127.08 L296.50,127.34 L296.71,127.59 L296.91,127.84 L297.12,128.09 L297.32,128.34 L297.52,128.58 L297.73,128.82 L297.93,129.05 L298.14,129.29 L298.34,129.52 L298.54,129.75 L298.75,129.97 L298.95,130.20 L299.16,130.42 L299.36,130.63 L299.56,130.85 L299.77,131.06 L299.97,131.26 L300.18,131.47 L300.38,131.67 L300.58,131.87 L300.79,132.06 L300.99,132.25 L301.20,132.44 L301.40,132.62 L301.60,132.80 L301.81,132.98 L302.01,133.15 L302.22,133.32 L302.42,133.48 L302.62,133.64 L302.83,133.80 L303.03,133.95 L303.24,134.10 L303.44,134.24 L303.64,134.38 L303.85,134.51 L304.05,134.64 L304.26,134.77 L304.46,134.88 L304.66,135.00 L304.87,135.10 L305.07,135.20 L305.28,135.29 L305.48,135.38 L305.68,135.46 L305.89,135.52 L306.09,135.58 L306.30,135.63 L306.50,135.65 L306.70,135.63 L306.91,135.58 L307.11,135.52 L307.32,135.46 L307.52,135.38 L307.72,135.29 L307.93,135.20 L308.13,135.10 L308.34,135.00 L308.54,134.88 L308.74,134.77 L308.95,134.64 L309.15,134.51 L309.36,134.38 L309.56,134.24 L309.76,134.10 L309.97,133.95 L310.17,133.80 L310.38,133.64 L310.58,133.48 L310.78,133.32 L310.99,133.15 L311.19,132.98 L311.40,132.80 L311.60,132.62 L311.80,132.44 L312.01,132.25 L312.21,132.06 L312.42,131.87 L312.62,131.67 L312.82,131.47 L313.03,131.26 L313.23,131.06 L313.44,130.85 L313.64,130.63 L313.84,130.42 L314.05,130.20 L314.25,129.97 L314.46,129.75 L314.66,129.52 L314.86,129.29 L315.07,129.05 L315.27,128.82 L315.48,128.58 L315.68,128.34 L315.88,128.09 L316.09,127.84 L316.29,127.59 L316.50,127.34 L316.70,127.08 L316.70,135.83 L316.50,135.85 L316.29,135.86 L316.09,135.88 L315.88,135.89 L315.68,135.91 L315.48,135.93 L315.27,135.94 L315.07,135.96 L314.86,135.97 L314.66,135.99 L314.46,136.01 L314.25,136.02 L314.05,136.04 L313.84,136.05 L313.64,136.07 L313.44,136.09 L313.23,136.10 L313.03,136.12 L312.82,136.13 L312.62,136.15 L312.42,136.17 L312.21,136.18 L312.01,136.20 L311.80,136.21 L311.60,136.23 L311.40,136.25 L311.19,136.26 L310.99,136.28 L310.78,136.29 L310.58,136.31 L310.38,136.33 L310.17,136.34 L309.97,136.36 L309.76,136.38 L309.56,136.39 L309.36,136.41 L309.15,136.42 L308.95,136.44 L308.74,136.46 L308.54,136.47 L308.34,136.49 L308.13,136.50 L307.93,136.52 L307.72,136.54 L307.52,136.55 L307.32,136.57 L307.11,136.58 L306.91,136.60 L306.70,136.62 L306.50,136.63 L306.30,136.62 L306.09,136.60 L305.89,136.58 L305.68,136.57 L305.48,136.55 L305.28,136.54 L305.07,136.52 L304.87,136.50 L304.66,136.49 L304.46,136.47 L304.26,136.46 L304.05,136.44 L303.85,136.42 L303.64,136.41 L303.44,136.39 L303.24,136.38 L303.03,136.36 L302.83,136.34 L302.62,136.33 L302.42,136.31 L302.22,136.29 L302.01,136.28 L301.81,136.26 L301.60,136.25 L301.40,136.23 L301.20,136.21 L300.99,136.20 L300.79,136.18 L300.58,136.17 L300.38,136.15 L300.18,136.13 L299.97,136.12 L299.77,136.10 L299.56,136.09 L299.36,136.07 L299.16,136.05 L298.95,136.04 L298.75,136.02 L298.54,136.01 L298.34,135.99 L298.14,135.97 L297.93,135.96 L297.73,135.94 L297.52,135.93 L297.32,135.91 L297.12,135.89 L296.91,135.88 L296.71,135.86 L296.50,135.85 L296.30,135.83Z" fill="#0a0a0a" opacity="0.95"/>
<path d="M303.0 133.9h0.8M308.7 132.9h0.8M307.1 134.6h0.8M299.0 130.4h0.8M306.6 135.2h0.8M306.9 135.3h0.8M315.9 125.0h0.8M307.5 134.3h0.8M310.7 132.1h0.8M302.1 132.5h0.8M310.3 133.0h0.8M296.7 126.9h0.8M302.2 131.8h0.8M314.5 129.2h0.8M315.3 127.6h0.8M314.8 128.8h0.8M307.9 133.3h0.8M296.6 127.9h0.8M315.5 127.3h0.8M309.1 133.3h0.8M301.1 132.7h0.8M301.4 130.4h0.8M299.7 131.0h0.8M314.5 128.1h0.8M308.3 134.5h0.8M299.3 130.0h0.8M312.5 131.1h0.8M307.4 134.8h0.8M308.5 134.4h0.8M310.7 132.8h0.8M313.2 128.3h0.8M303.4 134.2h0.8M305.6 135.1h0.8M310.0 132.7h0.8M311.3 131.7h0.8M304.9 135.3h0.8M299.9 130.6h0.8M312.5 128.2h0.8M307.3 134.8h0.8M302.4 132.1h0.8M302.3 132.5h0.8M303.9 134.7h0.8M306.5 135.5h0.8M296.0 125.7h0.8M307.7 134.9h0.8M314.8 126.2h0.8M315.0 128.1h0.8M314.0 129.1h0.8M302.7 133.7h0.8M313.6 129.9h0.8M303.6 133.5h0.8M296.8 124.5h0.8M308.8 133.8h0.8M304.4 134.9h0.8M315.3 127.9h0.8M306.7 135.4h0.8M299.4 130.1h0.8M310.5 133.1h0.8M298.6 129.2h0.8M299.3 129.7h0.8M303.4 134.4h0.8M312.2 131.3h0.8M314.8 126.3h0.8M307.9 133.2h0.8M302.2 132.3h0.8M304.0 134.5h0.8M303.6 133.2h0.8M299.3 129.4h0.8M314.2 127.9h0.8M313.6 129.0h0.8M311.0 132.5h0.8M313.4 129.9h0.8M312.5 130.0h0.8M312.2 128.2h0.8M306.2 135.6h0.8M300.3 130.7h0.8M312.9 130.6h0.8M302.7 132.9h0.8M306.8 135.5h0.8M308.6 134.6h0.8M309.7 133.8h0.8M305.1 135.0h0.8M300.1 131.2h0.8M299.3 128.2h0.8M316.1 122.3h0.8M313.1 129.5h0.8M314.3 121.7h0.8M300.8 132.4h0.8M309.4 133.6h0.8M308.4 134.4h0.8M305.6 135.3h0.8M296.4 124.6h0.8M298.4 129.8h0.8M311.7 132.0h0.8M305.9 134.9h0.8M307.4 134.9h0.8M298.2 127.9h0.8M314.1 127.9h0.8M301.4 131.9h0.8M314.8 128.5h0.8M312.8 126.4h0.8M312.1 131.5h0.8M310.4 131.6h0.8M307.1 135.4h0.8M313.3 128.3h0.8M304.7 135.0h0.8M305.7 134.8h0.8M314.9 123.5h0.8M311.3 131.6h0.8M298.9 129.8h0.8M299.0 129.4h0.8M314.8 126.3h0.8M315.9 127.5h0.8M298.6 128.5h0.8M302.2 133.6h0.8M299.5 130.5h0.8M304.1 133.6h0.8M310.2 130.5h0.8M303.8 133.5h0.8M315.4 124.0h0.8M308.2 134.8h0.8M310.3 132.5h0.8M311.8 129.8h0.8M307.0 135.0h0.8M308.8 134.0h0.8M300.4 132.1h0.8M313.5 126.7h0.8M296.6 126.6h0.8M309.7 132.8h0.8M312.8 130.3h0.8M302.0 132.6h0.8M315.3 128.0h0.8M301.6 133.1h0.8M302.6 131.7h0.8M297.8 129.0h0.8M302.4 132.7h0.8M300.9 131.3h0.8M299.9 131.3h0.8M312.4 128.7h0.8M315.3 128.1h0.8M302.4 133.6h0.8M299.9 129.5h0.8M304.2 134.7h0.8M313.5 129.6h0.8M315.1 128.1h0.8M303.5 133.9h0.8M309.9 131.8h0.8M311.7 131.9h0.8M303.3 133.2h0.8M315.3 127.6h0.8M310.5 132.9h0.8M315.2 127.8h0.8M315.0 127.5h0.8M314.0 129.6h0.8M316.2 126.2h0.8M297.8 128.6h0.8M304.6 134.0h0.8M312.8 130.6h0.8M308.9 134.4h0.8M302.1 132.2h0.8M302.6 133.3h0.8M296.1 126.7h0.8M312.2 130.6h0.8M299.3 130.1h0.8M300.6 129.3h0.8M296.9 127.8h0.8M301.1 129.7h0.8M309.8 132.2h0.8M314.2 129.5h0.8M304.6 135.1h0.8M311.1 132.0h0.8M313.2 129.2h0.8M315.2 126.4h0.8M299.1 130.5h0.8M300.3 131.6h0.8M307.8 134.5h0.8M308.9 134.2h0.8M310.1 131.8h0.8M310.5 129.1h0.8M306.0 135.6h0.8M312.2 131.6h0.8M311.3 131.2h0.8M311.6 131.3h0.8M302.7 133.3h0.8M307.4 135.0h0.8M310.2 133.4h0.8M296.0 125.0h0.8M308.5 134.3h0.8M304.8 135.0h0.8M301.5 132.6h0.8M312.9 129.9h0.8M315.0 126.9h0.8M302.4 133.0h0.8M311.2 132.4h0.8M307.2 134.3h0.8M297.6 128.1h0.8M312.4 130.5h0.8M313.5 129.2h0.8M300.2 128.4h0.8M312.4 129.3h0.8M315.6 126.6h0.8M314.0 124.4h0.8M301.7 132.1h0.8M316.0 125.2h0.8M300.8 131.7h0.8M300.7 131.9h0.8M307.2 135.0h0.8M311.6 131.1h0.8M312.9 130.0h0.8M299.8 131.2h0.8M297.2 128.6h0.8M303.5 134.4h0.8M309.6 132.2h0.8M304.4 134.2h0.8M315.3 124.4h0.8M309.9 133.4h0.8M313.9 128.2h0.8M311.9 131.6h0.8M299.2 130.3h0.8M299.1 127.6h0.8M300.1 130.9h0.8M312.2 130.7h0.8M297.3 127.7h0.8M296.5 125.9h0.8M305.2 134.8h0.8M315.1 127.6h0.8M303.5 134.4h0.8M312.7 129.2h0.8M314.1 127.4h0.8M301.4 132.7h0.8M305.3 134.8h0.8M303.6 133.6h0.8M299.9 130.8h0.8M303.1 133.0h0.8M302.6 132.0h0.8M299.4 130.0h0.8M316.0 127.2h0.8M303.3 134.0h0.8M304.9 134.3h0.8M308.8 133.7h0.8M303.7 134.5h0.8M304.9 134.5h0.8M306.4 135.3h0.8M297.9 126.8h0.8M313.5 129.8h0.8M296.2 127.2h0.8M299.0 130.5h0.8M314.8 125.2h0.8M303.9 133.0h0.8M311.4 132.0h0.8M305.3 135.4h0.8M311.4 132.1h0.8M305.1 135.3h0.8M312.6 130.6h0.8M310.7 132.8h0.8M310.3 133.2h0.8M304.3 134.8h0.8M315.5 127.2h0.8M304.9 135.1h0.8M312.9 130.7h0.8M314.3 124.7h0.8M300.3 130.7h0.8M298.5 128.9h0.8M299.7 128.1h0.8M298.1 128.4h0.8M301.8 133.3h0.8M296.1 124.6h0.8M312.1 131.6h0.8M305.2 135.4h0.8M298.8 125.6h0.8M315.5 127.2h0.8M301.2 132.5h0.8M311.7 131.3h0.8M300.3 131.1h0.8M305.8 135.2h0.8M311.6 129.0h0.8M308.5 131.5h0.8M300.0 131.4h0.8M301.5 132.2h0.8M307.9 134.6h0.8M303.7 133.4h0.8M310.2 133.1h0.8M296.0 127.0h0.8M307.0 133.9h0.8M297.7 128.8h0.8M309.5 133.8h0.8M314.3 127.5h0.8M302.4 133.2h0.8M296.4 127.3h0.8M309.9 133.3h0.8M301.8 132.4h0.8M301.7 133.2h0.8M311.6 132.3h0.8M304.1 134.6h0.8M299.6 131.1h0.8M297.0 127.6h0.8M302.5 132.0h0.8M307.1 135.2h0.8M302.7 133.7h0.8M305.2 134.5h0.8M314.1 129.6h0.8M314.6 128.8h0.8M315.7 127.3h0.8M297.3 128.0h0.8M302.0 131.0h0.8M304.8 135.0h0.8M304.0 133.6h0.8M304.5 132.6h0.8M311.7 132.0h0.8M298.4 129.6h0.8M298.8 127.9h0.8M300.3 130.3h0.8M314.8 127.9h0.8M302.9 133.4h0.8M316.3 126.5h0.8M304.2 134.1h0.8M314.2 127.5h0.8M300.3 131.8h0.8M313.9 129.7h0.8M309.9 133.5h0.8M314.1 129.5h0.8M315.9 126.6h0.8M301.9 133.4h0.8M303.0 133.3h0.8M298.2 129.7h0.8M310.3 133.1h0.8M308.0 134.9h0.8M304.2 134.8h0.8M310.5 133.2h0.8M301.9 131.6h0.8M306.3 135.5h0.8M301.2 132.0h0.8M298.5 129.6h0.8M296.1 125.0h0.8M309.2 134.2h0.8M300.3 130.4h0.8M302.1 133.1h0.8M311.7 132.0h0.8M308.0 134.9h0.8M297.5 128.7h0.8M315.4 123.1h0.8M309.3 131.4h0.8M307.8 135.1h0.8M297.9 129.0h0.8M303.7 134.4h0.8M297.3 127.0h0.8M313.0 130.0h0.8M308.9 134.3h0.8M305.5 134.9h0.8M303.5 134.3h0.8M309.5 132.4h0.8M304.0 134.4h0.8M298.4 127.9h0.8M301.5 132.8h0.8M300.2 131.2h0.8M312.6 130.6h0.8M298.9 129.7h0.8M299.7 130.3h0.8M315.5 127.7h0.8M315.0 126.2h0.8M296.5 127.7h0.8M307.8 134.6h0.8M301.7 133.1h0.8M307.5 133.6h0.8M307.8 134.8h0.8M303.4 134.4h0.8M299.2 130.0h0.8M311.1 132.7h0.8M313.9 129.6h0.8M301.7 131.1h0.8M302.6 133.4h0.8M296.7 127.6h0.8M303.1 134.1h0.8M315.5 125.4h0.8M301.8 133.3h0.8M296.0 123.5h0.8M301.2 132.8h0.8M305.7 135.3h0.8M296.4 126.1h0.8M299.1 128.5h0.8M312.4 130.0h0.8M302.5 129.6h0.8M300.5 131.9h0.8M311.9 131.9h0.8M304.7 134.7h0.8M303.7 134.1h0.8M305.9 135.5h0.8M298.5 126.7h0.8M314.6 127.8h0.8M302.1 133.4h0.8M306.4 135.6h0.8M304.8 135.2h0.8M315.6 126.8h0.8M313.7 129.7h0.8M314.3 129.0h0.8M311.7 131.0h0.8M305.1 134.9h0.8M310.3 130.5h0.8M300.4 131.0h0.8M297.9 129.1h0.8M297.1 125.3h0.8M313.6 130.1h0.8M303.7 134.4h0.8M310.3 128.4h0.8M301.4 132.8h0.8M300.3 131.4h0.8M296.9 126.9h0.8M312.5 131.3h0.8M314.6 125.8h0.8M307.2 135.2h0.8M302.5 133.6h0.8M304.9 134.5h0.8M305.2 135.2h0.8M300.4 130.0h0.8M311.5 130.7h0.8M308.4 134.3h0.8M314.5 128.2h0.8M299.7 131.0h0.8M300.9 131.7h0.8M309.1 134.0h0.8M309.5 132.4h0.8M315.9 124.6h0.8M296.0 125.9h0.8M312.6 131.2h0.8M313.6 129.2h0.8M315.9 125.1h0.8M313.6 128.8h0.8M311.8 131.8h0.8M312.5 128.4h0.8M305.4 135.4h0.8M311.8 131.2h0.8M303.3 133.6h0.8M296.5 126.2h0.8M308.8 134.4h0.8M301.0 129.5h0.8M309.5 131.2h0.8M304.7 135.0h0.8M301.4 128.6h0.8M311.9 131.8h0.8M304.3 134.7h0.8M302.4 131.5h0.8M307.2 135.0h0.8M314.1 127.1h0.8M314.5 128.8h0.8M312.3 131.0h0.8M314.9 128.0h0.8M301.1 131.8h0.8M302.2 132.6h0.8M299.5 128.9h0.8M299.8 130.4h0.8" stroke="#000" stroke-width="0.8" opacity="0.45"/>
<path d="M221.2,134.5 H365.2" stroke="#333" stroke-width="0.6" stroke-dasharray="1.1,1.1"/>
<path d="M296.3,24.5 V140.7 M316.7,24.5 V140.7" stroke="#777" stroke-width="0.6" stroke-dasharray="0.7,0.7"/>
</g>
<rect x="221.2" y="24.5" width="144.0" height="116.19999999999999" fill="none" stroke="#111" stroke-width="1.3"/>
<text x="7.4" y="227.8" font-size="10.8" fill="#111" stroke="#111" stroke-width="0.08">D</text>
<text x="106.4" y="235.2" font-size="7.6" text-anchor="middle" textLength="38.7" lengthAdjust="spacingAndGlyphs" fill="#111" stroke="#111" stroke-width="0.22">-Log (P val)</text>
<text x="150.9" y="234.8" font-size="7.4" text-anchor="middle" textLength="4.3" lengthAdjust="spacingAndGlyphs" fill="#111" stroke="#111" stroke-width="0.22">0</text>
<text x="174.1" y="234.8" font-size="7.4" text-anchor="middle" textLength="4.3" lengthAdjust="spacingAndGlyphs" fill="#111" stroke="#111" stroke-width="0.22">2</text>
<text x="197.3" y="234.8" font-size="7.4" text-anchor="middle" textLength="4.3" lengthAdjust="spacingAndGlyphs" fill="#111" stroke="#111" stroke-width="0.22">4</text>
<text x="220.5" y="234.8" font-size="7.4" text-anchor="middle" textLength="4.3" lengthAdjust="spacingAndGlyphs" fill="#111" stroke="#111" stroke-width="0.22">6</text>
<text x="243.7" y="234.8" font-size="7.4" text-anchor="middle" textLength="4.3" lengthAdjust="spacingAndGlyphs" fill="#111" stroke="#111" stroke-width="0.22">8</text>
<text x="266.9" y="234.8" font-size="7.4" text-anchor="middle" textLength="8.6" lengthAdjust="spacingAndGlyphs" fill="#111" stroke="#111" stroke-width="0.22">10</text>
<text x="290.1" y="234.8" font-size="7.4" text-anchor="middle" textLength="8.6" lengthAdjust="spacingAndGlyphs" fill="#111" stroke="#111" stroke-width="0.22">12</text>
<text x="313.3" y="234.8" font-size="7.4" text-anchor="middle" textLength="8.6" lengthAdjust="spacingAndGlyphs" fill="#111" stroke="#111" stroke-width="0.22">14</text>
<text x="336.5" y="234.8" font-size="7.4" text-anchor="middle" textLength="8.6" lengthAdjust="spacingAndGlyphs" fill="#111" stroke="#111" stroke-width="0.22">16</text>
<path d="M151.6,242.9 L151.6,407.7" stroke="#b0b0b0" stroke-width="1" fill="none"/>
<rect x="152.3" y="256.8" width="172.7" height="1.8" fill="#111"/>
<text x="147.6" y="258.5" font-size="8.6" text-anchor="end" textLength="23.9" lengthAdjust="spacingAndGlyphs" fill="#111" stroke="#111" stroke-width="0.12">Cancer</text>
<rect x="152.3" y="265.4" width="172.7" height="1.8" fill="#111"/>
<text x="147.6" y="267.1" font-size="8.6" text-anchor="end" textLength="62.0" lengthAdjust="spacingAndGlyphs" fill="#111" stroke="#111" stroke-width="0.12">Organismal Injury</text>
<rect x="152.3" y="274.0" width="169.2" height="1.8" fill="#111"/>
<text x="147.6" y="275.7" font-size="8.6" text-anchor="end" textLength="84.1" lengthAdjust="spacingAndGlyphs" fill="#111" stroke="#111" stroke-width="0.12">Gastrointestinal Disease</text>
<rect x="152.3" y="282.6" width="152.6" height="1.8" fill="#111"/>
<text x="147.6" y="284.3" font-size="8.6" text-anchor="end" textLength="73.6" lengthAdjust="spacingAndGlyphs" fill="#111" stroke="#111" stroke-width="0.12">Hematologic Disease</text>
<rect x="152.3" y="291.3" width="150.4" height="1.8" fill="#111"/>
<text x="147.6" y="293.0" font-size="8.6" text-anchor="end" textLength="81.6" lengthAdjust="spacingAndGlyphs" fill="#111" stroke="#111" stroke-width="0.12">Immunological Disease</text>
<rect x="152.3" y="308.5" width="136.4" height="1.8" fill="#111"/>
<text x="147.6" y="310.2" font-size="8.6" text-anchor="end" textLength="79.3" lengthAdjust="spacingAndGlyphs" fill="#111" stroke="#111" stroke-width="0.12">Cell death and survival</text>
<rect x="152.3" y="317.1" width="119.4" height="1.8" fill="#111"/>
<text x="147.6" y="318.8" font-size="8.6" text-anchor="end" textLength="29.6" lengthAdjust="spacingAndGlyphs" fill="#111" stroke="#111" stroke-width="0.12">Cell Cyle</text>
<rect x="152.3" y="325.7" width="112.2" height="1.8" fill="#111"/>
<text x="147.6" y="327.4" font-size="8.6" text-anchor="end" textLength="76.3" lengthAdjust="spacingAndGlyphs" fill="#111" stroke="#111" stroke-width="0.12">Cellular Development</text>
<rect x="152.3" y="334.3" width="112.2" height="1.8" fill="#111"/>
<text x="147.6" y="336.0" font-size="8.6" text-anchor="end" textLength="115.6" lengthAdjust="spacingAndGlyphs" fill="#111" stroke="#111" stroke-width="0.12">Cellular Growth and Proliferation</text>
<rect x="152.3" y="343.0" width="112.2" height="1.8" fill="#111"/>
<text x="147.6" y="344.7" font-size="8.6" text-anchor="end" textLength="66.8" lengthAdjust="spacingAndGlyphs" fill="#111" stroke="#111" stroke-width="0.12">Cellular Movement</text>
<rect x="152.3" y="359.9" width="99.2" height="1.8" fill="#111"/>
<text x="147.6" y="361.6" font-size="8.6" text-anchor="end" textLength="108.5" lengthAdjust="spacingAndGlyphs" fill="#111" stroke="#111" stroke-width="0.12">Lymphoid Tissue Development</text>
<rect x="152.3" y="368.8" width="97.4" height="1.8" fill="#111"/>
<text x="147.6" y="370.5" font-size="8.6" text-anchor="end" textLength="128.7" lengthAdjust="spacingAndGlyphs" fill="#111" stroke="#111" stroke-width="0.12">Hematological System Development</text>
<rect x="152.3" y="377.4" width="93.0" height="1.8" fill="#111"/>
<text x="147.6" y="379.1" font-size="8.6" text-anchor="end" textLength="66.8" lengthAdjust="spacingAndGlyphs" fill="#111" stroke="#111" stroke-width="0.12">Tissue Morphology</text>
<rect x="152.3" y="386.0" width="85.0" height="1.8" fill="#111"/>
<text x="147.6" y="387.7" font-size="8.6" text-anchor="end" textLength="82.4" lengthAdjust="spacingAndGlyphs" fill="#111" stroke="#111" stroke-width="0.12">Immune Cell Trafficking</text>
<rect x="152.3" y="394.9" width="86.0" height="1.8" fill="#111"/>
<text x="147.6" y="396.6" font-size="8.6" text-anchor="end" textLength="113.9" lengthAdjust="spacingAndGlyphs" fill="#111" stroke="#111" stroke-width="0.12">Connective Tissue Development</text>
<text x="8.6" y="434.1" font-size="10.8" fill="#111" stroke="#111" stroke-width="0.08">E</text>
<text x="98" y="440.8" font-size="8.2" text-anchor="middle" textLength="86" lengthAdjust="spacingAndGlyphs" fill="#111" stroke="#111" stroke-width="0.12">Unsupervised Clustering</text>
<text x="98" y="450.7" font-size="8.2" text-anchor="middle" textLength="30.7" lengthAdjust="spacingAndGlyphs" fill="#111" stroke="#111" stroke-width="0.12">RNA-seq</text>
<path d="M24.4,472 L24.4,578.8" stroke="#222" stroke-width="1" fill="none"/>
<path d="M21.8,475.2 L24.4,475.2" stroke="#222" stroke-width="1" fill="none"/>
<text x="18.2" y="477.8" font-size="7.4" text-anchor="end" textLength="8.3" lengthAdjust="spacingAndGlyphs" fill="#111" stroke="#111" stroke-width="0.22">80</text>
<path d="M21.8,526.3 L24.4,526.3" stroke="#222" stroke-width="1" fill="none"/>
<text x="18.2" y="528.9" font-size="7.4" text-anchor="end" textLength="8.3" lengthAdjust="spacingAndGlyphs" fill="#111" stroke="#111" stroke-width="0.22">20</text>
<path d="M21.8,576.5 L24.4,576.5" stroke="#222" stroke-width="1" fill="none"/>
<text x="18.2" y="579.1" font-size="7.4" text-anchor="end" textLength="3.6" lengthAdjust="spacingAndGlyphs" fill="#111" stroke="#111" stroke-width="0.22">0</text>
<path d="M173,458 L191.3,458" stroke="#5a4ea6" stroke-width="1.2" fill="none"/>
<path d="M173,469.2 L191.3,469.2" stroke="#e6a53a" stroke-width="1.2" fill="none"/>
<text x="203" y="460.6" font-size="7.2" textLength="48.3" lengthAdjust="spacingAndGlyphs" fill="#111" stroke="#111" stroke-width="0.22">Japanese ATLL</text>
<text x="205" y="471.4" font-size="7.2" textLength="69.5" lengthAdjust="spacingAndGlyphs" fill="#111" stroke="#111" stroke-width="0.22">North American ATLL</text>
<path d="M40.9,576.6V576.2H45.0V576.6M49.0,576.6V576.2H53.1V576.6M43.0,576.2V575.0H51.0V576.2M61.1,576.6V576.0H65.2V576.6M57.1,576.6V575.7H63.2V576.0M60.1,575.7V573.5H69.2V576.6M47.0,575.0V570.8H64.7V573.5M36.9,576.6V567.7H55.8V570.8M73.1,576.6V576.5H77.2V576.6M75.1,576.5V576.3H81.2V576.6M78.2,576.3V576.0H85.3V576.6M89.4,576.6V575.8H93.4V576.6M81.7,576.0V575.5H91.4V575.8M97.5,576.6V574.9H101.6V576.6M86.6,575.5V574.0H99.6V574.9M109.7,576.6V576.2H113.8V576.6M117.9,576.6V576.4H121.9V576.6M111.8,576.2V575.7H119.9V576.4M130.1,576.6V576.5H134.2V576.6M132.1,576.5V576.4H138.2V576.6M126.0,576.6V576.1H135.2V576.4M130.6,576.1V575.9H142.3V576.6M115.8,575.7V574.6H136.4V575.9M105.7,576.6V573.8H126.1V574.6M93.1,574.0V570.2H115.9V573.8M146.4,576.6V575.2H150.4V576.6M148.4,575.2V574.6H154.5V576.6M158.6,576.6V574.5H162.6V576.6M151.4,574.6V573.2H160.6V574.5M174.8,576.6V576.5H178.9V576.6M170.8,576.6V576.5H176.9V576.5M166.7,576.6V576.2H173.8V576.5M187.1,576.6V576.5H191.1V576.6M183.0,576.6V576.4H189.1V576.5M186.0,576.4V576.3H195.2V576.6M199.3,576.6V576.5H203.3V576.6M207.4,576.6V576.5H211.5V576.6M201.3,576.5V576.4H209.4V576.5M190.6,576.3V576.2H205.4V576.4M223.7,576.6V576.6H227.8V576.6M219.6,576.6V576.5H225.7V576.6M222.7,576.5V576.5H231.8V576.6M227.3,576.5V576.4H235.9V576.6M215.6,576.6V576.3H231.6V576.4M198.0,576.2V575.9H223.6V576.3M170.3,576.2V575.3H210.8V575.9M240.0,576.6V576.4H244.0V576.6M248.1,576.6V575.8H252.2V576.6M242.0,576.4V575.6H250.1V575.8M260.3,576.6V575.4H264.4V576.6M256.2,576.6V574.8H262.4V575.4M246.1,575.6V574.0H259.3V574.8M272.5,576.6V576.3H276.6V576.6M284.7,576.6V576.5H288.8V576.6M280.7,576.6V576.4H286.8V576.5M292.9,576.6V576.3H297.0V576.6M283.7,576.4V576.2H294.9V576.3M274.6,576.3V576.0H289.3V576.2M268.5,576.6V573.7H281.9V576.0M252.7,574.0V573.2H275.2V573.7M190.5,575.3V570.3H263.9V573.2M156.0,573.2V563.4H227.2V570.3M104.5,570.2V561.2H191.6V563.4" stroke="#222" stroke-width="0.8" fill="none"/>
<path d="M46.4,567.7V456.2H148.1V561.2" stroke="#111" stroke-width="1.05" fill="none"/>
<rect x="22.599999999999998" y="510.6" width="3.6" height="2.0" fill="#fff"/>
<path d="M22.099999999999998,511.2 l4.6,-1.2 M22.099999999999998,513.4 l4.6,-1.2" stroke="#111" stroke-width="0.95"/>
<rect x="44.5" y="511.40000000000003" width="3.6" height="2.0" fill="#fff"/>
<path d="M44.0,512.0 l4.6,-1.2 M44.0,514.2 l4.6,-1.2" stroke="#111" stroke-width="0.95"/>
<rect x="147.5" y="511.40000000000003" width="3.6" height="2.0" fill="#fff"/>
<path d="M147.0,512.0 l4.6,-1.2 M147.0,514.2 l4.6,-1.2" stroke="#111" stroke-width="0.95"/>
<text transform="translate(38.0,580.8) rotate(-90)" font-size="3.3" text-anchor="end" textLength="26" lengthAdjust="spacingAndGlyphs" fill="#e9b25a">NorthAm_ATL01</text>
<text transform="translate(42.0,580.8) rotate(-90)" font-size="3.3" text-anchor="end" textLength="26" lengthAdjust="spacingAndGlyphs" fill="#e9b25a">NorthAm_ATL02</text>
<text transform="translate(46.1,580.8) rotate(-90)" font-size="3.3" text-anchor="end" textLength="26" lengthAdjust="spacingAndGlyphs" fill="#e9b25a">NorthAm_ATL03</text>
<text transform="translate(50.1,580.8) rotate(-90)" font-size="3.3" text-anchor="end" textLength="26" lengthAdjust="spacingAndGlyphs" fill="#e9b25a">NorthAm_ATL04</text>
<text transform="translate(54.2,580.8) rotate(-90)" font-size="3.3" text-anchor="end" textLength="26" lengthAdjust="spacingAndGlyphs" fill="#e9b25a">NorthAm_ATL05</text>
<text transform="translate(58.2,580.8) rotate(-90)" font-size="3.3" text-anchor="end" textLength="26" lengthAdjust="spacingAndGlyphs" fill="#e9b25a">NorthAm_ATL06</text>
<text transform="translate(62.2,580.8) rotate(-90)" font-size="3.3" text-anchor="end" textLength="26" lengthAdjust="spacingAndGlyphs" fill="#e9b25a">NorthAm_ATL07</text>
<text transform="translate(66.3,580.8) rotate(-90)" font-size="3.3" text-anchor="end" textLength="26" lengthAdjust="spacingAndGlyphs" fill="#e9b25a">NorthAm_ATL08</text>
<text transform="translate(70.3,580.8) rotate(-90)" font-size="3.3" text-anchor="end" textLength="26" lengthAdjust="spacingAndGlyphs" fill="#e9b25a">NorthAm_ATL09</text>
<text transform="translate(74.2,580.8) rotate(-90)" font-size="3.3" text-anchor="end" textLength="26" lengthAdjust="spacingAndGlyphs" fill="#8581c6">Japanese_ATL01</text>
<text transform="translate(78.3,580.8) rotate(-90)" font-size="3.3" text-anchor="end" textLength="26" lengthAdjust="spacingAndGlyphs" fill="#8581c6">Japanese_ATL02</text>
<text transform="translate(82.3,580.8) rotate(-90)" font-size="3.3" text-anchor="end" textLength="26" lengthAdjust="spacingAndGlyphs" fill="#8581c6">Japanese_ATL03</text>
<text transform="translate(86.4,580.8) rotate(-90)" font-size="3.3" text-anchor="end" textLength="26" lengthAdjust="spacingAndGlyphs" fill="#8581c6">Japanese_ATL04</text>
<text transform="translate(90.5,580.8) rotate(-90)" font-size="3.3" text-anchor="end" textLength="26" lengthAdjust="spacingAndGlyphs" fill="#8581c6">Japanese_ATL05</text>
<text transform="translate(94.5,580.8) rotate(-90)" font-size="3.3" text-anchor="end" textLength="26" lengthAdjust="spacingAndGlyphs" fill="#8581c6">Japanese_ATL06</text>
<text transform="translate(98.6,580.8) rotate(-90)" font-size="3.3" text-anchor="end" textLength="26" lengthAdjust="spacingAndGlyphs" fill="#8581c6">Japanese_ATL07</text>
<text transform="translate(102.7,580.8) rotate(-90)" font-size="3.3" text-anchor="end" textLength="26" lengthAdjust="spacingAndGlyphs" fill="#8581c6">Japanese_ATL08</text>
<text transform="translate(106.8,580.8) rotate(-90)" font-size="3.3" text-anchor="end" textLength="26" lengthAdjust="spacingAndGlyphs" fill="#8581c6">Japanese_ATL09</text>
<text transform="translate(110.8,580.8) rotate(-90)" font-size="3.3" text-anchor="end" textLength="26" lengthAdjust="spacingAndGlyphs" fill="#8581c6">Japanese_ATL10</text>
<text transform="translate(114.9,580.8) rotate(-90)" font-size="3.3" text-anchor="end" textLength="26" lengthAdjust="spacingAndGlyphs" fill="#8581c6">Japanese_ATL11</text>
<text transform="translate(119.0,580.8) rotate(-90)" font-size="3.3" text-anchor="end" textLength="26" lengthAdjust="spacingAndGlyphs" fill="#8581c6">Japanese_ATL12</text>
<text transform="translate(123.0,580.8) rotate(-90)" font-size="3.3" text-anchor="end" textLength="26" lengthAdjust="spacingAndGlyphs" fill="#8581c6">Japanese_ATL13</text>
<text transform="translate(127.1,580.8) rotate(-90)" font-size="3.3" text-anchor="end" textLength="26" lengthAdjust="spacingAndGlyphs" fill="#8581c6">Japanese_ATL14</text>
<text transform="translate(131.2,580.8) rotate(-90)" font-size="3.3" text-anchor="end" textLength="26" lengthAdjust="spacingAndGlyphs" fill="#8581c6">Japanese_ATL15</text>
<text transform="translate(135.2,580.8) rotate(-90)" font-size="3.3" text-anchor="end" textLength="26" lengthAdjust="spacingAndGlyphs" fill="#8581c6">Japanese_ATL16</text>
<text transform="translate(139.3,580.8) rotate(-90)" font-size="3.3" text-anchor="end" textLength="26" lengthAdjust="spacingAndGlyphs" fill="#8581c6">Japanese_ATL17</text>
<text transform="translate(143.4,580.8) rotate(-90)" font-size="3.3" text-anchor="end" textLength="26" lengthAdjust="spacingAndGlyphs" fill="#8581c6">Japanese_ATL18</text>
<text transform="translate(147.5,580.8) rotate(-90)" font-size="3.3" text-anchor="end" textLength="26" lengthAdjust="spacingAndGlyphs" fill="#8581c6">Japanese_ATL19</text>
<text transform="translate(151.5,580.8) rotate(-90)" font-size="3.3" text-anchor="end" textLength="26" lengthAdjust="spacingAndGlyphs" fill="#8581c6">Japanese_ATL20</text>
<text transform="translate(155.6,580.8) rotate(-90)" font-size="3.3" text-anchor="end" textLength="26" lengthAdjust="spacingAndGlyphs" fill="#8581c6">Japanese_ATL21</text>
<text transform="translate(159.7,580.8) rotate(-90)" font-size="3.3" text-anchor="end" textLength="26" lengthAdjust="spacingAndGlyphs" fill="#8581c6">Japanese_ATL22</text>
<text transform="translate(163.7,580.8) rotate(-90)" font-size="3.3" text-anchor="end" textLength="26" lengthAdjust="spacingAndGlyphs" fill="#8581c6">Japanese_ATL23</text>
<text transform="translate(167.8,580.8) rotate(-90)" font-size="3.3" text-anchor="end" textLength="26" lengthAdjust="spacingAndGlyphs" fill="#8581c6">Japanese_ATL24</text>
<text transform="translate(171.9,580.8) rotate(-90)" font-size="3.3" text-anchor="end" textLength="26" lengthAdjust="spacingAndGlyphs" fill="#8581c6">Japanese_ATL25</text>
<text transform="translate(175.9,580.8) rotate(-90)" font-size="3.3" text-anchor="end" textLength="26" lengthAdjust="spacingAndGlyphs" fill="#8581c6">Japanese_ATL26</text>
<text transform="translate(180.0,580.8) rotate(-90)" font-size="3.3" text-anchor="end" textLength="26" lengthAdjust="spacingAndGlyphs" fill="#8581c6">Japanese_ATL27</text>
<text transform="translate(184.1,580.8) rotate(-90)" font-size="3.3" text-anchor="end" textLength="26" lengthAdjust="spacingAndGlyphs" fill="#8581c6">Japanese_ATL28</text>
<text transform="translate(188.2,580.8) rotate(-90)" font-size="3.3" text-anchor="end" textLength="26" lengthAdjust="spacingAndGlyphs" fill="#8581c6">Japanese_ATL29</text>
<text transform="translate(192.2,580.8) rotate(-90)" font-size="3.3" text-anchor="end" textLength="26" lengthAdjust="spacingAndGlyphs" fill="#8581c6">Japanese_ATL30</text>
<text transform="translate(196.3,580.8) rotate(-90)" font-size="3.3" text-anchor="end" textLength="26" lengthAdjust="spacingAndGlyphs" fill="#8581c6">Japanese_ATL31</text>
<text transform="translate(200.4,580.8) rotate(-90)" font-size="3.3" text-anchor="end" textLength="26" lengthAdjust="spacingAndGlyphs" fill="#8581c6">Japanese_ATL32</text>
<text transform="translate(204.4,580.8) rotate(-90)" font-size="3.3" text-anchor="end" textLength="26" lengthAdjust="spacingAndGlyphs" fill="#8581c6">Japanese_ATL33</text>
<text transform="translate(208.5,580.8) rotate(-90)" font-size="3.3" text-anchor="end" textLength="26" lengthAdjust="spacingAndGlyphs" fill="#8581c6">Japanese_ATL34</text>
<text transform="translate(212.6,580.8) rotate(-90)" font-size="3.3" text-anchor="end" textLength="26" lengthAdjust="spacingAndGlyphs" fill="#8581c6">Japanese_ATL35</text>
<text transform="translate(216.7,580.8) rotate(-90)" font-size="3.3" text-anchor="end" textLength="26" lengthAdjust="spacingAndGlyphs" fill="#8581c6">Japanese_ATL36</text>
<text transform="translate(220.7,580.8) rotate(-90)" font-size="3.3" text-anchor="end" textLength="26" lengthAdjust="spacingAndGlyphs" fill="#8581c6">Japanese_ATL37</text>
<text transform="translate(224.8,580.8) rotate(-90)" font-size="3.3" text-anchor="end" textLength="26" lengthAdjust="spacingAndGlyphs" fill="#8581c6">Japanese_ATL38</text>
<text transform="translate(228.9,580.8) rotate(-90)" font-size="3.3" text-anchor="end" textLength="26" lengthAdjust="spacingAndGlyphs" fill="#8581c6">Japanese_ATL39</text>
<text transform="translate(232.9,580.8) rotate(-90)" font-size="3.3" text-anchor="end" textLength="26" lengthAdjust="spacingAndGlyphs" fill="#8581c6">Japanese_ATL40</text>
<text transform="translate(237.0,580.8) rotate(-90)" font-size="3.3" text-anchor="end" textLength="26" lengthAdjust="spacingAndGlyphs" fill="#8581c6">Japanese_ATL41</text>
<text transform="translate(241.1,580.8) rotate(-90)" font-size="3.3" text-anchor="end" textLength="26" lengthAdjust="spacingAndGlyphs" fill="#8581c6">Japanese_ATL42</text>
<text transform="translate(245.1,580.8) rotate(-90)" font-size="3.3" text-anchor="end" textLength="26" lengthAdjust="spacingAndGlyphs" fill="#8581c6">Japanese_ATL43</text>
<text transform="translate(249.2,580.8) rotate(-90)" font-size="3.3" text-anchor="end" textLength="26" lengthAdjust="spacingAndGlyphs" fill="#8581c6">Japanese_ATL44</text>
<text transform="translate(253.3,580.8) rotate(-90)" font-size="3.3" text-anchor="end" textLength="26" lengthAdjust="spacingAndGlyphs" fill="#8581c6">Japanese_ATL45</text>
<text transform="translate(257.4,580.8) rotate(-90)" font-size="3.3" text-anchor="end" textLength="26" lengthAdjust="spacingAndGlyphs" fill="#8581c6">Japanese_ATL46</text>
<text transform="translate(261.4,580.8) rotate(-90)" font-size="3.3" text-anchor="end" textLength="26" lengthAdjust="spacingAndGlyphs" fill="#8581c6">Japanese_ATL47</text>
<text transform="translate(265.5,580.8) rotate(-90)" font-size="3.3" text-anchor="end" textLength="26" lengthAdjust="spacingAndGlyphs" fill="#8581c6">Japanese_ATL48</text>
<text transform="translate(269.6,580.8) rotate(-90)" font-size="3.3" text-anchor="end" textLength="26" lengthAdjust="spacingAndGlyphs" fill="#8581c6">Japanese_ATL49</text>
<text transform="translate(273.6,580.8) rotate(-90)" font-size="3.3" text-anchor="end" textLength="26" lengthAdjust="spacingAndGlyphs" fill="#8581c6">Japanese_ATL50</text>
<text transform="translate(277.7,580.8) rotate(-90)" font-size="3.3" text-anchor="end" textLength="26" lengthAdjust="spacingAndGlyphs" fill="#8581c6">Japanese_ATL51</text>
<text transform="translate(281.8,580.8) rotate(-90)" font-size="3.3" text-anchor="end" textLength="26" lengthAdjust="spacingAndGlyphs" fill="#8581c6">Japanese_ATL52</text>
<text transform="translate(285.8,580.8) rotate(-90)" font-size="3.3" text-anchor="end" textLength="26" lengthAdjust="spacingAndGlyphs" fill="#8581c6">Japanese_ATL53</text>
<text transform="translate(289.9,580.8) rotate(-90)" font-size="3.3" text-anchor="end" textLength="26" lengthAdjust="spacingAndGlyphs" fill="#8581c6">Japanese_ATL54</text>
<text transform="translate(294.0,580.8) rotate(-90)" font-size="3.3" text-anchor="end" textLength="26" lengthAdjust="spacingAndGlyphs" fill="#8581c6">Japanese_ATL55</text>
<text transform="translate(298.1,580.8) rotate(-90)" font-size="3.3" text-anchor="end" textLength="26" lengthAdjust="spacingAndGlyphs" fill="#8581c6">Japanese_ATL56</text>
<text x="383.3" y="18.7" font-size="10.8" fill="#111" stroke="#111" stroke-width="0.08">C</text>
<text x="445.2" y="28.0" font-size="8.3" text-anchor="middle" textLength="99.5" lengthAdjust="spacingAndGlyphs" fill="#111" stroke="#111" stroke-width="0.12">Differentially Expressed Genes</text>
<text x="445.0" y="37.4" font-size="8.3" text-anchor="middle" textLength="28.4" lengthAdjust="spacingAndGlyphs" fill="#111" stroke="#111" stroke-width="0.12">RNA-Seq</text>
<rect x="384.3" y="49.4" width="115.70" height="634.80" fill="#303030"/>
<g><rect x="384.30" y="49.40" width="8.90" height="11.29" fill="#007600"/><rect x="384.30" y="60.69" width="8.90" height="8.46" fill="#00a400"/><rect x="384.30" y="69.15" width="8.90" height="2.82" fill="#007600"/><rect x="384.30" y="71.97" width="8.90" height="2.82" fill="#3e0202"/><rect x="384.30" y="74.79" width="8.90" height="5.64" fill="#004a00"/><rect x="384.30" y="80.43" width="8.90" height="2.82" fill="#06e206"/><rect x="384.30" y="83.26" width="8.90" height="5.64" fill="#00a400"/><rect x="384.30" y="88.90" width="8.90" height="2.82" fill="#007600"/><rect x="384.30" y="91.72" width="8.90" height="2.82" fill="#00a400"/><rect x="384.30" y="94.54" width="8.90" height="2.82" fill="#06e206"/><rect x="384.30" y="97.36" width="8.90" height="2.82" fill="#007600"/><rect x="384.30" y="100.18" width="8.90" height="14.11" fill="#00a400"/><rect x="384.30" y="114.29" width="8.90" height="5.64" fill="#002a00"/><rect x="384.30" y="119.93" width="8.90" height="5.64" fill="#007600"/><rect x="384.30" y="125.58" width="8.90" height="2.82" fill="#06e206"/><rect x="384.30" y="128.40" width="8.90" height="2.82" fill="#00a400"/><rect x="384.30" y="131.22" width="8.90" height="8.46" fill="#007600"/><rect x="384.30" y="139.68" width="8.90" height="2.82" fill="#00a400"/><rect x="384.30" y="142.50" width="8.90" height="2.82" fill="#007600"/><rect x="384.30" y="145.33" width="8.90" height="14.11" fill="#00a400"/><rect x="384.30" y="159.43" width="8.90" height="2.82" fill="#06e206"/><rect x="384.30" y="162.25" width="8.90" height="14.11" fill="#00a400"/><rect x="384.30" y="176.36" width="8.90" height="2.82" fill="#06e206"/><rect x="384.30" y="179.18" width="8.90" height="8.46" fill="#007600"/><rect x="384.30" y="187.65" width="8.90" height="5.64" fill="#00a400"/><rect x="384.30" y="193.29" width="8.90" height="5.64" fill="#06e206"/><rect x="384.30" y="198.93" width="8.90" height="2.82" fill="#007600"/><rect x="384.30" y="201.75" width="8.90" height="8.46" fill="#00a400"/><rect x="384.30" y="210.22" width="8.90" height="5.64" fill="#007600"/><rect x="384.30" y="215.86" width="8.90" height="8.46" fill="#00a400"/><rect x="384.30" y="224.32" width="8.90" height="2.82" fill="#06e206"/><rect x="384.30" y="227.14" width="8.90" height="5.64" fill="#007600"/><rect x="384.30" y="232.79" width="8.90" height="8.46" fill="#00a400"/><rect x="384.30" y="241.25" width="8.90" height="2.82" fill="#007600"/><rect x="384.30" y="244.07" width="8.90" height="5.64" fill="#06e206"/><rect x="384.30" y="249.71" width="8.90" height="5.64" fill="#00a400"/><rect x="384.30" y="255.36" width="8.90" height="8.46" fill="#06e206"/><rect x="384.30" y="263.82" width="8.90" height="2.82" fill="#007600"/><rect x="384.30" y="266.64" width="8.90" height="11.29" fill="#00a400"/><rect x="384.30" y="277.93" width="8.90" height="5.64" fill="#06e206"/><rect x="384.30" y="283.57" width="8.90" height="2.82" fill="#007600"/><rect x="384.30" y="286.39" width="8.90" height="2.82" fill="#00a400"/><rect x="384.30" y="289.21" width="8.90" height="2.82" fill="#007600"/><rect x="384.30" y="292.03" width="8.90" height="2.82" fill="#00a400"/><rect x="384.30" y="294.86" width="8.90" height="2.82" fill="#06e206"/><rect x="384.30" y="297.68" width="8.90" height="2.82" fill="#007600"/><rect x="384.30" y="300.50" width="8.90" height="8.46" fill="#00a400"/><rect x="384.30" y="308.96" width="8.90" height="5.64" fill="#007600"/><rect x="384.30" y="314.61" width="8.90" height="8.46" fill="#00a400"/><rect x="384.30" y="323.07" width="8.90" height="2.82" fill="#007600"/><rect x="384.30" y="325.89" width="8.90" height="2.82" fill="#00a400"/><rect x="384.30" y="328.71" width="8.90" height="5.64" fill="#007600"/><rect x="384.30" y="334.35" width="8.90" height="2.82" fill="#00a400"/><rect x="384.30" y="337.18" width="8.90" height="2.82" fill="#06e206"/><rect x="384.30" y="340.00" width="8.90" height="11.29" fill="#00a400"/><rect x="384.30" y="351.28" width="8.90" height="2.82" fill="#007600"/><rect x="384.30" y="354.10" width="8.90" height="5.64" fill="#002a00"/><rect x="384.30" y="359.75" width="8.90" height="2.82" fill="#004a00"/><rect x="384.30" y="362.57" width="8.90" height="2.82" fill="#007600"/><rect x="384.30" y="365.39" width="8.90" height="11.29" fill="#00a400"/><rect x="384.30" y="376.67" width="8.90" height="11.29" fill="#06e206"/><rect x="384.30" y="387.96" width="8.90" height="2.82" fill="#00a400"/><rect x="384.30" y="390.78" width="8.90" height="5.64" fill="#007600"/><rect x="384.30" y="396.42" width="8.90" height="2.82" fill="#00a400"/><rect x="384.30" y="399.25" width="8.90" height="2.82" fill="#06e206"/><rect x="384.30" y="402.07" width="8.90" height="2.82" fill="#007600"/><rect x="384.30" y="404.89" width="8.90" height="2.82" fill="#06e206"/><rect x="384.30" y="407.71" width="8.90" height="5.64" fill="#00a400"/><rect x="384.30" y="413.35" width="8.90" height="2.82" fill="#06e206"/><rect x="384.30" y="416.17" width="8.90" height="16.93" fill="#00a400"/><rect x="384.30" y="433.10" width="8.90" height="2.82" fill="#007600"/><rect x="384.30" y="435.92" width="8.90" height="2.82" fill="#00a400"/><rect x="384.30" y="438.74" width="8.90" height="5.64" fill="#06e206"/><rect x="384.30" y="444.39" width="8.90" height="2.82" fill="#00a400"/><rect x="384.30" y="447.21" width="8.90" height="2.82" fill="#080808"/><rect x="384.30" y="450.03" width="8.90" height="14.11" fill="#002a00"/><rect x="384.30" y="464.14" width="8.90" height="2.82" fill="#007600"/><rect x="384.30" y="466.96" width="8.90" height="8.46" fill="#002a00"/><rect x="384.30" y="475.42" width="8.90" height="5.64" fill="#080808"/><rect x="384.30" y="481.06" width="8.90" height="2.82" fill="#3e0202"/><rect x="384.30" y="483.89" width="8.90" height="2.82" fill="#002a00"/><rect x="384.30" y="486.71" width="8.90" height="2.82" fill="#800202"/><rect x="384.30" y="489.53" width="8.90" height="5.64" fill="#002a00"/><rect x="384.30" y="495.17" width="8.90" height="5.64" fill="#3e0202"/><rect x="384.30" y="500.81" width="8.90" height="2.82" fill="#004a00"/><rect x="384.30" y="503.63" width="8.90" height="2.82" fill="#002a00"/><rect x="384.30" y="506.46" width="8.90" height="5.64" fill="#080808"/><rect x="384.30" y="512.10" width="8.90" height="2.82" fill="#3e0202"/><rect x="384.30" y="514.92" width="8.90" height="5.64" fill="#002a00"/><rect x="384.30" y="520.56" width="8.90" height="8.46" fill="#800202"/><rect x="384.30" y="529.03" width="8.90" height="5.64" fill="#3e0202"/><rect x="384.30" y="534.67" width="8.90" height="2.82" fill="#002a00"/><rect x="384.30" y="537.49" width="8.90" height="5.64" fill="#3e0202"/><rect x="384.30" y="543.13" width="8.90" height="2.82" fill="#080808"/><rect x="384.30" y="545.95" width="8.90" height="2.82" fill="#007600"/><rect x="384.30" y="548.78" width="8.90" height="14.11" fill="#002a00"/><rect x="384.30" y="562.88" width="8.90" height="5.64" fill="#080808"/><rect x="384.30" y="568.53" width="8.90" height="2.82" fill="#3e0202"/><rect x="384.30" y="571.35" width="8.90" height="2.82" fill="#080808"/><rect x="384.30" y="574.17" width="8.90" height="2.82" fill="#002a00"/><rect x="384.30" y="576.99" width="8.90" height="2.82" fill="#004a00"/><rect x="384.30" y="579.81" width="8.90" height="2.82" fill="#06e206"/><rect x="384.30" y="582.63" width="8.90" height="2.82" fill="#007600"/><rect x="384.30" y="585.45" width="8.90" height="2.82" fill="#c80505"/><rect x="384.30" y="588.27" width="8.90" height="11.29" fill="#800202"/><rect x="384.30" y="599.56" width="8.90" height="8.46" fill="#007600"/><rect x="384.30" y="608.02" width="8.90" height="5.64" fill="#002a00"/><rect x="384.30" y="613.67" width="8.90" height="2.82" fill="#007600"/><rect x="384.30" y="616.49" width="8.90" height="2.82" fill="#080808"/><rect x="384.30" y="619.31" width="8.90" height="2.82" fill="#002a00"/><rect x="384.30" y="622.13" width="8.90" height="2.82" fill="#080808"/><rect x="384.30" y="624.95" width="8.90" height="2.82" fill="#002a00"/><rect x="384.30" y="627.77" width="8.90" height="8.46" fill="#007600"/><rect x="384.30" y="636.24" width="8.90" height="5.64" fill="#00a400"/><rect x="384.30" y="641.88" width="8.90" height="8.46" fill="#002a00"/><rect x="384.30" y="650.34" width="8.90" height="5.64" fill="#00a400"/><rect x="384.30" y="655.99" width="8.90" height="2.82" fill="#002a00"/><rect x="384.30" y="658.81" width="8.90" height="2.82" fill="#007600"/><rect x="384.30" y="661.63" width="8.90" height="2.82" fill="#00a400"/><rect x="384.30" y="664.45" width="8.90" height="2.82" fill="#002a00"/><rect x="384.30" y="667.27" width="8.90" height="5.64" fill="#007600"/><rect x="384.30" y="672.91" width="8.90" height="2.82" fill="#080808"/><rect x="384.30" y="675.74" width="8.90" height="5.64" fill="#007600"/><rect x="384.30" y="681.38" width="8.90" height="2.82" fill="#002a00"/><rect x="393.20" y="49.40" width="8.90" height="2.82" fill="#007600"/><rect x="393.20" y="52.22" width="8.90" height="5.64" fill="#00a400"/><rect x="393.20" y="57.86" width="8.90" height="5.64" fill="#004a00"/><rect x="393.20" y="63.51" width="8.90" height="2.82" fill="#007600"/><rect x="393.20" y="66.33" width="8.90" height="2.82" fill="#00a400"/><rect x="393.20" y="69.15" width="8.90" height="2.82" fill="#007600"/><rect x="393.20" y="71.97" width="8.90" height="2.82" fill="#3e0202"/><rect x="393.20" y="74.79" width="8.90" height="5.64" fill="#002a00"/><rect x="393.20" y="80.43" width="8.90" height="8.46" fill="#00a400"/><rect x="393.20" y="88.90" width="8.90" height="2.82" fill="#007600"/><rect x="393.20" y="91.72" width="8.90" height="5.64" fill="#00a400"/><rect x="393.20" y="97.36" width="8.90" height="2.82" fill="#007600"/><rect x="393.20" y="100.18" width="8.90" height="14.11" fill="#06e206"/><rect x="393.20" y="114.29" width="8.90" height="2.82" fill="#002a00"/><rect x="393.20" y="117.11" width="8.90" height="2.82" fill="#080808"/><rect x="393.20" y="119.93" width="8.90" height="2.82" fill="#00a400"/><rect x="393.20" y="122.75" width="8.90" height="2.82" fill="#007600"/><rect x="393.20" y="125.58" width="8.90" height="8.46" fill="#00a400"/><rect x="393.20" y="134.04" width="8.90" height="5.64" fill="#007600"/><rect x="393.20" y="139.68" width="8.90" height="2.82" fill="#00a400"/><rect x="393.20" y="142.50" width="8.90" height="2.82" fill="#007600"/><rect x="393.20" y="145.33" width="8.90" height="2.82" fill="#06e206"/><rect x="393.20" y="148.15" width="8.90" height="14.11" fill="#00a400"/><rect x="393.20" y="162.25" width="8.90" height="2.82" fill="#06e206"/><rect x="393.20" y="165.07" width="8.90" height="2.82" fill="#00a400"/><rect x="393.20" y="167.90" width="8.90" height="2.82" fill="#06e206"/><rect x="393.20" y="170.72" width="8.90" height="2.82" fill="#004a00"/><rect x="393.20" y="173.54" width="8.90" height="2.82" fill="#06e206"/><rect x="393.20" y="176.36" width="8.90" height="2.82" fill="#00a400"/><rect x="393.20" y="179.18" width="8.90" height="5.64" fill="#06e206"/><rect x="393.20" y="184.82" width="8.90" height="5.64" fill="#00a400"/><rect x="393.20" y="190.47" width="8.90" height="2.82" fill="#004a00"/><rect x="393.20" y="193.29" width="8.90" height="2.82" fill="#06e206"/><rect x="393.20" y="196.11" width="8.90" height="19.75" fill="#00a400"/><rect x="393.20" y="215.86" width="8.90" height="5.64" fill="#06e206"/><rect x="393.20" y="221.50" width="8.90" height="2.82" fill="#007600"/><rect x="393.20" y="224.32" width="8.90" height="2.82" fill="#00a400"/><rect x="393.20" y="227.14" width="8.90" height="2.82" fill="#004a00"/><rect x="393.20" y="229.97" width="8.90" height="2.82" fill="#00a400"/><rect x="393.20" y="232.79" width="8.90" height="5.64" fill="#007600"/><rect x="393.20" y="238.43" width="8.90" height="11.29" fill="#00a400"/><rect x="393.20" y="249.71" width="8.90" height="8.46" fill="#06e206"/><rect x="393.20" y="258.18" width="8.90" height="2.82" fill="#00a400"/><rect x="393.20" y="261.00" width="8.90" height="2.82" fill="#06e206"/><rect x="393.20" y="263.82" width="8.90" height="2.82" fill="#004a00"/><rect x="393.20" y="266.64" width="8.90" height="2.82" fill="#00a400"/><rect x="393.20" y="269.46" width="8.90" height="2.82" fill="#007600"/><rect x="393.20" y="272.29" width="8.90" height="11.29" fill="#00a400"/><rect x="393.20" y="283.57" width="8.90" height="2.82" fill="#06e206"/><rect x="393.20" y="286.39" width="8.90" height="5.64" fill="#00a400"/><rect x="393.20" y="292.03" width="8.90" height="2.82" fill="#06e206"/><rect x="393.20" y="294.86" width="8.90" height="8.46" fill="#00a400"/><rect x="393.20" y="303.32" width="8.90" height="5.64" fill="#06e206"/><rect x="393.20" y="308.96" width="8.90" height="2.82" fill="#00a400"/><rect x="393.20" y="311.78" width="8.90" height="8.46" fill="#007600"/><rect x="393.20" y="320.25" width="8.90" height="2.82" fill="#00a400"/><rect x="393.20" y="323.07" width="8.90" height="2.82" fill="#007600"/><rect x="393.20" y="325.89" width="8.90" height="2.82" fill="#00a400"/><rect x="393.20" y="328.71" width="8.90" height="2.82" fill="#007600"/><rect x="393.20" y="331.53" width="8.90" height="2.82" fill="#00a400"/><rect x="393.20" y="334.35" width="8.90" height="5.64" fill="#06e206"/><rect x="393.20" y="340.00" width="8.90" height="2.82" fill="#00a400"/><rect x="393.20" y="342.82" width="8.90" height="5.64" fill="#06e206"/><rect x="393.20" y="348.46" width="8.90" height="5.64" fill="#00a400"/><rect x="393.20" y="354.10" width="8.90" height="2.82" fill="#002a00"/><rect x="393.20" y="356.93" width="8.90" height="8.46" fill="#004a00"/><rect x="393.20" y="365.39" width="8.90" height="2.82" fill="#007600"/><rect x="393.20" y="368.21" width="8.90" height="5.64" fill="#00a400"/><rect x="393.20" y="373.85" width="8.90" height="5.64" fill="#007600"/><rect x="393.20" y="379.50" width="8.90" height="5.64" fill="#00a400"/><rect x="393.20" y="385.14" width="8.90" height="14.11" fill="#06e206"/><rect x="393.20" y="399.25" width="8.90" height="2.82" fill="#00a400"/><rect x="393.20" y="402.07" width="8.90" height="5.64" fill="#06e206"/><rect x="393.20" y="407.71" width="8.90" height="16.93" fill="#00a400"/><rect x="393.20" y="424.64" width="8.90" height="8.46" fill="#06e206"/><rect x="393.20" y="433.10" width="8.90" height="11.29" fill="#00a400"/><rect x="393.20" y="444.39" width="8.90" height="2.82" fill="#06e206"/><rect x="393.20" y="447.21" width="8.90" height="5.64" fill="#002a00"/><rect x="393.20" y="452.85" width="8.90" height="5.64" fill="#080808"/><rect x="393.20" y="458.49" width="8.90" height="2.82" fill="#002a00"/><rect x="393.20" y="461.31" width="8.90" height="2.82" fill="#007600"/><rect x="393.20" y="464.14" width="8.90" height="2.82" fill="#080808"/><rect x="393.20" y="466.96" width="8.90" height="8.46" fill="#002a00"/><rect x="393.20" y="475.42" width="8.90" height="11.29" fill="#080808"/><rect x="393.20" y="486.71" width="8.90" height="2.82" fill="#800202"/><rect x="393.20" y="489.53" width="8.90" height="19.75" fill="#080808"/><rect x="393.20" y="509.28" width="8.90" height="8.46" fill="#3e0202"/><rect x="393.20" y="517.74" width="8.90" height="2.82" fill="#080808"/><rect x="393.20" y="520.56" width="8.90" height="8.46" fill="#800202"/><rect x="393.20" y="529.03" width="8.90" height="5.64" fill="#3e0202"/><rect x="393.20" y="534.67" width="8.90" height="2.82" fill="#002a00"/><rect x="393.20" y="537.49" width="8.90" height="5.64" fill="#3e0202"/><rect x="393.20" y="543.13" width="8.90" height="2.82" fill="#080808"/><rect x="393.20" y="545.95" width="8.90" height="2.82" fill="#004a00"/><rect x="393.20" y="548.78" width="8.90" height="5.64" fill="#080808"/><rect x="393.20" y="554.42" width="8.90" height="8.46" fill="#002a00"/><rect x="393.20" y="562.88" width="8.90" height="2.82" fill="#080808"/><rect x="393.20" y="565.70" width="8.90" height="5.64" fill="#3e0202"/><rect x="393.20" y="571.35" width="8.90" height="5.64" fill="#002a00"/><rect x="393.20" y="576.99" width="8.90" height="2.82" fill="#007600"/><rect x="393.20" y="579.81" width="8.90" height="2.82" fill="#080808"/><rect x="393.20" y="582.63" width="8.90" height="2.82" fill="#007600"/><rect x="393.20" y="585.45" width="8.90" height="2.82" fill="#c80505"/><rect x="393.20" y="588.27" width="8.90" height="11.29" fill="#800202"/><rect x="393.20" y="599.56" width="8.90" height="8.46" fill="#002a00"/><rect x="393.20" y="608.02" width="8.90" height="8.46" fill="#007600"/><rect x="393.20" y="616.49" width="8.90" height="2.82" fill="#080808"/><rect x="393.20" y="619.31" width="8.90" height="8.46" fill="#002a00"/><rect x="393.20" y="627.77" width="8.90" height="5.64" fill="#007600"/><rect x="393.20" y="633.42" width="8.90" height="2.82" fill="#002a00"/><rect x="393.20" y="636.24" width="8.90" height="5.64" fill="#00a400"/><rect x="393.20" y="641.88" width="8.90" height="5.64" fill="#007600"/><rect x="393.20" y="647.52" width="8.90" height="2.82" fill="#002a00"/><rect x="393.20" y="650.34" width="8.90" height="2.82" fill="#007600"/><rect x="393.20" y="653.17" width="8.90" height="2.82" fill="#00a400"/><rect x="393.20" y="655.99" width="8.90" height="2.82" fill="#002a00"/><rect x="393.20" y="658.81" width="8.90" height="2.82" fill="#007600"/><rect x="393.20" y="661.63" width="8.90" height="2.82" fill="#00a400"/><rect x="393.20" y="664.45" width="8.90" height="5.64" fill="#007600"/><rect x="393.20" y="670.09" width="8.90" height="5.64" fill="#002a00"/><rect x="393.20" y="675.74" width="8.90" height="5.64" fill="#080808"/><rect x="393.20" y="681.38" width="8.90" height="2.82" fill="#3e0202"/><rect x="402.10" y="49.40" width="8.90" height="2.82" fill="#007600"/><rect x="402.10" y="52.22" width="8.90" height="22.57" fill="#00a400"/><rect x="402.10" y="74.79" width="8.90" height="5.64" fill="#004a00"/><rect x="402.10" y="80.43" width="8.90" height="14.11" fill="#00a400"/><rect x="402.10" y="94.54" width="8.90" height="2.82" fill="#007600"/><rect x="402.10" y="97.36" width="8.90" height="2.82" fill="#002a00"/><rect x="402.10" y="100.18" width="8.90" height="2.82" fill="#004a00"/><rect x="402.10" y="103.01" width="8.90" height="8.46" fill="#00a400"/><rect x="402.10" y="111.47" width="8.90" height="2.82" fill="#06e206"/><rect x="402.10" y="114.29" width="8.90" height="22.57" fill="#007600"/><rect x="402.10" y="136.86" width="8.90" height="8.46" fill="#00a400"/><rect x="402.10" y="145.33" width="8.90" height="2.82" fill="#06e206"/><rect x="402.10" y="148.15" width="8.90" height="5.64" fill="#00a400"/><rect x="402.10" y="153.79" width="8.90" height="8.46" fill="#06e206"/><rect x="402.10" y="162.25" width="8.90" height="2.82" fill="#00a400"/><rect x="402.10" y="165.07" width="8.90" height="5.64" fill="#007600"/><rect x="402.10" y="170.72" width="8.90" height="5.64" fill="#00a400"/><rect x="402.10" y="176.36" width="8.90" height="2.82" fill="#06e206"/><rect x="402.10" y="179.18" width="8.90" height="2.82" fill="#007600"/><rect x="402.10" y="182.00" width="8.90" height="2.82" fill="#00a400"/><rect x="402.10" y="184.82" width="8.90" height="2.82" fill="#06e206"/><rect x="402.10" y="187.65" width="8.90" height="16.93" fill="#00a400"/><rect x="402.10" y="204.57" width="8.90" height="2.82" fill="#06e206"/><rect x="402.10" y="207.39" width="8.90" height="2.82" fill="#004a00"/><rect x="402.10" y="210.22" width="8.90" height="8.46" fill="#007600"/><rect x="402.10" y="218.68" width="8.90" height="16.93" fill="#00a400"/><rect x="402.10" y="235.61" width="8.90" height="2.82" fill="#004a00"/><rect x="402.10" y="238.43" width="8.90" height="2.82" fill="#007600"/><rect x="402.10" y="241.25" width="8.90" height="28.21" fill="#00a400"/><rect x="402.10" y="269.46" width="8.90" height="5.64" fill="#06e206"/><rect x="402.10" y="275.11" width="8.90" height="2.82" fill="#00a400"/><rect x="402.10" y="277.93" width="8.90" height="2.82" fill="#06e206"/><rect x="402.10" y="280.75" width="8.90" height="2.82" fill="#00a400"/><rect x="402.10" y="283.57" width="8.90" height="14.11" fill="#06e206"/><rect x="402.10" y="297.68" width="8.90" height="2.82" fill="#007600"/><rect x="402.10" y="300.50" width="8.90" height="2.82" fill="#004a00"/><rect x="402.10" y="303.32" width="8.90" height="2.82" fill="#00a400"/><rect x="402.10" y="306.14" width="8.90" height="2.82" fill="#007600"/><rect x="402.10" y="308.96" width="8.90" height="2.82" fill="#00a400"/><rect x="402.10" y="311.78" width="8.90" height="5.64" fill="#002a00"/><rect x="402.10" y="317.43" width="8.90" height="2.82" fill="#004a00"/><rect x="402.10" y="320.25" width="8.90" height="8.46" fill="#007600"/><rect x="402.10" y="328.71" width="8.90" height="14.11" fill="#00a400"/><rect x="402.10" y="342.82" width="8.90" height="2.82" fill="#06e206"/><rect x="402.10" y="345.64" width="8.90" height="2.82" fill="#00a400"/><rect x="402.10" y="348.46" width="8.90" height="14.11" fill="#007600"/><rect x="402.10" y="362.57" width="8.90" height="2.82" fill="#00a400"/><rect x="402.10" y="365.39" width="8.90" height="2.82" fill="#3e0202"/><rect x="402.10" y="368.21" width="8.90" height="2.82" fill="#004a00"/><rect x="402.10" y="371.03" width="8.90" height="8.46" fill="#00a400"/><rect x="402.10" y="379.50" width="8.90" height="2.82" fill="#06e206"/><rect x="402.10" y="382.32" width="8.90" height="2.82" fill="#00a400"/><rect x="402.10" y="385.14" width="8.90" height="5.64" fill="#007600"/><rect x="402.10" y="390.78" width="8.90" height="2.82" fill="#06e206"/><rect x="402.10" y="393.60" width="8.90" height="2.82" fill="#00a400"/><rect x="402.10" y="396.42" width="8.90" height="2.82" fill="#007600"/><rect x="402.10" y="399.25" width="8.90" height="8.46" fill="#00a400"/><rect x="402.10" y="407.71" width="8.90" height="2.82" fill="#007600"/><rect x="402.10" y="410.53" width="8.90" height="5.64" fill="#06e206"/><rect x="402.10" y="416.17" width="8.90" height="2.82" fill="#00a400"/><rect x="402.10" y="418.99" width="8.90" height="2.82" fill="#004a00"/><rect x="402.10" y="421.82" width="8.90" height="2.82" fill="#06e206"/><rect x="402.10" y="424.64" width="8.90" height="14.11" fill="#00a400"/><rect x="402.10" y="438.74" width="8.90" height="2.82" fill="#06e206"/><rect x="402.10" y="441.57" width="8.90" height="2.82" fill="#00a400"/><rect x="402.10" y="444.39" width="8.90" height="2.82" fill="#007600"/><rect x="402.10" y="447.21" width="8.90" height="5.64" fill="#002a00"/><rect x="402.10" y="452.85" width="8.90" height="2.82" fill="#007600"/><rect x="402.10" y="455.67" width="8.90" height="22.57" fill="#002a00"/><rect x="402.10" y="478.24" width="8.90" height="5.64" fill="#080808"/><rect x="402.10" y="483.89" width="8.90" height="2.82" fill="#002a00"/><rect x="402.10" y="486.71" width="8.90" height="5.64" fill="#3e0202"/><rect x="402.10" y="492.35" width="8.90" height="5.64" fill="#002a00"/><rect x="402.10" y="497.99" width="8.90" height="2.82" fill="#080808"/><rect x="402.10" y="500.81" width="8.90" height="2.82" fill="#06e206"/><rect x="402.10" y="503.63" width="8.90" height="2.82" fill="#080808"/><rect x="402.10" y="506.46" width="8.90" height="5.64" fill="#002a00"/><rect x="402.10" y="512.10" width="8.90" height="5.64" fill="#3e0202"/><rect x="402.10" y="517.74" width="8.90" height="2.82" fill="#002a00"/><rect x="402.10" y="520.56" width="8.90" height="2.82" fill="#800202"/><rect x="402.10" y="523.38" width="8.90" height="11.29" fill="#3e0202"/><rect x="402.10" y="534.67" width="8.90" height="2.82" fill="#002a00"/><rect x="402.10" y="537.49" width="8.90" height="2.82" fill="#080808"/><rect x="402.10" y="540.31" width="8.90" height="2.82" fill="#3e0202"/><rect x="402.10" y="543.13" width="8.90" height="2.82" fill="#080808"/><rect x="402.10" y="545.95" width="8.90" height="2.82" fill="#004a00"/><rect x="402.10" y="548.78" width="8.90" height="8.46" fill="#002a00"/><rect x="402.10" y="557.24" width="8.90" height="5.64" fill="#004a00"/><rect x="402.10" y="562.88" width="8.90" height="8.46" fill="#002a00"/><rect x="402.10" y="571.35" width="8.90" height="2.82" fill="#080808"/><rect x="402.10" y="574.17" width="8.90" height="2.82" fill="#002a00"/><rect x="402.10" y="576.99" width="8.90" height="2.82" fill="#007600"/><rect x="402.10" y="579.81" width="8.90" height="2.82" fill="#002a00"/><rect x="402.10" y="582.63" width="8.90" height="2.82" fill="#007600"/><rect x="402.10" y="585.45" width="8.90" height="2.82" fill="#c80505"/><rect x="402.10" y="588.27" width="8.90" height="11.29" fill="#800202"/><rect x="402.10" y="599.56" width="8.90" height="2.82" fill="#080808"/><rect x="402.10" y="602.38" width="8.90" height="14.11" fill="#007600"/><rect x="402.10" y="616.49" width="8.90" height="5.64" fill="#080808"/><rect x="402.10" y="622.13" width="8.90" height="5.64" fill="#002a00"/><rect x="402.10" y="627.77" width="8.90" height="11.29" fill="#007600"/><rect x="402.10" y="639.06" width="8.90" height="2.82" fill="#002a00"/><rect x="402.10" y="641.88" width="8.90" height="2.82" fill="#080808"/><rect x="402.10" y="644.70" width="8.90" height="5.64" fill="#002a00"/><rect x="402.10" y="650.34" width="8.90" height="5.64" fill="#00a400"/><rect x="402.10" y="655.99" width="8.90" height="2.82" fill="#002a00"/><rect x="402.10" y="658.81" width="8.90" height="2.82" fill="#080808"/><rect x="402.10" y="661.63" width="8.90" height="2.82" fill="#00a400"/><rect x="402.10" y="664.45" width="8.90" height="2.82" fill="#007600"/><rect x="402.10" y="667.27" width="8.90" height="2.82" fill="#00a400"/><rect x="402.10" y="670.09" width="8.90" height="5.64" fill="#007600"/><rect x="402.10" y="675.74" width="8.90" height="8.46" fill="#002a00"/><rect x="411.00" y="49.40" width="8.90" height="2.82" fill="#007600"/><rect x="411.00" y="52.22" width="8.90" height="11.29" fill="#00a400"/><rect x="411.00" y="63.51" width="8.90" height="2.82" fill="#007600"/><rect x="411.00" y="66.33" width="8.90" height="2.82" fill="#00a400"/><rect x="411.00" y="69.15" width="8.90" height="11.29" fill="#004a00"/><rect x="411.00" y="80.43" width="8.90" height="5.64" fill="#00a400"/><rect x="411.00" y="86.08" width="8.90" height="2.82" fill="#06e206"/><rect x="411.00" y="88.90" width="8.90" height="5.64" fill="#00a400"/><rect x="411.00" y="94.54" width="8.90" height="2.82" fill="#06e206"/><rect x="411.00" y="97.36" width="8.90" height="2.82" fill="#007600"/><rect x="411.00" y="100.18" width="8.90" height="2.82" fill="#00a400"/><rect x="411.00" y="103.01" width="8.90" height="2.82" fill="#06e206"/><rect x="411.00" y="105.83" width="8.90" height="2.82" fill="#004a00"/><rect x="411.00" y="108.65" width="8.90" height="5.64" fill="#00a400"/><rect x="411.00" y="114.29" width="8.90" height="8.46" fill="#007600"/><rect x="411.00" y="122.75" width="8.90" height="2.82" fill="#00a400"/><rect x="411.00" y="125.58" width="8.90" height="2.82" fill="#06e206"/><rect x="411.00" y="128.40" width="8.90" height="5.64" fill="#00a400"/><rect x="411.00" y="134.04" width="8.90" height="2.82" fill="#007600"/><rect x="411.00" y="136.86" width="8.90" height="2.82" fill="#004a00"/><rect x="411.00" y="139.68" width="8.90" height="11.29" fill="#00a400"/><rect x="411.00" y="150.97" width="8.90" height="5.64" fill="#007600"/><rect x="411.00" y="156.61" width="8.90" height="5.64" fill="#00a400"/><rect x="411.00" y="162.25" width="8.90" height="5.64" fill="#06e206"/><rect x="411.00" y="167.90" width="8.90" height="8.46" fill="#00a400"/><rect x="411.00" y="176.36" width="8.90" height="2.82" fill="#06e206"/><rect x="411.00" y="179.18" width="8.90" height="2.82" fill="#007600"/><rect x="411.00" y="182.00" width="8.90" height="11.29" fill="#00a400"/><rect x="411.00" y="193.29" width="8.90" height="5.64" fill="#06e206"/><rect x="411.00" y="198.93" width="8.90" height="8.46" fill="#00a400"/><rect x="411.00" y="207.39" width="8.90" height="5.64" fill="#007600"/><rect x="411.00" y="213.04" width="8.90" height="2.82" fill="#06e206"/><rect x="411.00" y="215.86" width="8.90" height="5.64" fill="#00a400"/><rect x="411.00" y="221.50" width="8.90" height="2.82" fill="#06e206"/><rect x="411.00" y="224.32" width="8.90" height="11.29" fill="#00a400"/><rect x="411.00" y="235.61" width="8.90" height="2.82" fill="#007600"/><rect x="411.00" y="238.43" width="8.90" height="14.11" fill="#00a400"/><rect x="411.00" y="252.54" width="8.90" height="2.82" fill="#06e206"/><rect x="411.00" y="255.36" width="8.90" height="14.11" fill="#00a400"/><rect x="411.00" y="269.46" width="8.90" height="2.82" fill="#06e206"/><rect x="411.00" y="272.29" width="8.90" height="2.82" fill="#00a400"/><rect x="411.00" y="275.11" width="8.90" height="2.82" fill="#06e206"/><rect x="411.00" y="277.93" width="8.90" height="2.82" fill="#007600"/><rect x="411.00" y="280.75" width="8.90" height="5.64" fill="#00a400"/><rect x="411.00" y="286.39" width="8.90" height="2.82" fill="#06e206"/><rect x="411.00" y="289.21" width="8.90" height="2.82" fill="#007600"/><rect x="411.00" y="292.03" width="8.90" height="14.11" fill="#00a400"/><rect x="411.00" y="306.14" width="8.90" height="5.64" fill="#06e206"/><rect x="411.00" y="311.78" width="8.90" height="5.64" fill="#004a00"/><rect x="411.00" y="317.43" width="8.90" height="11.29" fill="#007600"/><rect x="411.00" y="328.71" width="8.90" height="11.29" fill="#00a400"/><rect x="411.00" y="340.00" width="8.90" height="5.64" fill="#06e206"/><rect x="411.00" y="345.64" width="8.90" height="2.82" fill="#00a400"/><rect x="411.00" y="348.46" width="8.90" height="8.46" fill="#007600"/><rect x="411.00" y="356.93" width="8.90" height="2.82" fill="#004a00"/><rect x="411.00" y="359.75" width="8.90" height="5.64" fill="#007600"/><rect x="411.00" y="365.39" width="8.90" height="2.82" fill="#06e206"/><rect x="411.00" y="368.21" width="8.90" height="2.82" fill="#00a400"/><rect x="411.00" y="371.03" width="8.90" height="2.82" fill="#007600"/><rect x="411.00" y="373.85" width="8.90" height="2.82" fill="#00a400"/><rect x="411.00" y="376.67" width="8.90" height="8.46" fill="#06e206"/><rect x="411.00" y="385.14" width="8.90" height="8.46" fill="#00a400"/><rect x="411.00" y="393.60" width="8.90" height="2.82" fill="#06e206"/><rect x="411.00" y="396.42" width="8.90" height="5.64" fill="#00a400"/><rect x="411.00" y="402.07" width="8.90" height="8.46" fill="#06e206"/><rect x="411.00" y="410.53" width="8.90" height="2.82" fill="#00a400"/><rect x="411.00" y="413.35" width="8.90" height="5.64" fill="#06e206"/><rect x="411.00" y="418.99" width="8.90" height="8.46" fill="#00a400"/><rect x="411.00" y="427.46" width="8.90" height="2.82" fill="#007600"/><rect x="411.00" y="430.28" width="8.90" height="2.82" fill="#004a00"/><rect x="411.00" y="433.10" width="8.90" height="5.64" fill="#00a400"/><rect x="411.00" y="438.74" width="8.90" height="2.82" fill="#06e206"/><rect x="411.00" y="441.57" width="8.90" height="2.82" fill="#00a400"/><rect x="411.00" y="444.39" width="8.90" height="2.82" fill="#06e206"/><rect x="411.00" y="447.21" width="8.90" height="2.82" fill="#007600"/><rect x="411.00" y="450.03" width="8.90" height="8.46" fill="#002a00"/><rect x="411.00" y="458.49" width="8.90" height="2.82" fill="#007600"/><rect x="411.00" y="461.31" width="8.90" height="2.82" fill="#00a400"/><rect x="411.00" y="464.14" width="8.90" height="14.11" fill="#002a00"/><rect x="411.00" y="478.24" width="8.90" height="14.11" fill="#080808"/><rect x="411.00" y="492.35" width="8.90" height="8.46" fill="#002a00"/><rect x="411.00" y="500.81" width="8.90" height="2.82" fill="#800202"/><rect x="411.00" y="503.63" width="8.90" height="5.64" fill="#002a00"/><rect x="411.00" y="509.28" width="8.90" height="2.82" fill="#080808"/><rect x="411.00" y="512.10" width="8.90" height="8.46" fill="#3e0202"/><rect x="411.00" y="520.56" width="8.90" height="2.82" fill="#800202"/><rect x="411.00" y="523.38" width="8.90" height="11.29" fill="#3e0202"/><rect x="411.00" y="534.67" width="8.90" height="2.82" fill="#002a00"/><rect x="411.00" y="537.49" width="8.90" height="8.46" fill="#080808"/><rect x="411.00" y="545.95" width="8.90" height="2.82" fill="#004a00"/><rect x="411.00" y="548.78" width="8.90" height="2.82" fill="#002a00"/><rect x="411.00" y="551.60" width="8.90" height="2.82" fill="#080808"/><rect x="411.00" y="554.42" width="8.90" height="2.82" fill="#002a00"/><rect x="411.00" y="557.24" width="8.90" height="2.82" fill="#004a00"/><rect x="411.00" y="560.06" width="8.90" height="2.82" fill="#002a00"/><rect x="411.00" y="562.88" width="8.90" height="2.82" fill="#3e0202"/><rect x="411.00" y="565.70" width="8.90" height="2.82" fill="#002a00"/><rect x="411.00" y="568.53" width="8.90" height="2.82" fill="#3e0202"/><rect x="411.00" y="571.35" width="8.90" height="2.82" fill="#002a00"/><rect x="411.00" y="574.17" width="8.90" height="2.82" fill="#004a00"/><rect x="411.00" y="576.99" width="8.90" height="2.82" fill="#00a400"/><rect x="411.00" y="579.81" width="8.90" height="2.82" fill="#002a00"/><rect x="411.00" y="582.63" width="8.90" height="2.82" fill="#3e0202"/><rect x="411.00" y="585.45" width="8.90" height="2.82" fill="#c80505"/><rect x="411.00" y="588.27" width="8.90" height="11.29" fill="#800202"/><rect x="411.00" y="599.56" width="8.90" height="2.82" fill="#080808"/><rect x="411.00" y="602.38" width="8.90" height="5.64" fill="#002a00"/><rect x="411.00" y="608.02" width="8.90" height="5.64" fill="#007600"/><rect x="411.00" y="613.67" width="8.90" height="2.82" fill="#00a400"/><rect x="411.00" y="616.49" width="8.90" height="2.82" fill="#002a00"/><rect x="411.00" y="619.31" width="8.90" height="2.82" fill="#3e0202"/><rect x="411.00" y="622.13" width="8.90" height="2.82" fill="#002a00"/><rect x="411.00" y="624.95" width="8.90" height="2.82" fill="#080808"/><rect x="411.00" y="627.77" width="8.90" height="5.64" fill="#007600"/><rect x="411.00" y="633.42" width="8.90" height="5.64" fill="#002a00"/><rect x="411.00" y="639.06" width="8.90" height="5.64" fill="#007600"/><rect x="411.00" y="644.70" width="8.90" height="14.11" fill="#002a00"/><rect x="411.00" y="658.81" width="8.90" height="2.82" fill="#007600"/><rect x="411.00" y="661.63" width="8.90" height="11.29" fill="#00a400"/><rect x="411.00" y="672.91" width="8.90" height="2.82" fill="#007600"/><rect x="411.00" y="675.74" width="8.90" height="5.64" fill="#002a00"/><rect x="411.00" y="681.38" width="8.90" height="2.82" fill="#080808"/><rect x="419.90" y="49.40" width="8.90" height="2.82" fill="#002a00"/><rect x="419.90" y="52.22" width="8.90" height="2.82" fill="#080808"/><rect x="419.90" y="55.04" width="8.90" height="2.82" fill="#800202"/><rect x="419.90" y="57.86" width="8.90" height="5.64" fill="#3e0202"/><rect x="419.90" y="63.51" width="8.90" height="8.46" fill="#06e206"/><rect x="419.90" y="71.97" width="8.90" height="5.64" fill="#007600"/><rect x="419.90" y="77.61" width="8.90" height="2.82" fill="#06e206"/><rect x="419.90" y="80.43" width="8.90" height="5.64" fill="#007600"/><rect x="419.90" y="86.08" width="8.90" height="5.64" fill="#004a00"/><rect x="419.90" y="91.72" width="8.90" height="2.82" fill="#002a00"/><rect x="419.90" y="94.54" width="8.90" height="2.82" fill="#080808"/><rect x="419.90" y="97.36" width="8.90" height="2.82" fill="#004a00"/><rect x="419.90" y="100.18" width="8.90" height="2.82" fill="#00a400"/><rect x="419.90" y="103.01" width="8.90" height="11.29" fill="#080808"/><rect x="419.90" y="114.29" width="8.90" height="2.82" fill="#004a00"/><rect x="419.90" y="117.11" width="8.90" height="2.82" fill="#080808"/><rect x="419.90" y="119.93" width="8.90" height="2.82" fill="#3e0202"/><rect x="419.90" y="122.75" width="8.90" height="2.82" fill="#800202"/><rect x="419.90" y="125.58" width="8.90" height="11.29" fill="#080808"/><rect x="419.90" y="136.86" width="8.90" height="2.82" fill="#3e0202"/><rect x="419.90" y="139.68" width="8.90" height="2.82" fill="#080808"/><rect x="419.90" y="142.50" width="8.90" height="5.64" fill="#3e0202"/><rect x="419.90" y="148.15" width="8.90" height="8.46" fill="#080808"/><rect x="419.90" y="156.61" width="8.90" height="2.82" fill="#c80505"/><rect x="419.90" y="159.43" width="8.90" height="2.82" fill="#800202"/><rect x="419.90" y="162.25" width="8.90" height="8.46" fill="#3e0202"/><rect x="419.90" y="170.72" width="8.90" height="2.82" fill="#c80505"/><rect x="419.90" y="173.54" width="8.90" height="2.82" fill="#002a00"/><rect x="419.90" y="176.36" width="8.90" height="2.82" fill="#3e0202"/><rect x="419.90" y="179.18" width="8.90" height="2.82" fill="#080808"/><rect x="419.90" y="182.00" width="8.90" height="2.82" fill="#3e0202"/><rect x="419.90" y="184.82" width="8.90" height="5.64" fill="#002a00"/><rect x="419.90" y="190.47" width="8.90" height="2.82" fill="#080808"/><rect x="419.90" y="193.29" width="8.90" height="2.82" fill="#002a00"/><rect x="419.90" y="196.11" width="8.90" height="5.64" fill="#3e0202"/><rect x="419.90" y="201.75" width="8.90" height="2.82" fill="#002a00"/><rect x="419.90" y="204.57" width="8.90" height="2.82" fill="#3e0202"/><rect x="419.90" y="207.39" width="8.90" height="2.82" fill="#080808"/><rect x="419.90" y="210.22" width="8.90" height="2.82" fill="#002a00"/><rect x="419.90" y="213.04" width="8.90" height="5.64" fill="#3e0202"/><rect x="419.90" y="218.68" width="8.90" height="2.82" fill="#002a00"/><rect x="419.90" y="221.50" width="8.90" height="2.82" fill="#080808"/><rect x="419.90" y="224.32" width="8.90" height="5.64" fill="#3e0202"/><rect x="419.90" y="229.97" width="8.90" height="5.64" fill="#080808"/><rect x="419.90" y="235.61" width="8.90" height="2.82" fill="#800202"/><rect x="419.90" y="238.43" width="8.90" height="2.82" fill="#002a00"/><rect x="419.90" y="241.25" width="8.90" height="2.82" fill="#080808"/><rect x="419.90" y="244.07" width="8.90" height="2.82" fill="#002a00"/><rect x="419.90" y="246.89" width="8.90" height="2.82" fill="#080808"/><rect x="419.90" y="249.71" width="8.90" height="14.11" fill="#002a00"/><rect x="419.90" y="263.82" width="8.90" height="2.82" fill="#007600"/><rect x="419.90" y="266.64" width="8.90" height="8.46" fill="#00a400"/><rect x="419.90" y="275.11" width="8.90" height="5.64" fill="#007600"/><rect x="419.90" y="280.75" width="8.90" height="2.82" fill="#002a00"/><rect x="419.90" y="283.57" width="8.90" height="2.82" fill="#00a400"/><rect x="419.90" y="286.39" width="8.90" height="2.82" fill="#002a00"/><rect x="419.90" y="289.21" width="8.90" height="2.82" fill="#007600"/><rect x="419.90" y="292.03" width="8.90" height="11.29" fill="#00a400"/><rect x="419.90" y="303.32" width="8.90" height="8.46" fill="#007600"/><rect x="419.90" y="311.78" width="8.90" height="5.64" fill="#800202"/><rect x="419.90" y="317.43" width="8.90" height="2.82" fill="#3e0202"/><rect x="419.90" y="320.25" width="8.90" height="8.46" fill="#800202"/><rect x="419.90" y="328.71" width="8.90" height="2.82" fill="#3e0202"/><rect x="419.90" y="331.53" width="8.90" height="8.46" fill="#c80505"/><rect x="419.90" y="340.00" width="8.90" height="5.64" fill="#800202"/><rect x="419.90" y="345.64" width="8.90" height="8.46" fill="#3e0202"/><rect x="419.90" y="354.10" width="8.90" height="8.46" fill="#080808"/><rect x="419.90" y="362.57" width="8.90" height="2.82" fill="#002a00"/><rect x="419.90" y="365.39" width="8.90" height="2.82" fill="#080808"/><rect x="419.90" y="368.21" width="8.90" height="2.82" fill="#007600"/><rect x="419.90" y="371.03" width="8.90" height="5.64" fill="#3e0202"/><rect x="419.90" y="376.67" width="8.90" height="11.29" fill="#002a00"/><rect x="419.90" y="387.96" width="8.90" height="2.82" fill="#080808"/><rect x="419.90" y="390.78" width="8.90" height="5.64" fill="#007600"/><rect x="419.90" y="396.42" width="8.90" height="5.64" fill="#002a00"/><rect x="419.90" y="402.07" width="8.90" height="2.82" fill="#080808"/><rect x="419.90" y="404.89" width="8.90" height="5.64" fill="#002a00"/><rect x="419.90" y="410.53" width="8.90" height="2.82" fill="#3e0202"/><rect x="419.90" y="413.35" width="8.90" height="2.82" fill="#080808"/><rect x="419.90" y="416.17" width="8.90" height="2.82" fill="#002a00"/><rect x="419.90" y="418.99" width="8.90" height="8.46" fill="#3e0202"/><rect x="419.90" y="427.46" width="8.90" height="2.82" fill="#c80505"/><rect x="419.90" y="430.28" width="8.90" height="2.82" fill="#080808"/><rect x="419.90" y="433.10" width="8.90" height="2.82" fill="#3e0202"/><rect x="419.90" y="435.92" width="8.90" height="2.82" fill="#800202"/><rect x="419.90" y="438.74" width="8.90" height="2.82" fill="#007600"/><rect x="419.90" y="441.57" width="8.90" height="2.82" fill="#002a00"/><rect x="419.90" y="444.39" width="8.90" height="2.82" fill="#080808"/><rect x="419.90" y="447.21" width="8.90" height="2.82" fill="#002a00"/><rect x="419.90" y="450.03" width="8.90" height="2.82" fill="#00a400"/><rect x="419.90" y="452.85" width="8.90" height="5.64" fill="#06e206"/><rect x="419.90" y="458.49" width="8.90" height="5.64" fill="#00a400"/><rect x="419.90" y="464.14" width="8.90" height="2.82" fill="#06e206"/><rect x="419.90" y="466.96" width="8.90" height="2.82" fill="#00a400"/><rect x="419.90" y="469.78" width="8.90" height="2.82" fill="#007600"/><rect x="419.90" y="472.60" width="8.90" height="5.64" fill="#080808"/><rect x="419.90" y="478.24" width="8.90" height="2.82" fill="#00a400"/><rect x="419.90" y="481.06" width="8.90" height="11.29" fill="#007600"/><rect x="419.90" y="492.35" width="8.90" height="2.82" fill="#00a400"/><rect x="419.90" y="495.17" width="8.90" height="2.82" fill="#007600"/><rect x="419.90" y="497.99" width="8.90" height="2.82" fill="#00a400"/><rect x="419.90" y="500.81" width="8.90" height="5.64" fill="#007600"/><rect x="419.90" y="506.46" width="8.90" height="5.64" fill="#00a400"/><rect x="419.90" y="512.10" width="8.90" height="8.46" fill="#007600"/><rect x="419.90" y="520.56" width="8.90" height="5.64" fill="#002a00"/><rect x="419.90" y="526.21" width="8.90" height="16.93" fill="#007600"/><rect x="419.90" y="543.13" width="8.90" height="2.82" fill="#080808"/><rect x="419.90" y="545.95" width="8.90" height="2.82" fill="#00a400"/><rect x="419.90" y="548.78" width="8.90" height="2.82" fill="#080808"/><rect x="419.90" y="551.60" width="8.90" height="2.82" fill="#007600"/><rect x="419.90" y="554.42" width="8.90" height="2.82" fill="#06e206"/><rect x="419.90" y="557.24" width="8.90" height="2.82" fill="#002a00"/><rect x="419.90" y="560.06" width="8.90" height="2.82" fill="#080808"/><rect x="419.90" y="562.88" width="8.90" height="5.64" fill="#007600"/><rect x="419.90" y="568.53" width="8.90" height="2.82" fill="#00a400"/><rect x="419.90" y="571.35" width="8.90" height="2.82" fill="#800202"/><rect x="419.90" y="574.17" width="8.90" height="2.82" fill="#080808"/><rect x="419.90" y="576.99" width="8.90" height="2.82" fill="#00a400"/><rect x="419.90" y="579.81" width="8.90" height="2.82" fill="#007600"/><rect x="419.90" y="582.63" width="8.90" height="2.82" fill="#00a400"/><rect x="419.90" y="585.45" width="8.90" height="2.82" fill="#c80505"/><rect x="419.90" y="588.27" width="8.90" height="8.46" fill="#002a00"/><rect x="419.90" y="596.74" width="8.90" height="2.82" fill="#080808"/><rect x="419.90" y="599.56" width="8.90" height="8.46" fill="#c80505"/><rect x="419.90" y="608.02" width="8.90" height="8.46" fill="#3e0202"/><rect x="419.90" y="616.49" width="8.90" height="5.64" fill="#c80505"/><rect x="419.90" y="622.13" width="8.90" height="2.82" fill="#800202"/><rect x="419.90" y="624.95" width="8.90" height="2.82" fill="#3e0202"/><rect x="419.90" y="627.77" width="8.90" height="11.29" fill="#800202"/><rect x="419.90" y="639.06" width="8.90" height="8.46" fill="#3e0202"/><rect x="419.90" y="647.52" width="8.90" height="2.82" fill="#080808"/><rect x="419.90" y="650.34" width="8.90" height="2.82" fill="#002a00"/><rect x="419.90" y="653.17" width="8.90" height="2.82" fill="#c80505"/><rect x="419.90" y="655.99" width="8.90" height="8.46" fill="#800202"/><rect x="419.90" y="664.45" width="8.90" height="8.46" fill="#3e0202"/><rect x="419.90" y="672.91" width="8.90" height="2.82" fill="#080808"/><rect x="419.90" y="675.74" width="8.90" height="2.82" fill="#3e0202"/><rect x="419.90" y="678.56" width="8.90" height="2.82" fill="#007600"/><rect x="419.90" y="681.38" width="8.90" height="2.82" fill="#06e206"/><rect x="428.80" y="49.40" width="8.90" height="2.82" fill="#080808"/><rect x="428.80" y="52.22" width="8.90" height="2.82" fill="#002a00"/><rect x="428.80" y="55.04" width="8.90" height="2.82" fill="#3e0202"/><rect x="428.80" y="57.86" width="8.90" height="5.64" fill="#004a00"/><rect x="428.80" y="63.51" width="8.90" height="2.82" fill="#080808"/><rect x="428.80" y="66.33" width="8.90" height="2.82" fill="#002a00"/><rect x="428.80" y="69.15" width="8.90" height="2.82" fill="#3e0202"/><rect x="428.80" y="71.97" width="8.90" height="2.82" fill="#00a400"/><rect x="428.80" y="74.79" width="8.90" height="2.82" fill="#06e206"/><rect x="428.80" y="77.61" width="8.90" height="2.82" fill="#007600"/><rect x="428.80" y="80.43" width="8.90" height="8.46" fill="#3e0202"/><rect x="428.80" y="88.90" width="8.90" height="5.64" fill="#800202"/><rect x="428.80" y="94.54" width="8.90" height="2.82" fill="#080808"/><rect x="428.80" y="97.36" width="8.90" height="2.82" fill="#002a00"/><rect x="428.80" y="100.18" width="8.90" height="11.29" fill="#080808"/><rect x="428.80" y="111.47" width="8.90" height="2.82" fill="#002a00"/><rect x="428.80" y="114.29" width="8.90" height="2.82" fill="#007600"/><rect x="428.80" y="117.11" width="8.90" height="2.82" fill="#002a00"/><rect x="428.80" y="119.93" width="8.90" height="2.82" fill="#080808"/><rect x="428.80" y="122.75" width="8.90" height="2.82" fill="#002a00"/><rect x="428.80" y="125.58" width="8.90" height="5.64" fill="#007600"/><rect x="428.80" y="131.22" width="8.90" height="2.82" fill="#004a00"/><rect x="428.80" y="134.04" width="8.90" height="2.82" fill="#06e206"/><rect x="428.80" y="136.86" width="8.90" height="5.64" fill="#002a00"/><rect x="428.80" y="142.50" width="8.90" height="2.82" fill="#800202"/><rect x="428.80" y="145.33" width="8.90" height="8.46" fill="#3e0202"/><rect x="428.80" y="153.79" width="8.90" height="8.46" fill="#800202"/><rect x="428.80" y="162.25" width="8.90" height="8.46" fill="#3e0202"/><rect x="428.80" y="170.72" width="8.90" height="2.82" fill="#800202"/><rect x="428.80" y="173.54" width="8.90" height="2.82" fill="#002a00"/><rect x="428.80" y="176.36" width="8.90" height="2.82" fill="#080808"/><rect x="428.80" y="179.18" width="8.90" height="5.64" fill="#800202"/><rect x="428.80" y="184.82" width="8.90" height="2.82" fill="#3e0202"/><rect x="428.80" y="187.65" width="8.90" height="2.82" fill="#004a00"/><rect x="428.80" y="190.47" width="8.90" height="8.46" fill="#080808"/><rect x="428.80" y="198.93" width="8.90" height="2.82" fill="#007600"/><rect x="428.80" y="201.75" width="8.90" height="2.82" fill="#004a00"/><rect x="428.80" y="204.57" width="8.90" height="2.82" fill="#002a00"/><rect x="428.80" y="207.39" width="8.90" height="2.82" fill="#00a400"/><rect x="428.80" y="210.22" width="8.90" height="2.82" fill="#080808"/><rect x="428.80" y="213.04" width="8.90" height="2.82" fill="#007600"/><rect x="428.80" y="215.86" width="8.90" height="5.64" fill="#002a00"/><rect x="428.80" y="221.50" width="8.90" height="2.82" fill="#080808"/><rect x="428.80" y="224.32" width="8.90" height="5.64" fill="#3e0202"/><rect x="428.80" y="229.97" width="8.90" height="2.82" fill="#002a00"/><rect x="428.80" y="232.79" width="8.90" height="2.82" fill="#080808"/><rect x="428.80" y="235.61" width="8.90" height="8.46" fill="#002a00"/><rect x="428.80" y="244.07" width="8.90" height="2.82" fill="#06e206"/><rect x="428.80" y="246.89" width="8.90" height="2.82" fill="#002a00"/><rect x="428.80" y="249.71" width="8.90" height="5.64" fill="#007600"/><rect x="428.80" y="255.36" width="8.90" height="2.82" fill="#080808"/><rect x="428.80" y="258.18" width="8.90" height="2.82" fill="#007600"/><rect x="428.80" y="261.00" width="8.90" height="5.64" fill="#002a00"/><rect x="428.80" y="266.64" width="8.90" height="2.82" fill="#004a00"/><rect x="428.80" y="269.46" width="8.90" height="2.82" fill="#002a00"/><rect x="428.80" y="272.29" width="8.90" height="2.82" fill="#007600"/><rect x="428.80" y="275.11" width="8.90" height="5.64" fill="#002a00"/><rect x="428.80" y="280.75" width="8.90" height="2.82" fill="#007600"/><rect x="428.80" y="283.57" width="8.90" height="2.82" fill="#080808"/><rect x="428.80" y="286.39" width="8.90" height="2.82" fill="#800202"/><rect x="428.80" y="289.21" width="8.90" height="2.82" fill="#080808"/><rect x="428.80" y="292.03" width="8.90" height="2.82" fill="#007600"/><rect x="428.80" y="294.86" width="8.90" height="2.82" fill="#00a400"/><rect x="428.80" y="297.68" width="8.90" height="2.82" fill="#080808"/><rect x="428.80" y="300.50" width="8.90" height="11.29" fill="#007600"/><rect x="428.80" y="311.78" width="8.90" height="2.82" fill="#080808"/><rect x="428.80" y="314.61" width="8.90" height="5.64" fill="#002a00"/><rect x="428.80" y="320.25" width="8.90" height="5.64" fill="#080808"/><rect x="428.80" y="325.89" width="8.90" height="5.64" fill="#002a00"/><rect x="428.80" y="331.53" width="8.90" height="8.46" fill="#800202"/><rect x="428.80" y="340.00" width="8.90" height="5.64" fill="#080808"/><rect x="428.80" y="345.64" width="8.90" height="2.82" fill="#002a00"/><rect x="428.80" y="348.46" width="8.90" height="5.64" fill="#007600"/><rect x="428.80" y="354.10" width="8.90" height="2.82" fill="#002a00"/><rect x="428.80" y="356.93" width="8.90" height="5.64" fill="#00a400"/><rect x="428.80" y="362.57" width="8.90" height="2.82" fill="#3e0202"/><rect x="428.80" y="365.39" width="8.90" height="25.39" fill="#007600"/><rect x="428.80" y="390.78" width="8.90" height="2.82" fill="#002a00"/><rect x="428.80" y="393.60" width="8.90" height="8.46" fill="#080808"/><rect x="428.80" y="402.07" width="8.90" height="2.82" fill="#800202"/><rect x="428.80" y="404.89" width="8.90" height="2.82" fill="#007600"/><rect x="428.80" y="407.71" width="8.90" height="2.82" fill="#00a400"/><rect x="428.80" y="410.53" width="8.90" height="2.82" fill="#002a00"/><rect x="428.80" y="413.35" width="8.90" height="2.82" fill="#080808"/><rect x="428.80" y="416.17" width="8.90" height="2.82" fill="#007600"/><rect x="428.80" y="418.99" width="8.90" height="2.82" fill="#06e206"/><rect x="428.80" y="421.82" width="8.90" height="2.82" fill="#007600"/><rect x="428.80" y="424.64" width="8.90" height="2.82" fill="#002a00"/><rect x="428.80" y="427.46" width="8.90" height="2.82" fill="#007600"/><rect x="428.80" y="430.28" width="8.90" height="8.46" fill="#002a00"/><rect x="428.80" y="438.74" width="8.90" height="2.82" fill="#007600"/><rect x="428.80" y="441.57" width="8.90" height="5.64" fill="#3e0202"/><rect x="428.80" y="447.21" width="8.90" height="5.64" fill="#00a400"/><rect x="428.80" y="452.85" width="8.90" height="2.82" fill="#007600"/><rect x="428.80" y="455.67" width="8.90" height="2.82" fill="#002a00"/><rect x="428.80" y="458.49" width="8.90" height="2.82" fill="#007600"/><rect x="428.80" y="461.31" width="8.90" height="2.82" fill="#002a00"/><rect x="428.80" y="464.14" width="8.90" height="2.82" fill="#007600"/><rect x="428.80" y="466.96" width="8.90" height="5.64" fill="#06e206"/><rect x="428.80" y="472.60" width="8.90" height="8.46" fill="#00a400"/><rect x="428.80" y="481.06" width="8.90" height="2.82" fill="#002a00"/><rect x="428.80" y="483.89" width="8.90" height="2.82" fill="#080808"/><rect x="428.80" y="486.71" width="8.90" height="2.82" fill="#002a00"/><rect x="428.80" y="489.53" width="8.90" height="2.82" fill="#080808"/><rect x="428.80" y="492.35" width="8.90" height="5.64" fill="#007600"/><rect x="428.80" y="497.99" width="8.90" height="5.64" fill="#002a00"/><rect x="428.80" y="503.63" width="8.90" height="14.11" fill="#00a400"/><rect x="428.80" y="517.74" width="8.90" height="2.82" fill="#080808"/><rect x="428.80" y="520.56" width="8.90" height="8.46" fill="#002a00"/><rect x="428.80" y="529.03" width="8.90" height="5.64" fill="#007600"/><rect x="428.80" y="534.67" width="8.90" height="2.82" fill="#06e206"/><rect x="428.80" y="537.49" width="8.90" height="2.82" fill="#007600"/><rect x="428.80" y="540.31" width="8.90" height="2.82" fill="#002a00"/><rect x="428.80" y="543.13" width="8.90" height="2.82" fill="#080808"/><rect x="428.80" y="545.95" width="8.90" height="2.82" fill="#00a400"/><rect x="428.80" y="548.78" width="8.90" height="2.82" fill="#007600"/><rect x="428.80" y="551.60" width="8.90" height="5.64" fill="#06e206"/><rect x="428.80" y="557.24" width="8.90" height="2.82" fill="#002a00"/><rect x="428.80" y="560.06" width="8.90" height="2.82" fill="#3e0202"/><rect x="428.80" y="562.88" width="8.90" height="2.82" fill="#080808"/><rect x="428.80" y="565.70" width="8.90" height="2.82" fill="#3e0202"/><rect x="428.80" y="568.53" width="8.90" height="2.82" fill="#002a00"/><rect x="428.80" y="571.35" width="8.90" height="8.46" fill="#007600"/><rect x="428.80" y="579.81" width="8.90" height="2.82" fill="#002a00"/><rect x="428.80" y="582.63" width="8.90" height="2.82" fill="#080808"/><rect x="428.80" y="585.45" width="8.90" height="2.82" fill="#c80505"/><rect x="428.80" y="588.27" width="8.90" height="8.46" fill="#3e0202"/><rect x="428.80" y="596.74" width="8.90" height="2.82" fill="#002a00"/><rect x="428.80" y="599.56" width="8.90" height="8.46" fill="#3e0202"/><rect x="428.80" y="608.02" width="8.90" height="2.82" fill="#800202"/><rect x="428.80" y="610.85" width="8.90" height="5.64" fill="#080808"/><rect x="428.80" y="616.49" width="8.90" height="5.64" fill="#3e0202"/><rect x="428.80" y="622.13" width="8.90" height="2.82" fill="#002a00"/><rect x="428.80" y="624.95" width="8.90" height="2.82" fill="#007600"/><rect x="428.80" y="627.77" width="8.90" height="16.93" fill="#3e0202"/><rect x="428.80" y="644.70" width="8.90" height="5.64" fill="#800202"/><rect x="428.80" y="650.34" width="8.90" height="5.64" fill="#3e0202"/><rect x="428.80" y="655.99" width="8.90" height="2.82" fill="#800202"/><rect x="428.80" y="658.81" width="8.90" height="2.82" fill="#3e0202"/><rect x="428.80" y="661.63" width="8.90" height="2.82" fill="#800202"/><rect x="428.80" y="664.45" width="8.90" height="5.64" fill="#3e0202"/><rect x="428.80" y="670.09" width="8.90" height="2.82" fill="#00a400"/><rect x="428.80" y="672.91" width="8.90" height="2.82" fill="#800202"/><rect x="428.80" y="675.74" width="8.90" height="2.82" fill="#080808"/><rect x="428.80" y="678.56" width="8.90" height="5.64" fill="#3e0202"/><rect x="437.70" y="49.40" width="8.90" height="2.82" fill="#002a00"/><rect x="437.70" y="52.22" width="8.90" height="2.82" fill="#080808"/><rect x="437.70" y="55.04" width="8.90" height="2.82" fill="#c80505"/><rect x="437.70" y="57.86" width="8.90" height="5.64" fill="#3e0202"/><rect x="437.70" y="63.51" width="8.90" height="5.64" fill="#002a00"/><rect x="437.70" y="69.15" width="8.90" height="2.82" fill="#080808"/><rect x="437.70" y="71.97" width="8.90" height="2.82" fill="#800202"/><rect x="437.70" y="74.79" width="8.90" height="2.82" fill="#3e0202"/><rect x="437.70" y="77.61" width="8.90" height="2.82" fill="#800202"/><rect x="437.70" y="80.43" width="8.90" height="2.82" fill="#004a00"/><rect x="437.70" y="83.26" width="8.90" height="5.64" fill="#00a400"/><rect x="437.70" y="88.90" width="8.90" height="2.82" fill="#004a00"/><rect x="437.70" y="91.72" width="8.90" height="8.46" fill="#00a400"/><rect x="437.70" y="100.18" width="8.90" height="8.46" fill="#06e206"/><rect x="437.70" y="108.65" width="8.90" height="8.46" fill="#00a400"/><rect x="437.70" y="117.11" width="8.90" height="8.46" fill="#06e206"/><rect x="437.70" y="125.58" width="8.90" height="5.64" fill="#00a400"/><rect x="437.70" y="131.22" width="8.90" height="11.29" fill="#06e206"/><rect x="437.70" y="142.50" width="8.90" height="2.82" fill="#002a00"/><rect x="437.70" y="145.33" width="8.90" height="2.82" fill="#080808"/><rect x="437.70" y="148.15" width="8.90" height="5.64" fill="#3e0202"/><rect x="437.70" y="153.79" width="8.90" height="5.64" fill="#080808"/><rect x="437.70" y="159.43" width="8.90" height="2.82" fill="#00a400"/><rect x="437.70" y="162.25" width="8.90" height="2.82" fill="#080808"/><rect x="437.70" y="165.07" width="8.90" height="5.64" fill="#3e0202"/><rect x="437.70" y="170.72" width="8.90" height="2.82" fill="#800202"/><rect x="437.70" y="173.54" width="8.90" height="5.64" fill="#3e0202"/><rect x="437.70" y="179.18" width="8.90" height="2.82" fill="#002a00"/><rect x="437.70" y="182.00" width="8.90" height="5.64" fill="#080808"/><rect x="437.70" y="187.65" width="8.90" height="2.82" fill="#002a00"/><rect x="437.70" y="190.47" width="8.90" height="2.82" fill="#3e0202"/><rect x="437.70" y="193.29" width="8.90" height="2.82" fill="#00a400"/><rect x="437.70" y="196.11" width="8.90" height="2.82" fill="#004a00"/><rect x="437.70" y="198.93" width="8.90" height="2.82" fill="#3e0202"/><rect x="437.70" y="201.75" width="8.90" height="5.64" fill="#002a00"/><rect x="437.70" y="207.39" width="8.90" height="2.82" fill="#080808"/><rect x="437.70" y="210.22" width="8.90" height="8.46" fill="#800202"/><rect x="437.70" y="218.68" width="8.90" height="2.82" fill="#080808"/><rect x="437.70" y="221.50" width="8.90" height="2.82" fill="#002a00"/><rect x="437.70" y="224.32" width="8.90" height="5.64" fill="#004a00"/><rect x="437.70" y="229.97" width="8.90" height="2.82" fill="#002a00"/><rect x="437.70" y="232.79" width="8.90" height="2.82" fill="#080808"/><rect x="437.70" y="235.61" width="8.90" height="2.82" fill="#3e0202"/><rect x="437.70" y="238.43" width="8.90" height="2.82" fill="#002a00"/><rect x="437.70" y="241.25" width="8.90" height="2.82" fill="#3e0202"/><rect x="437.70" y="244.07" width="8.90" height="8.46" fill="#007600"/><rect x="437.70" y="252.54" width="8.90" height="5.64" fill="#002a00"/><rect x="437.70" y="258.18" width="8.90" height="8.46" fill="#080808"/><rect x="437.70" y="266.64" width="8.90" height="2.82" fill="#800202"/><rect x="437.70" y="269.46" width="8.90" height="8.46" fill="#06e206"/><rect x="437.70" y="277.93" width="8.90" height="5.64" fill="#00a400"/><rect x="437.70" y="283.57" width="8.90" height="2.82" fill="#007600"/><rect x="437.70" y="286.39" width="8.90" height="2.82" fill="#00a400"/><rect x="437.70" y="289.21" width="8.90" height="2.82" fill="#06e206"/><rect x="437.70" y="292.03" width="8.90" height="11.29" fill="#00a400"/><rect x="437.70" y="303.32" width="8.90" height="5.64" fill="#06e206"/><rect x="437.70" y="308.96" width="8.90" height="5.64" fill="#00a400"/><rect x="437.70" y="314.61" width="8.90" height="8.46" fill="#007600"/><rect x="437.70" y="323.07" width="8.90" height="5.64" fill="#06e206"/><rect x="437.70" y="328.71" width="8.90" height="5.64" fill="#002a00"/><rect x="437.70" y="334.35" width="8.90" height="8.46" fill="#007600"/><rect x="437.70" y="342.82" width="8.90" height="5.64" fill="#002a00"/><rect x="437.70" y="348.46" width="8.90" height="14.11" fill="#06e206"/><rect x="437.70" y="362.57" width="8.90" height="2.82" fill="#007600"/><rect x="437.70" y="365.39" width="8.90" height="2.82" fill="#080808"/><rect x="437.70" y="368.21" width="8.90" height="5.64" fill="#06e206"/><rect x="437.70" y="373.85" width="8.90" height="8.46" fill="#007600"/><rect x="437.70" y="382.32" width="8.90" height="2.82" fill="#00a400"/><rect x="437.70" y="385.14" width="8.90" height="2.82" fill="#06e206"/><rect x="437.70" y="387.96" width="8.90" height="2.82" fill="#007600"/><rect x="437.70" y="390.78" width="8.90" height="2.82" fill="#002a00"/><rect x="437.70" y="393.60" width="8.90" height="8.46" fill="#007600"/><rect x="437.70" y="402.07" width="8.90" height="2.82" fill="#002a00"/><rect x="437.70" y="404.89" width="8.90" height="5.64" fill="#007600"/><rect x="437.70" y="410.53" width="8.90" height="2.82" fill="#06e206"/><rect x="437.70" y="413.35" width="8.90" height="5.64" fill="#007600"/><rect x="437.70" y="418.99" width="8.90" height="2.82" fill="#080808"/><rect x="437.70" y="421.82" width="8.90" height="2.82" fill="#c80505"/><rect x="437.70" y="424.64" width="8.90" height="2.82" fill="#080808"/><rect x="437.70" y="427.46" width="8.90" height="2.82" fill="#3e0202"/><rect x="437.70" y="430.28" width="8.90" height="5.64" fill="#007600"/><rect x="437.70" y="435.92" width="8.90" height="5.64" fill="#002a00"/><rect x="437.70" y="441.57" width="8.90" height="5.64" fill="#080808"/><rect x="437.70" y="447.21" width="8.90" height="2.82" fill="#06e206"/><rect x="437.70" y="450.03" width="8.90" height="5.64" fill="#007600"/><rect x="437.70" y="455.67" width="8.90" height="5.64" fill="#06e206"/><rect x="437.70" y="461.31" width="8.90" height="2.82" fill="#007600"/><rect x="437.70" y="464.14" width="8.90" height="8.46" fill="#00a400"/><rect x="437.70" y="472.60" width="8.90" height="2.82" fill="#080808"/><rect x="437.70" y="475.42" width="8.90" height="2.82" fill="#002a00"/><rect x="437.70" y="478.24" width="8.90" height="2.82" fill="#007600"/><rect x="437.70" y="481.06" width="8.90" height="11.29" fill="#00a400"/><rect x="437.70" y="492.35" width="8.90" height="25.39" fill="#06e206"/><rect x="437.70" y="517.74" width="8.90" height="2.82" fill="#00a400"/><rect x="437.70" y="520.56" width="8.90" height="5.64" fill="#007600"/><rect x="437.70" y="526.21" width="8.90" height="2.82" fill="#00a400"/><rect x="437.70" y="529.03" width="8.90" height="2.82" fill="#06e206"/><rect x="437.70" y="531.85" width="8.90" height="5.64" fill="#00a400"/><rect x="437.70" y="537.49" width="8.90" height="8.46" fill="#06e206"/><rect x="437.70" y="545.95" width="8.90" height="5.64" fill="#3e0202"/><rect x="437.70" y="551.60" width="8.90" height="5.64" fill="#800202"/><rect x="437.70" y="557.24" width="8.90" height="5.64" fill="#007600"/><rect x="437.70" y="562.88" width="8.90" height="2.82" fill="#002a00"/><rect x="437.70" y="565.70" width="8.90" height="5.64" fill="#080808"/><rect x="437.70" y="571.35" width="8.90" height="5.64" fill="#3e0202"/><rect x="437.70" y="576.99" width="8.90" height="2.82" fill="#06e206"/><rect x="437.70" y="579.81" width="8.90" height="2.82" fill="#080808"/><rect x="437.70" y="582.63" width="8.90" height="5.64" fill="#004a00"/><rect x="437.70" y="588.27" width="8.90" height="2.82" fill="#06e206"/><rect x="437.70" y="591.10" width="8.90" height="2.82" fill="#3e0202"/><rect x="437.70" y="593.92" width="8.90" height="2.82" fill="#007600"/><rect x="437.70" y="596.74" width="8.90" height="2.82" fill="#002a00"/><rect x="437.70" y="599.56" width="8.90" height="2.82" fill="#007600"/><rect x="437.70" y="602.38" width="8.90" height="2.82" fill="#002a00"/><rect x="437.70" y="605.20" width="8.90" height="2.82" fill="#007600"/><rect x="437.70" y="608.02" width="8.90" height="8.46" fill="#3e0202"/><rect x="437.70" y="616.49" width="8.90" height="2.82" fill="#080808"/><rect x="437.70" y="619.31" width="8.90" height="2.82" fill="#00a400"/><rect x="437.70" y="622.13" width="8.90" height="5.64" fill="#007600"/><rect x="437.70" y="627.77" width="8.90" height="2.82" fill="#800202"/><rect x="437.70" y="630.59" width="8.90" height="2.82" fill="#3e0202"/><rect x="437.70" y="633.42" width="8.90" height="14.11" fill="#800202"/><rect x="437.70" y="647.52" width="8.90" height="5.64" fill="#3e0202"/><rect x="437.70" y="653.17" width="8.90" height="2.82" fill="#800202"/><rect x="437.70" y="655.99" width="8.90" height="5.64" fill="#3e0202"/><rect x="437.70" y="661.63" width="8.90" height="2.82" fill="#800202"/><rect x="437.70" y="664.45" width="8.90" height="2.82" fill="#080808"/><rect x="437.70" y="667.27" width="8.90" height="2.82" fill="#3e0202"/><rect x="437.70" y="670.09" width="8.90" height="2.82" fill="#800202"/><rect x="437.70" y="672.91" width="8.90" height="2.82" fill="#c80505"/><rect x="437.70" y="675.74" width="8.90" height="2.82" fill="#3e0202"/><rect x="437.70" y="678.56" width="8.90" height="2.82" fill="#080808"/><rect x="437.70" y="681.38" width="8.90" height="2.82" fill="#3e0202"/><rect x="446.60" y="49.40" width="8.90" height="5.64" fill="#3e0202"/><rect x="446.60" y="55.04" width="8.90" height="2.82" fill="#004a00"/><rect x="446.60" y="57.86" width="8.90" height="5.64" fill="#007600"/><rect x="446.60" y="63.51" width="8.90" height="2.82" fill="#3e0202"/><rect x="446.60" y="66.33" width="8.90" height="2.82" fill="#002a00"/><rect x="446.60" y="69.15" width="8.90" height="2.82" fill="#3e0202"/><rect x="446.60" y="71.97" width="8.90" height="2.82" fill="#c80505"/><rect x="446.60" y="74.79" width="8.90" height="2.82" fill="#00a400"/><rect x="446.60" y="77.61" width="8.90" height="2.82" fill="#800202"/><rect x="446.60" y="80.43" width="8.90" height="8.46" fill="#002a00"/><rect x="446.60" y="88.90" width="8.90" height="8.46" fill="#080808"/><rect x="446.60" y="97.36" width="8.90" height="2.82" fill="#800202"/><rect x="446.60" y="100.18" width="8.90" height="5.64" fill="#3e0202"/><rect x="446.60" y="105.83" width="8.90" height="2.82" fill="#080808"/><rect x="446.60" y="108.65" width="8.90" height="2.82" fill="#002a00"/><rect x="446.60" y="111.47" width="8.90" height="2.82" fill="#080808"/><rect x="446.60" y="114.29" width="8.90" height="2.82" fill="#06e206"/><rect x="446.60" y="117.11" width="8.90" height="2.82" fill="#080808"/><rect x="446.60" y="119.93" width="8.90" height="5.64" fill="#007600"/><rect x="446.60" y="125.58" width="8.90" height="5.64" fill="#004a00"/><rect x="446.60" y="131.22" width="8.90" height="2.82" fill="#007600"/><rect x="446.60" y="134.04" width="8.90" height="2.82" fill="#800202"/><rect x="446.60" y="136.86" width="8.90" height="2.82" fill="#3e0202"/><rect x="446.60" y="139.68" width="8.90" height="2.82" fill="#c80505"/><rect x="446.60" y="142.50" width="8.90" height="22.57" fill="#3e0202"/><rect x="446.60" y="165.07" width="8.90" height="5.64" fill="#00a400"/><rect x="446.60" y="170.72" width="8.90" height="5.64" fill="#002a00"/><rect x="446.60" y="176.36" width="8.90" height="2.82" fill="#3e0202"/><rect x="446.60" y="179.18" width="8.90" height="5.64" fill="#00a400"/><rect x="446.60" y="184.82" width="8.90" height="2.82" fill="#002a00"/><rect x="446.60" y="187.65" width="8.90" height="5.64" fill="#06e206"/><rect x="446.60" y="193.29" width="8.90" height="2.82" fill="#002a00"/><rect x="446.60" y="196.11" width="8.90" height="2.82" fill="#007600"/><rect x="446.60" y="198.93" width="8.90" height="2.82" fill="#3e0202"/><rect x="446.60" y="201.75" width="8.90" height="5.64" fill="#004a00"/><rect x="446.60" y="207.39" width="8.90" height="2.82" fill="#080808"/><rect x="446.60" y="210.22" width="8.90" height="2.82" fill="#007600"/><rect x="446.60" y="213.04" width="8.90" height="8.46" fill="#002a00"/><rect x="446.60" y="221.50" width="8.90" height="5.64" fill="#080808"/><rect x="446.60" y="227.14" width="8.90" height="11.29" fill="#002a00"/><rect x="446.60" y="238.43" width="8.90" height="2.82" fill="#800202"/><rect x="446.60" y="241.25" width="8.90" height="2.82" fill="#3e0202"/><rect x="446.60" y="244.07" width="8.90" height="11.29" fill="#002a00"/><rect x="446.60" y="255.36" width="8.90" height="2.82" fill="#00a400"/><rect x="446.60" y="258.18" width="8.90" height="5.64" fill="#007600"/><rect x="446.60" y="263.82" width="8.90" height="2.82" fill="#00a400"/><rect x="446.60" y="266.64" width="8.90" height="2.82" fill="#007600"/><rect x="446.60" y="269.46" width="8.90" height="2.82" fill="#080808"/><rect x="446.60" y="272.29" width="8.90" height="2.82" fill="#00a400"/><rect x="446.60" y="275.11" width="8.90" height="2.82" fill="#007600"/><rect x="446.60" y="277.93" width="8.90" height="2.82" fill="#004a00"/><rect x="446.60" y="280.75" width="8.90" height="2.82" fill="#00a400"/><rect x="446.60" y="283.57" width="8.90" height="5.64" fill="#007600"/><rect x="446.60" y="289.21" width="8.90" height="2.82" fill="#002a00"/><rect x="446.60" y="292.03" width="8.90" height="2.82" fill="#3e0202"/><rect x="446.60" y="294.86" width="8.90" height="2.82" fill="#080808"/><rect x="446.60" y="297.68" width="8.90" height="2.82" fill="#002a00"/><rect x="446.60" y="300.50" width="8.90" height="5.64" fill="#007600"/><rect x="446.60" y="306.14" width="8.90" height="5.64" fill="#080808"/><rect x="446.60" y="311.78" width="8.90" height="8.46" fill="#007600"/><rect x="446.60" y="320.25" width="8.90" height="2.82" fill="#002a00"/><rect x="446.60" y="323.07" width="8.90" height="2.82" fill="#3e0202"/><rect x="446.60" y="325.89" width="8.90" height="2.82" fill="#007600"/><rect x="446.60" y="328.71" width="8.90" height="2.82" fill="#002a00"/><rect x="446.60" y="331.53" width="8.90" height="5.64" fill="#007600"/><rect x="446.60" y="337.18" width="8.90" height="5.64" fill="#00a400"/><rect x="446.60" y="342.82" width="8.90" height="2.82" fill="#007600"/><rect x="446.60" y="345.64" width="8.90" height="5.64" fill="#00a400"/><rect x="446.60" y="351.28" width="8.90" height="2.82" fill="#06e206"/><rect x="446.60" y="354.10" width="8.90" height="2.82" fill="#007600"/><rect x="446.60" y="356.93" width="8.90" height="5.64" fill="#06e206"/><rect x="446.60" y="362.57" width="8.90" height="5.64" fill="#002a00"/><rect x="446.60" y="368.21" width="8.90" height="2.82" fill="#800202"/><rect x="446.60" y="371.03" width="8.90" height="5.64" fill="#007600"/><rect x="446.60" y="376.67" width="8.90" height="8.46" fill="#002a00"/><rect x="446.60" y="385.14" width="8.90" height="2.82" fill="#007600"/><rect x="446.60" y="387.96" width="8.90" height="2.82" fill="#080808"/><rect x="446.60" y="390.78" width="8.90" height="2.82" fill="#007600"/><rect x="446.60" y="393.60" width="8.90" height="2.82" fill="#002a00"/><rect x="446.60" y="396.42" width="8.90" height="2.82" fill="#06e206"/><rect x="446.60" y="399.25" width="8.90" height="5.64" fill="#007600"/><rect x="446.60" y="404.89" width="8.90" height="5.64" fill="#002a00"/><rect x="446.60" y="410.53" width="8.90" height="5.64" fill="#007600"/><rect x="446.60" y="416.17" width="8.90" height="2.82" fill="#002a00"/><rect x="446.60" y="418.99" width="8.90" height="5.64" fill="#007600"/><rect x="446.60" y="424.64" width="8.90" height="2.82" fill="#002a00"/><rect x="446.60" y="427.46" width="8.90" height="2.82" fill="#007600"/><rect x="446.60" y="430.28" width="8.90" height="5.64" fill="#06e206"/><rect x="446.60" y="435.92" width="8.90" height="2.82" fill="#00a400"/><rect x="446.60" y="438.74" width="8.90" height="5.64" fill="#06e206"/><rect x="446.60" y="444.39" width="8.90" height="2.82" fill="#007600"/><rect x="446.60" y="447.21" width="8.90" height="22.57" fill="#00a400"/><rect x="446.60" y="469.78" width="8.90" height="2.82" fill="#007600"/><rect x="446.60" y="472.60" width="8.90" height="2.82" fill="#06e206"/><rect x="446.60" y="475.42" width="8.90" height="2.82" fill="#3e0202"/><rect x="446.60" y="478.24" width="8.90" height="2.82" fill="#007600"/><rect x="446.60" y="481.06" width="8.90" height="2.82" fill="#002a00"/><rect x="446.60" y="483.89" width="8.90" height="5.64" fill="#007600"/><rect x="446.60" y="489.53" width="8.90" height="5.64" fill="#00a400"/><rect x="446.60" y="495.17" width="8.90" height="5.64" fill="#004a00"/><rect x="446.60" y="500.81" width="8.90" height="5.64" fill="#007600"/><rect x="446.60" y="506.46" width="8.90" height="2.82" fill="#080808"/><rect x="446.60" y="509.28" width="8.90" height="2.82" fill="#002a00"/><rect x="446.60" y="512.10" width="8.90" height="5.64" fill="#007600"/><rect x="446.60" y="517.74" width="8.90" height="2.82" fill="#00a400"/><rect x="446.60" y="520.56" width="8.90" height="2.82" fill="#800202"/><rect x="446.60" y="523.38" width="8.90" height="2.82" fill="#002a00"/><rect x="446.60" y="526.21" width="8.90" height="11.29" fill="#080808"/><rect x="446.60" y="537.49" width="8.90" height="2.82" fill="#007600"/><rect x="446.60" y="540.31" width="8.90" height="2.82" fill="#002a00"/><rect x="446.60" y="543.13" width="8.90" height="2.82" fill="#007600"/><rect x="446.60" y="545.95" width="8.90" height="2.82" fill="#00a400"/><rect x="446.60" y="548.78" width="8.90" height="2.82" fill="#002a00"/><rect x="446.60" y="551.60" width="8.90" height="2.82" fill="#00a400"/><rect x="446.60" y="554.42" width="8.90" height="2.82" fill="#007600"/><rect x="446.60" y="557.24" width="8.90" height="2.82" fill="#06e206"/><rect x="446.60" y="560.06" width="8.90" height="2.82" fill="#00a400"/><rect x="446.60" y="562.88" width="8.90" height="2.82" fill="#002a00"/><rect x="446.60" y="565.70" width="8.90" height="2.82" fill="#007600"/><rect x="446.60" y="568.53" width="8.90" height="2.82" fill="#00a400"/><rect x="446.60" y="571.35" width="8.90" height="2.82" fill="#007600"/><rect x="446.60" y="574.17" width="8.90" height="8.46" fill="#06e206"/><rect x="446.60" y="582.63" width="8.90" height="2.82" fill="#007600"/><rect x="446.60" y="585.45" width="8.90" height="2.82" fill="#c80505"/><rect x="446.60" y="588.27" width="8.90" height="5.64" fill="#3e0202"/><rect x="446.60" y="593.92" width="8.90" height="2.82" fill="#800202"/><rect x="446.60" y="596.74" width="8.90" height="2.82" fill="#002a00"/><rect x="446.60" y="599.56" width="8.90" height="5.64" fill="#007600"/><rect x="446.60" y="605.20" width="8.90" height="2.82" fill="#002a00"/><rect x="446.60" y="608.02" width="8.90" height="2.82" fill="#007600"/><rect x="446.60" y="610.85" width="8.90" height="5.64" fill="#080808"/><rect x="446.60" y="616.49" width="8.90" height="2.82" fill="#3e0202"/><rect x="446.60" y="619.31" width="8.90" height="2.82" fill="#800202"/><rect x="446.60" y="622.13" width="8.90" height="5.64" fill="#3e0202"/><rect x="446.60" y="627.77" width="8.90" height="2.82" fill="#002a00"/><rect x="446.60" y="630.59" width="8.90" height="2.82" fill="#007600"/><rect x="446.60" y="633.42" width="8.90" height="2.82" fill="#002a00"/><rect x="446.60" y="636.24" width="8.90" height="5.64" fill="#080808"/><rect x="446.60" y="641.88" width="8.90" height="5.64" fill="#002a00"/><rect x="446.60" y="647.52" width="8.90" height="5.64" fill="#3e0202"/><rect x="446.60" y="653.17" width="8.90" height="11.29" fill="#800202"/><rect x="446.60" y="664.45" width="8.90" height="2.82" fill="#080808"/><rect x="446.60" y="667.27" width="8.90" height="8.46" fill="#800202"/><rect x="446.60" y="675.74" width="8.90" height="2.82" fill="#c80505"/><rect x="446.60" y="678.56" width="8.90" height="2.82" fill="#3e0202"/><rect x="446.60" y="681.38" width="8.90" height="2.82" fill="#080808"/><rect x="455.50" y="49.40" width="8.90" height="5.64" fill="#00a400"/><rect x="455.50" y="55.04" width="8.90" height="2.82" fill="#007600"/><rect x="455.50" y="57.86" width="8.90" height="5.64" fill="#06e206"/><rect x="455.50" y="63.51" width="8.90" height="2.82" fill="#080808"/><rect x="455.50" y="66.33" width="8.90" height="2.82" fill="#002a00"/><rect x="455.50" y="69.15" width="8.90" height="2.82" fill="#080808"/><rect x="455.50" y="71.97" width="8.90" height="2.82" fill="#007600"/><rect x="455.50" y="74.79" width="8.90" height="5.64" fill="#00a400"/><rect x="455.50" y="80.43" width="8.90" height="8.46" fill="#002a00"/><rect x="455.50" y="88.90" width="8.90" height="2.82" fill="#080808"/><rect x="455.50" y="91.72" width="8.90" height="5.64" fill="#002a00"/><rect x="455.50" y="97.36" width="8.90" height="8.46" fill="#080808"/><rect x="455.50" y="105.83" width="8.90" height="2.82" fill="#3e0202"/><rect x="455.50" y="108.65" width="8.90" height="8.46" fill="#080808"/><rect x="455.50" y="117.11" width="8.90" height="2.82" fill="#002a00"/><rect x="455.50" y="119.93" width="8.90" height="5.64" fill="#007600"/><rect x="455.50" y="125.58" width="8.90" height="5.64" fill="#3e0202"/><rect x="455.50" y="131.22" width="8.90" height="2.82" fill="#800202"/><rect x="455.50" y="134.04" width="8.90" height="5.64" fill="#3e0202"/><rect x="455.50" y="139.68" width="8.90" height="2.82" fill="#800202"/><rect x="455.50" y="142.50" width="8.90" height="5.64" fill="#002a00"/><rect x="455.50" y="148.15" width="8.90" height="2.82" fill="#007600"/><rect x="455.50" y="150.97" width="8.90" height="2.82" fill="#080808"/><rect x="455.50" y="153.79" width="8.90" height="5.64" fill="#3e0202"/><rect x="455.50" y="159.43" width="8.90" height="2.82" fill="#800202"/><rect x="455.50" y="162.25" width="8.90" height="8.46" fill="#3e0202"/><rect x="455.50" y="170.72" width="8.90" height="5.64" fill="#800202"/><rect x="455.50" y="176.36" width="8.90" height="2.82" fill="#080808"/><rect x="455.50" y="179.18" width="8.90" height="2.82" fill="#002a00"/><rect x="455.50" y="182.00" width="8.90" height="2.82" fill="#080808"/><rect x="455.50" y="184.82" width="8.90" height="2.82" fill="#00a400"/><rect x="455.50" y="187.65" width="8.90" height="8.46" fill="#004a00"/><rect x="455.50" y="196.11" width="8.90" height="2.82" fill="#002a00"/><rect x="455.50" y="198.93" width="8.90" height="5.64" fill="#080808"/><rect x="455.50" y="204.57" width="8.90" height="2.82" fill="#3e0202"/><rect x="455.50" y="207.39" width="8.90" height="2.82" fill="#800202"/><rect x="455.50" y="210.22" width="8.90" height="5.64" fill="#080808"/><rect x="455.50" y="215.86" width="8.90" height="2.82" fill="#002a00"/><rect x="455.50" y="218.68" width="8.90" height="2.82" fill="#007600"/><rect x="455.50" y="221.50" width="8.90" height="2.82" fill="#080808"/><rect x="455.50" y="224.32" width="8.90" height="2.82" fill="#007600"/><rect x="455.50" y="227.14" width="8.90" height="2.82" fill="#3e0202"/><rect x="455.50" y="229.97" width="8.90" height="16.93" fill="#080808"/><rect x="455.50" y="246.89" width="8.90" height="2.82" fill="#3e0202"/><rect x="455.50" y="249.71" width="8.90" height="2.82" fill="#080808"/><rect x="455.50" y="252.54" width="8.90" height="2.82" fill="#002a00"/><rect x="455.50" y="255.36" width="8.90" height="2.82" fill="#080808"/><rect x="455.50" y="258.18" width="8.90" height="2.82" fill="#007600"/><rect x="455.50" y="261.00" width="8.90" height="2.82" fill="#004a00"/><rect x="455.50" y="263.82" width="8.90" height="2.82" fill="#3e0202"/><rect x="455.50" y="266.64" width="8.90" height="2.82" fill="#007600"/><rect x="455.50" y="269.46" width="8.90" height="2.82" fill="#06e206"/><rect x="455.50" y="272.29" width="8.90" height="2.82" fill="#004a00"/><rect x="455.50" y="275.11" width="8.90" height="5.64" fill="#007600"/><rect x="455.50" y="280.75" width="8.90" height="2.82" fill="#004a00"/><rect x="455.50" y="283.57" width="8.90" height="2.82" fill="#080808"/><rect x="455.50" y="286.39" width="8.90" height="2.82" fill="#00a400"/><rect x="455.50" y="289.21" width="8.90" height="8.46" fill="#007600"/><rect x="455.50" y="297.68" width="8.90" height="2.82" fill="#002a00"/><rect x="455.50" y="300.50" width="8.90" height="2.82" fill="#007600"/><rect x="455.50" y="303.32" width="8.90" height="5.64" fill="#002a00"/><rect x="455.50" y="308.96" width="8.90" height="2.82" fill="#080808"/><rect x="455.50" y="311.78" width="8.90" height="2.82" fill="#004a00"/><rect x="455.50" y="314.61" width="8.90" height="2.82" fill="#002a00"/><rect x="455.50" y="317.43" width="8.90" height="2.82" fill="#080808"/><rect x="455.50" y="320.25" width="8.90" height="5.64" fill="#002a00"/><rect x="455.50" y="325.89" width="8.90" height="5.64" fill="#007600"/><rect x="455.50" y="331.53" width="8.90" height="2.82" fill="#080808"/><rect x="455.50" y="334.35" width="8.90" height="2.82" fill="#3e0202"/><rect x="455.50" y="337.18" width="8.90" height="2.82" fill="#080808"/><rect x="455.50" y="340.00" width="8.90" height="5.64" fill="#002a00"/><rect x="455.50" y="345.64" width="8.90" height="2.82" fill="#06e206"/><rect x="455.50" y="348.46" width="8.90" height="2.82" fill="#00a400"/><rect x="455.50" y="351.28" width="8.90" height="11.29" fill="#007600"/><rect x="455.50" y="362.57" width="8.90" height="2.82" fill="#002a00"/><rect x="455.50" y="365.39" width="8.90" height="2.82" fill="#00a400"/><rect x="455.50" y="368.21" width="8.90" height="2.82" fill="#002a00"/><rect x="455.50" y="371.03" width="8.90" height="2.82" fill="#080808"/><rect x="455.50" y="373.85" width="8.90" height="2.82" fill="#800202"/><rect x="455.50" y="376.67" width="8.90" height="2.82" fill="#080808"/><rect x="455.50" y="379.50" width="8.90" height="11.29" fill="#007600"/><rect x="455.50" y="390.78" width="8.90" height="2.82" fill="#002a00"/><rect x="455.50" y="393.60" width="8.90" height="2.82" fill="#007600"/><rect x="455.50" y="396.42" width="8.90" height="2.82" fill="#080808"/><rect x="455.50" y="399.25" width="8.90" height="2.82" fill="#002a00"/><rect x="455.50" y="402.07" width="8.90" height="2.82" fill="#06e206"/><rect x="455.50" y="404.89" width="8.90" height="2.82" fill="#007600"/><rect x="455.50" y="407.71" width="8.90" height="8.46" fill="#002a00"/><rect x="455.50" y="416.17" width="8.90" height="2.82" fill="#080808"/><rect x="455.50" y="418.99" width="8.90" height="2.82" fill="#002a00"/><rect x="455.50" y="421.82" width="8.90" height="5.64" fill="#007600"/><rect x="455.50" y="427.46" width="8.90" height="8.46" fill="#002a00"/><rect x="455.50" y="435.92" width="8.90" height="2.82" fill="#080808"/><rect x="455.50" y="438.74" width="8.90" height="2.82" fill="#007600"/><rect x="455.50" y="441.57" width="8.90" height="2.82" fill="#002a00"/><rect x="455.50" y="444.39" width="8.90" height="2.82" fill="#007600"/><rect x="455.50" y="447.21" width="8.90" height="8.46" fill="#00a400"/><rect x="455.50" y="455.67" width="8.90" height="2.82" fill="#002a00"/><rect x="455.50" y="458.49" width="8.90" height="2.82" fill="#06e206"/><rect x="455.50" y="461.31" width="8.90" height="2.82" fill="#080808"/><rect x="455.50" y="464.14" width="8.90" height="5.64" fill="#06e206"/><rect x="455.50" y="469.78" width="8.90" height="2.82" fill="#00a400"/><rect x="455.50" y="472.60" width="8.90" height="2.82" fill="#800202"/><rect x="455.50" y="475.42" width="8.90" height="2.82" fill="#3e0202"/><rect x="455.50" y="478.24" width="8.90" height="2.82" fill="#800202"/><rect x="455.50" y="481.06" width="8.90" height="5.64" fill="#007600"/><rect x="455.50" y="486.71" width="8.90" height="2.82" fill="#004a00"/><rect x="455.50" y="489.53" width="8.90" height="8.46" fill="#007600"/><rect x="455.50" y="497.99" width="8.90" height="2.82" fill="#004a00"/><rect x="455.50" y="500.81" width="8.90" height="2.82" fill="#007600"/><rect x="455.50" y="503.63" width="8.90" height="2.82" fill="#002a00"/><rect x="455.50" y="506.46" width="8.90" height="5.64" fill="#007600"/><rect x="455.50" y="512.10" width="8.90" height="2.82" fill="#002a00"/><rect x="455.50" y="514.92" width="8.90" height="2.82" fill="#007600"/><rect x="455.50" y="517.74" width="8.90" height="2.82" fill="#00a400"/><rect x="455.50" y="520.56" width="8.90" height="2.82" fill="#080808"/><rect x="455.50" y="523.38" width="8.90" height="5.64" fill="#002a00"/><rect x="455.50" y="529.03" width="8.90" height="2.82" fill="#007600"/><rect x="455.50" y="531.85" width="8.90" height="2.82" fill="#080808"/><rect x="455.50" y="534.67" width="8.90" height="2.82" fill="#3e0202"/><rect x="455.50" y="537.49" width="8.90" height="2.82" fill="#00a400"/><rect x="455.50" y="540.31" width="8.90" height="2.82" fill="#007600"/><rect x="455.50" y="543.13" width="8.90" height="2.82" fill="#080808"/><rect x="455.50" y="545.95" width="8.90" height="16.93" fill="#007600"/><rect x="455.50" y="562.88" width="8.90" height="2.82" fill="#06e206"/><rect x="455.50" y="565.70" width="8.90" height="2.82" fill="#00a400"/><rect x="455.50" y="568.53" width="8.90" height="2.82" fill="#080808"/><rect x="455.50" y="571.35" width="8.90" height="2.82" fill="#3e0202"/><rect x="455.50" y="574.17" width="8.90" height="2.82" fill="#007600"/><rect x="455.50" y="576.99" width="8.90" height="2.82" fill="#3e0202"/><rect x="455.50" y="579.81" width="8.90" height="2.82" fill="#002a00"/><rect x="455.50" y="582.63" width="8.90" height="8.46" fill="#800202"/><rect x="455.50" y="591.10" width="8.90" height="2.82" fill="#007600"/><rect x="455.50" y="593.92" width="8.90" height="2.82" fill="#080808"/><rect x="455.50" y="596.74" width="8.90" height="2.82" fill="#3e0202"/><rect x="455.50" y="599.56" width="8.90" height="8.46" fill="#080808"/><rect x="455.50" y="608.02" width="8.90" height="2.82" fill="#800202"/><rect x="455.50" y="610.85" width="8.90" height="8.46" fill="#3e0202"/><rect x="455.50" y="619.31" width="8.90" height="2.82" fill="#080808"/><rect x="455.50" y="622.13" width="8.90" height="2.82" fill="#c80505"/><rect x="455.50" y="624.95" width="8.90" height="2.82" fill="#800202"/><rect x="455.50" y="627.77" width="8.90" height="2.82" fill="#3e0202"/><rect x="455.50" y="630.59" width="8.90" height="2.82" fill="#080808"/><rect x="455.50" y="633.42" width="8.90" height="5.64" fill="#800202"/><rect x="455.50" y="639.06" width="8.90" height="2.82" fill="#002a00"/><rect x="455.50" y="641.88" width="8.90" height="5.64" fill="#080808"/><rect x="455.50" y="647.52" width="8.90" height="2.82" fill="#c80505"/><rect x="455.50" y="650.34" width="8.90" height="2.82" fill="#3e0202"/><rect x="455.50" y="653.17" width="8.90" height="5.64" fill="#800202"/><rect x="455.50" y="658.81" width="8.90" height="2.82" fill="#c80505"/><rect x="455.50" y="661.63" width="8.90" height="2.82" fill="#080808"/><rect x="455.50" y="664.45" width="8.90" height="5.64" fill="#3e0202"/><rect x="455.50" y="670.09" width="8.90" height="5.64" fill="#007600"/><rect x="455.50" y="675.74" width="8.90" height="2.82" fill="#06e206"/><rect x="455.50" y="678.56" width="8.90" height="2.82" fill="#080808"/><rect x="455.50" y="681.38" width="8.90" height="2.82" fill="#002a00"/><rect x="464.40" y="49.40" width="8.90" height="2.82" fill="#007600"/><rect x="464.40" y="52.22" width="8.90" height="2.82" fill="#080808"/><rect x="464.40" y="55.04" width="8.90" height="8.46" fill="#007600"/><rect x="464.40" y="63.51" width="8.90" height="2.82" fill="#002a00"/><rect x="464.40" y="66.33" width="8.90" height="2.82" fill="#06e206"/><rect x="464.40" y="69.15" width="8.90" height="11.29" fill="#00a400"/><rect x="464.40" y="80.43" width="8.90" height="2.82" fill="#080808"/><rect x="464.40" y="83.26" width="8.90" height="5.64" fill="#002a00"/><rect x="464.40" y="88.90" width="8.90" height="2.82" fill="#800202"/><rect x="464.40" y="91.72" width="8.90" height="2.82" fill="#080808"/><rect x="464.40" y="94.54" width="8.90" height="2.82" fill="#3e0202"/><rect x="464.40" y="97.36" width="8.90" height="2.82" fill="#002a00"/><rect x="464.40" y="100.18" width="8.90" height="2.82" fill="#3e0202"/><rect x="464.40" y="103.01" width="8.90" height="5.64" fill="#080808"/><rect x="464.40" y="108.65" width="8.90" height="2.82" fill="#002a00"/><rect x="464.40" y="111.47" width="8.90" height="2.82" fill="#3e0202"/><rect x="464.40" y="114.29" width="8.90" height="2.82" fill="#080808"/><rect x="464.40" y="117.11" width="8.90" height="8.46" fill="#002a00"/><rect x="464.40" y="125.58" width="8.90" height="8.46" fill="#3e0202"/><rect x="464.40" y="134.04" width="8.90" height="8.46" fill="#080808"/><rect x="464.40" y="142.50" width="8.90" height="5.64" fill="#002a00"/><rect x="464.40" y="148.15" width="8.90" height="5.64" fill="#3e0202"/><rect x="464.40" y="153.79" width="8.90" height="2.82" fill="#002a00"/><rect x="464.40" y="156.61" width="8.90" height="8.46" fill="#3e0202"/><rect x="464.40" y="165.07" width="8.90" height="2.82" fill="#00a400"/><rect x="464.40" y="167.90" width="8.90" height="2.82" fill="#3e0202"/><rect x="464.40" y="170.72" width="8.90" height="8.46" fill="#800202"/><rect x="464.40" y="179.18" width="8.90" height="2.82" fill="#007600"/><rect x="464.40" y="182.00" width="8.90" height="2.82" fill="#3e0202"/><rect x="464.40" y="184.82" width="8.90" height="2.82" fill="#002a00"/><rect x="464.40" y="187.65" width="8.90" height="2.82" fill="#800202"/><rect x="464.40" y="190.47" width="8.90" height="2.82" fill="#3e0202"/><rect x="464.40" y="193.29" width="8.90" height="5.64" fill="#080808"/><rect x="464.40" y="198.93" width="8.90" height="2.82" fill="#3e0202"/><rect x="464.40" y="201.75" width="8.90" height="2.82" fill="#080808"/><rect x="464.40" y="204.57" width="8.90" height="5.64" fill="#3e0202"/><rect x="464.40" y="210.22" width="8.90" height="2.82" fill="#002a00"/><rect x="464.40" y="213.04" width="8.90" height="2.82" fill="#080808"/><rect x="464.40" y="215.86" width="8.90" height="2.82" fill="#3e0202"/><rect x="464.40" y="218.68" width="8.90" height="5.64" fill="#002a00"/><rect x="464.40" y="224.32" width="8.90" height="2.82" fill="#080808"/><rect x="464.40" y="227.14" width="8.90" height="11.29" fill="#3e0202"/><rect x="464.40" y="238.43" width="8.90" height="5.64" fill="#002a00"/><rect x="464.40" y="244.07" width="8.90" height="2.82" fill="#004a00"/><rect x="464.40" y="246.89" width="8.90" height="2.82" fill="#080808"/><rect x="464.40" y="249.71" width="8.90" height="2.82" fill="#002a00"/><rect x="464.40" y="252.54" width="8.90" height="2.82" fill="#3e0202"/><rect x="464.40" y="255.36" width="8.90" height="2.82" fill="#007600"/><rect x="464.40" y="258.18" width="8.90" height="5.64" fill="#080808"/><rect x="464.40" y="263.82" width="8.90" height="2.82" fill="#002a00"/><rect x="464.40" y="266.64" width="8.90" height="2.82" fill="#3e0202"/><rect x="464.40" y="269.46" width="8.90" height="2.82" fill="#002a00"/><rect x="464.40" y="272.29" width="8.90" height="2.82" fill="#3e0202"/><rect x="464.40" y="275.11" width="8.90" height="2.82" fill="#007600"/><rect x="464.40" y="277.93" width="8.90" height="5.64" fill="#002a00"/><rect x="464.40" y="283.57" width="8.90" height="2.82" fill="#080808"/><rect x="464.40" y="286.39" width="8.90" height="2.82" fill="#002a00"/><rect x="464.40" y="289.21" width="8.90" height="2.82" fill="#080808"/><rect x="464.40" y="292.03" width="8.90" height="5.64" fill="#004a00"/><rect x="464.40" y="297.68" width="8.90" height="2.82" fill="#080808"/><rect x="464.40" y="300.50" width="8.90" height="2.82" fill="#800202"/><rect x="464.40" y="303.32" width="8.90" height="2.82" fill="#3e0202"/><rect x="464.40" y="306.14" width="8.90" height="2.82" fill="#080808"/><rect x="464.40" y="308.96" width="8.90" height="2.82" fill="#002a00"/><rect x="464.40" y="311.78" width="8.90" height="2.82" fill="#00a400"/><rect x="464.40" y="314.61" width="8.90" height="5.64" fill="#007600"/><rect x="464.40" y="320.25" width="8.90" height="2.82" fill="#002a00"/><rect x="464.40" y="323.07" width="8.90" height="14.11" fill="#007600"/><rect x="464.40" y="337.18" width="8.90" height="2.82" fill="#06e206"/><rect x="464.40" y="340.00" width="8.90" height="2.82" fill="#00a400"/><rect x="464.40" y="342.82" width="8.90" height="2.82" fill="#007600"/><rect x="464.40" y="345.64" width="8.90" height="2.82" fill="#00a400"/><rect x="464.40" y="348.46" width="8.90" height="5.64" fill="#06e206"/><rect x="464.40" y="354.10" width="8.90" height="5.64" fill="#00a400"/><rect x="464.40" y="359.75" width="8.90" height="2.82" fill="#06e206"/><rect x="464.40" y="362.57" width="8.90" height="5.64" fill="#00a400"/><rect x="464.40" y="368.21" width="8.90" height="2.82" fill="#06e206"/><rect x="464.40" y="371.03" width="8.90" height="2.82" fill="#002a00"/><rect x="464.40" y="373.85" width="8.90" height="5.64" fill="#007600"/><rect x="464.40" y="379.50" width="8.90" height="2.82" fill="#00a400"/><rect x="464.40" y="382.32" width="8.90" height="8.46" fill="#007600"/><rect x="464.40" y="390.78" width="8.90" height="8.46" fill="#06e206"/><rect x="464.40" y="399.25" width="8.90" height="2.82" fill="#00a400"/><rect x="464.40" y="402.07" width="8.90" height="2.82" fill="#080808"/><rect x="464.40" y="404.89" width="8.90" height="5.64" fill="#007600"/><rect x="464.40" y="410.53" width="8.90" height="8.46" fill="#002a00"/><rect x="464.40" y="418.99" width="8.90" height="8.46" fill="#007600"/><rect x="464.40" y="427.46" width="8.90" height="2.82" fill="#080808"/><rect x="464.40" y="430.28" width="8.90" height="2.82" fill="#06e206"/><rect x="464.40" y="433.10" width="8.90" height="5.64" fill="#007600"/><rect x="464.40" y="438.74" width="8.90" height="2.82" fill="#06e206"/><rect x="464.40" y="441.57" width="8.90" height="5.64" fill="#002a00"/><rect x="464.40" y="447.21" width="8.90" height="2.82" fill="#00a400"/><rect x="464.40" y="450.03" width="8.90" height="5.64" fill="#06e206"/><rect x="464.40" y="455.67" width="8.90" height="2.82" fill="#00a400"/><rect x="464.40" y="458.49" width="8.90" height="2.82" fill="#06e206"/><rect x="464.40" y="461.31" width="8.90" height="2.82" fill="#080808"/><rect x="464.40" y="464.14" width="8.90" height="5.64" fill="#00a400"/><rect x="464.40" y="469.78" width="8.90" height="2.82" fill="#007600"/><rect x="464.40" y="472.60" width="8.90" height="5.64" fill="#00a400"/><rect x="464.40" y="478.24" width="8.90" height="5.64" fill="#007600"/><rect x="464.40" y="483.89" width="8.90" height="2.82" fill="#00a400"/><rect x="464.40" y="486.71" width="8.90" height="8.46" fill="#007600"/><rect x="464.40" y="495.17" width="8.90" height="2.82" fill="#002a00"/><rect x="464.40" y="497.99" width="8.90" height="5.64" fill="#007600"/><rect x="464.40" y="503.63" width="8.90" height="2.82" fill="#00a400"/><rect x="464.40" y="506.46" width="8.90" height="2.82" fill="#080808"/><rect x="464.40" y="509.28" width="8.90" height="2.82" fill="#00a400"/><rect x="464.40" y="512.10" width="8.90" height="2.82" fill="#007600"/><rect x="464.40" y="514.92" width="8.90" height="5.64" fill="#00a400"/><rect x="464.40" y="520.56" width="8.90" height="2.82" fill="#080808"/><rect x="464.40" y="523.38" width="8.90" height="5.64" fill="#007600"/><rect x="464.40" y="529.03" width="8.90" height="5.64" fill="#002a00"/><rect x="464.40" y="534.67" width="8.90" height="2.82" fill="#3e0202"/><rect x="464.40" y="537.49" width="8.90" height="2.82" fill="#007600"/><rect x="464.40" y="540.31" width="8.90" height="5.64" fill="#080808"/><rect x="464.40" y="545.95" width="8.90" height="2.82" fill="#00a400"/><rect x="464.40" y="548.78" width="8.90" height="2.82" fill="#007600"/><rect x="464.40" y="551.60" width="8.90" height="2.82" fill="#00a400"/><rect x="464.40" y="554.42" width="8.90" height="2.82" fill="#007600"/><rect x="464.40" y="557.24" width="8.90" height="5.64" fill="#002a00"/><rect x="464.40" y="562.88" width="8.90" height="2.82" fill="#007600"/><rect x="464.40" y="565.70" width="8.90" height="2.82" fill="#00a400"/><rect x="464.40" y="568.53" width="8.90" height="2.82" fill="#007600"/><rect x="464.40" y="571.35" width="8.90" height="2.82" fill="#3e0202"/><rect x="464.40" y="574.17" width="8.90" height="2.82" fill="#080808"/><rect x="464.40" y="576.99" width="8.90" height="5.64" fill="#002a00"/><rect x="464.40" y="582.63" width="8.90" height="2.82" fill="#3e0202"/><rect x="464.40" y="585.45" width="8.90" height="2.82" fill="#080808"/><rect x="464.40" y="588.27" width="8.90" height="2.82" fill="#002a00"/><rect x="464.40" y="591.10" width="8.90" height="2.82" fill="#080808"/><rect x="464.40" y="593.92" width="8.90" height="2.82" fill="#3e0202"/><rect x="464.40" y="596.74" width="8.90" height="2.82" fill="#080808"/><rect x="464.40" y="599.56" width="8.90" height="11.29" fill="#007600"/><rect x="464.40" y="610.85" width="8.90" height="2.82" fill="#002a00"/><rect x="464.40" y="613.67" width="8.90" height="2.82" fill="#00a400"/><rect x="464.40" y="616.49" width="8.90" height="2.82" fill="#3e0202"/><rect x="464.40" y="619.31" width="8.90" height="2.82" fill="#800202"/><rect x="464.40" y="622.13" width="8.90" height="2.82" fill="#3e0202"/><rect x="464.40" y="624.95" width="8.90" height="2.82" fill="#007600"/><rect x="464.40" y="627.77" width="8.90" height="2.82" fill="#002a00"/><rect x="464.40" y="630.59" width="8.90" height="2.82" fill="#3e0202"/><rect x="464.40" y="633.42" width="8.90" height="2.82" fill="#800202"/><rect x="464.40" y="636.24" width="8.90" height="2.82" fill="#080808"/><rect x="464.40" y="639.06" width="8.90" height="11.29" fill="#3e0202"/><rect x="464.40" y="650.34" width="8.90" height="8.46" fill="#800202"/><rect x="464.40" y="658.81" width="8.90" height="2.82" fill="#3e0202"/><rect x="464.40" y="661.63" width="8.90" height="2.82" fill="#080808"/><rect x="464.40" y="664.45" width="8.90" height="2.82" fill="#800202"/><rect x="464.40" y="667.27" width="8.90" height="2.82" fill="#3e0202"/><rect x="464.40" y="670.09" width="8.90" height="2.82" fill="#800202"/><rect x="464.40" y="672.91" width="8.90" height="2.82" fill="#3e0202"/><rect x="464.40" y="675.74" width="8.90" height="2.82" fill="#002a00"/><rect x="464.40" y="678.56" width="8.90" height="2.82" fill="#800202"/><rect x="464.40" y="681.38" width="8.90" height="2.82" fill="#080808"/><rect x="473.30" y="49.40" width="8.90" height="2.82" fill="#002a00"/><rect x="473.30" y="52.22" width="8.90" height="2.82" fill="#00a400"/><rect x="473.30" y="55.04" width="8.90" height="2.82" fill="#004a00"/><rect x="473.30" y="57.86" width="8.90" height="8.46" fill="#007600"/><rect x="473.30" y="66.33" width="8.90" height="2.82" fill="#004a00"/><rect x="473.30" y="69.15" width="8.90" height="2.82" fill="#080808"/><rect x="473.30" y="71.97" width="8.90" height="2.82" fill="#00a400"/><rect x="473.30" y="74.79" width="8.90" height="2.82" fill="#007600"/><rect x="473.30" y="77.61" width="8.90" height="2.82" fill="#3e0202"/><rect x="473.30" y="80.43" width="8.90" height="2.82" fill="#080808"/><rect x="473.30" y="83.26" width="8.90" height="5.64" fill="#3e0202"/><rect x="473.30" y="88.90" width="8.90" height="2.82" fill="#080808"/><rect x="473.30" y="91.72" width="8.90" height="8.46" fill="#3e0202"/><rect x="473.30" y="100.18" width="8.90" height="2.82" fill="#004a00"/><rect x="473.30" y="103.01" width="8.90" height="2.82" fill="#06e206"/><rect x="473.30" y="105.83" width="8.90" height="5.64" fill="#002a00"/><rect x="473.30" y="111.47" width="8.90" height="5.64" fill="#3e0202"/><rect x="473.30" y="117.11" width="8.90" height="8.46" fill="#080808"/><rect x="473.30" y="125.58" width="8.90" height="2.82" fill="#002a00"/><rect x="473.30" y="128.40" width="8.90" height="5.64" fill="#080808"/><rect x="473.30" y="134.04" width="8.90" height="5.64" fill="#3e0202"/><rect x="473.30" y="139.68" width="8.90" height="2.82" fill="#080808"/><rect x="473.30" y="142.50" width="8.90" height="2.82" fill="#3e0202"/><rect x="473.30" y="145.33" width="8.90" height="2.82" fill="#002a00"/><rect x="473.30" y="148.15" width="8.90" height="2.82" fill="#800202"/><rect x="473.30" y="150.97" width="8.90" height="5.64" fill="#3e0202"/><rect x="473.30" y="156.61" width="8.90" height="2.82" fill="#002a00"/><rect x="473.30" y="159.43" width="8.90" height="2.82" fill="#007600"/><rect x="473.30" y="162.25" width="8.90" height="8.46" fill="#3e0202"/><rect x="473.30" y="170.72" width="8.90" height="2.82" fill="#002a00"/><rect x="473.30" y="173.54" width="8.90" height="2.82" fill="#800202"/><rect x="473.30" y="176.36" width="8.90" height="2.82" fill="#3e0202"/><rect x="473.30" y="179.18" width="8.90" height="5.64" fill="#080808"/><rect x="473.30" y="184.82" width="8.90" height="5.64" fill="#3e0202"/><rect x="473.30" y="190.47" width="8.90" height="5.64" fill="#002a00"/><rect x="473.30" y="196.11" width="8.90" height="2.82" fill="#080808"/><rect x="473.30" y="198.93" width="8.90" height="5.64" fill="#004a00"/><rect x="473.30" y="204.57" width="8.90" height="2.82" fill="#080808"/><rect x="473.30" y="207.39" width="8.90" height="5.64" fill="#007600"/><rect x="473.30" y="213.04" width="8.90" height="5.64" fill="#004a00"/><rect x="473.30" y="218.68" width="8.90" height="14.11" fill="#002a00"/><rect x="473.30" y="232.79" width="8.90" height="2.82" fill="#080808"/><rect x="473.30" y="235.61" width="8.90" height="8.46" fill="#3e0202"/><rect x="473.30" y="244.07" width="8.90" height="2.82" fill="#004a00"/><rect x="473.30" y="246.89" width="8.90" height="8.46" fill="#007600"/><rect x="473.30" y="255.36" width="8.90" height="2.82" fill="#080808"/><rect x="473.30" y="258.18" width="8.90" height="2.82" fill="#004a00"/><rect x="473.30" y="261.00" width="8.90" height="2.82" fill="#002a00"/><rect x="473.30" y="263.82" width="8.90" height="2.82" fill="#06e206"/><rect x="473.30" y="266.64" width="8.90" height="5.64" fill="#002a00"/><rect x="473.30" y="272.29" width="8.90" height="2.82" fill="#3e0202"/><rect x="473.30" y="275.11" width="8.90" height="2.82" fill="#080808"/><rect x="473.30" y="277.93" width="8.90" height="8.46" fill="#002a00"/><rect x="473.30" y="286.39" width="8.90" height="2.82" fill="#007600"/><rect x="473.30" y="289.21" width="8.90" height="2.82" fill="#00a400"/><rect x="473.30" y="292.03" width="8.90" height="2.82" fill="#007600"/><rect x="473.30" y="294.86" width="8.90" height="2.82" fill="#06e206"/><rect x="473.30" y="297.68" width="8.90" height="5.64" fill="#080808"/><rect x="473.30" y="303.32" width="8.90" height="5.64" fill="#007600"/><rect x="473.30" y="308.96" width="8.90" height="2.82" fill="#002a00"/><rect x="473.30" y="311.78" width="8.90" height="2.82" fill="#080808"/><rect x="473.30" y="314.61" width="8.90" height="5.64" fill="#007600"/><rect x="473.30" y="320.25" width="8.90" height="2.82" fill="#002a00"/><rect x="473.30" y="323.07" width="8.90" height="8.46" fill="#007600"/><rect x="473.30" y="331.53" width="8.90" height="2.82" fill="#002a00"/><rect x="473.30" y="334.35" width="8.90" height="2.82" fill="#080808"/><rect x="473.30" y="337.18" width="8.90" height="2.82" fill="#007600"/><rect x="473.30" y="340.00" width="8.90" height="5.64" fill="#002a00"/><rect x="473.30" y="345.64" width="8.90" height="5.64" fill="#00a400"/><rect x="473.30" y="351.28" width="8.90" height="2.82" fill="#06e206"/><rect x="473.30" y="354.10" width="8.90" height="2.82" fill="#002a00"/><rect x="473.30" y="356.93" width="8.90" height="5.64" fill="#06e206"/><rect x="473.30" y="362.57" width="8.90" height="5.64" fill="#00a400"/><rect x="473.30" y="368.21" width="8.90" height="2.82" fill="#06e206"/><rect x="473.30" y="371.03" width="8.90" height="2.82" fill="#00a400"/><rect x="473.30" y="373.85" width="8.90" height="2.82" fill="#007600"/><rect x="473.30" y="376.67" width="8.90" height="2.82" fill="#002a00"/><rect x="473.30" y="379.50" width="8.90" height="11.29" fill="#007600"/><rect x="473.30" y="390.78" width="8.90" height="5.64" fill="#00a400"/><rect x="473.30" y="396.42" width="8.90" height="2.82" fill="#007600"/><rect x="473.30" y="399.25" width="8.90" height="2.82" fill="#06e206"/><rect x="473.30" y="402.07" width="8.90" height="5.64" fill="#00a400"/><rect x="473.30" y="407.71" width="8.90" height="2.82" fill="#06e206"/><rect x="473.30" y="410.53" width="8.90" height="2.82" fill="#007600"/><rect x="473.30" y="413.35" width="8.90" height="8.46" fill="#00a400"/><rect x="473.30" y="421.82" width="8.90" height="2.82" fill="#06e206"/><rect x="473.30" y="424.64" width="8.90" height="5.64" fill="#007600"/><rect x="473.30" y="430.28" width="8.90" height="2.82" fill="#080808"/><rect x="473.30" y="433.10" width="8.90" height="11.29" fill="#007600"/><rect x="473.30" y="444.39" width="8.90" height="2.82" fill="#002a00"/><rect x="473.30" y="447.21" width="8.90" height="2.82" fill="#007600"/><rect x="473.30" y="450.03" width="8.90" height="2.82" fill="#00a400"/><rect x="473.30" y="452.85" width="8.90" height="2.82" fill="#080808"/><rect x="473.30" y="455.67" width="8.90" height="8.46" fill="#00a400"/><rect x="473.30" y="464.14" width="8.90" height="2.82" fill="#007600"/><rect x="473.30" y="466.96" width="8.90" height="2.82" fill="#002a00"/><rect x="473.30" y="469.78" width="8.90" height="2.82" fill="#00a400"/><rect x="473.30" y="472.60" width="8.90" height="2.82" fill="#007600"/><rect x="473.30" y="475.42" width="8.90" height="5.64" fill="#00a400"/><rect x="473.30" y="481.06" width="8.90" height="2.82" fill="#002a00"/><rect x="473.30" y="483.89" width="8.90" height="8.46" fill="#007600"/><rect x="473.30" y="492.35" width="8.90" height="2.82" fill="#00a400"/><rect x="473.30" y="495.17" width="8.90" height="5.64" fill="#007600"/><rect x="473.30" y="500.81" width="8.90" height="2.82" fill="#06e206"/><rect x="473.30" y="503.63" width="8.90" height="14.11" fill="#00a400"/><rect x="473.30" y="517.74" width="8.90" height="5.64" fill="#007600"/><rect x="473.30" y="523.38" width="8.90" height="5.64" fill="#002a00"/><rect x="473.30" y="529.03" width="8.90" height="5.64" fill="#007600"/><rect x="473.30" y="534.67" width="8.90" height="2.82" fill="#3e0202"/><rect x="473.30" y="537.49" width="8.90" height="2.82" fill="#080808"/><rect x="473.30" y="540.31" width="8.90" height="5.64" fill="#3e0202"/><rect x="473.30" y="545.95" width="8.90" height="2.82" fill="#007600"/><rect x="473.30" y="548.78" width="8.90" height="2.82" fill="#00a400"/><rect x="473.30" y="551.60" width="8.90" height="5.64" fill="#007600"/><rect x="473.30" y="557.24" width="8.90" height="11.29" fill="#002a00"/><rect x="473.30" y="568.53" width="8.90" height="2.82" fill="#080808"/><rect x="473.30" y="571.35" width="8.90" height="5.64" fill="#007600"/><rect x="473.30" y="576.99" width="8.90" height="2.82" fill="#800202"/><rect x="473.30" y="579.81" width="8.90" height="2.82" fill="#080808"/><rect x="473.30" y="582.63" width="8.90" height="2.82" fill="#002a00"/><rect x="473.30" y="585.45" width="8.90" height="2.82" fill="#3e0202"/><rect x="473.30" y="588.27" width="8.90" height="2.82" fill="#007600"/><rect x="473.30" y="591.10" width="8.90" height="2.82" fill="#800202"/><rect x="473.30" y="593.92" width="8.90" height="2.82" fill="#080808"/><rect x="473.30" y="596.74" width="8.90" height="2.82" fill="#3e0202"/><rect x="473.30" y="599.56" width="8.90" height="8.46" fill="#002a00"/><rect x="473.30" y="608.02" width="8.90" height="2.82" fill="#3e0202"/><rect x="473.30" y="610.85" width="8.90" height="2.82" fill="#00a400"/><rect x="473.30" y="613.67" width="8.90" height="2.82" fill="#3e0202"/><rect x="473.30" y="616.49" width="8.90" height="2.82" fill="#080808"/><rect x="473.30" y="619.31" width="8.90" height="2.82" fill="#800202"/><rect x="473.30" y="622.13" width="8.90" height="2.82" fill="#3e0202"/><rect x="473.30" y="624.95" width="8.90" height="2.82" fill="#00a400"/><rect x="473.30" y="627.77" width="8.90" height="2.82" fill="#800202"/><rect x="473.30" y="630.59" width="8.90" height="2.82" fill="#3e0202"/><rect x="473.30" y="633.42" width="8.90" height="5.64" fill="#002a00"/><rect x="473.30" y="639.06" width="8.90" height="14.11" fill="#3e0202"/><rect x="473.30" y="653.17" width="8.90" height="2.82" fill="#800202"/><rect x="473.30" y="655.99" width="8.90" height="14.11" fill="#3e0202"/><rect x="473.30" y="670.09" width="8.90" height="2.82" fill="#080808"/><rect x="473.30" y="672.91" width="8.90" height="8.46" fill="#3e0202"/><rect x="473.30" y="681.38" width="8.90" height="2.82" fill="#002a00"/><rect x="482.20" y="49.40" width="8.90" height="5.64" fill="#007600"/><rect x="482.20" y="55.04" width="8.90" height="5.64" fill="#3e0202"/><rect x="482.20" y="60.69" width="8.90" height="2.82" fill="#080808"/><rect x="482.20" y="63.51" width="8.90" height="2.82" fill="#007600"/><rect x="482.20" y="66.33" width="8.90" height="2.82" fill="#002a00"/><rect x="482.20" y="69.15" width="8.90" height="2.82" fill="#3e0202"/><rect x="482.20" y="71.97" width="8.90" height="2.82" fill="#800202"/><rect x="482.20" y="74.79" width="8.90" height="2.82" fill="#3e0202"/><rect x="482.20" y="77.61" width="8.90" height="8.46" fill="#080808"/><rect x="482.20" y="86.08" width="8.90" height="11.29" fill="#3e0202"/><rect x="482.20" y="97.36" width="8.90" height="8.46" fill="#080808"/><rect x="482.20" y="105.83" width="8.90" height="2.82" fill="#007600"/><rect x="482.20" y="108.65" width="8.90" height="5.64" fill="#002a00"/><rect x="482.20" y="114.29" width="8.90" height="2.82" fill="#800202"/><rect x="482.20" y="117.11" width="8.90" height="5.64" fill="#080808"/><rect x="482.20" y="122.75" width="8.90" height="2.82" fill="#007600"/><rect x="482.20" y="125.58" width="8.90" height="5.64" fill="#080808"/><rect x="482.20" y="131.22" width="8.90" height="5.64" fill="#3e0202"/><rect x="482.20" y="136.86" width="8.90" height="2.82" fill="#007600"/><rect x="482.20" y="139.68" width="8.90" height="2.82" fill="#002a00"/><rect x="482.20" y="142.50" width="8.90" height="8.46" fill="#080808"/><rect x="482.20" y="150.97" width="8.90" height="5.64" fill="#3e0202"/><rect x="482.20" y="156.61" width="8.90" height="2.82" fill="#080808"/><rect x="482.20" y="159.43" width="8.90" height="8.46" fill="#800202"/><rect x="482.20" y="167.90" width="8.90" height="2.82" fill="#3e0202"/><rect x="482.20" y="170.72" width="8.90" height="8.46" fill="#800202"/><rect x="482.20" y="179.18" width="8.90" height="2.82" fill="#004a00"/><rect x="482.20" y="182.00" width="8.90" height="2.82" fill="#007600"/><rect x="482.20" y="184.82" width="8.90" height="2.82" fill="#00a400"/><rect x="482.20" y="187.65" width="8.90" height="2.82" fill="#007600"/><rect x="482.20" y="190.47" width="8.90" height="5.64" fill="#00a400"/><rect x="482.20" y="196.11" width="8.90" height="2.82" fill="#06e206"/><rect x="482.20" y="198.93" width="8.90" height="2.82" fill="#002a00"/><rect x="482.20" y="201.75" width="8.90" height="2.82" fill="#06e206"/><rect x="482.20" y="204.57" width="8.90" height="2.82" fill="#00a400"/><rect x="482.20" y="207.39" width="8.90" height="5.64" fill="#3e0202"/><rect x="482.20" y="213.04" width="8.90" height="2.82" fill="#080808"/><rect x="482.20" y="215.86" width="8.90" height="2.82" fill="#800202"/><rect x="482.20" y="218.68" width="8.90" height="2.82" fill="#002a00"/><rect x="482.20" y="221.50" width="8.90" height="2.82" fill="#080808"/><rect x="482.20" y="224.32" width="8.90" height="2.82" fill="#3e0202"/><rect x="482.20" y="227.14" width="8.90" height="8.46" fill="#080808"/><rect x="482.20" y="235.61" width="8.90" height="5.64" fill="#3e0202"/><rect x="482.20" y="241.25" width="8.90" height="2.82" fill="#080808"/><rect x="482.20" y="244.07" width="8.90" height="2.82" fill="#002a00"/><rect x="482.20" y="246.89" width="8.90" height="2.82" fill="#080808"/><rect x="482.20" y="249.71" width="8.90" height="8.46" fill="#002a00"/><rect x="482.20" y="258.18" width="8.90" height="8.46" fill="#080808"/><rect x="482.20" y="266.64" width="8.90" height="2.82" fill="#800202"/><rect x="482.20" y="269.46" width="8.90" height="2.82" fill="#002a00"/><rect x="482.20" y="272.29" width="8.90" height="2.82" fill="#3e0202"/><rect x="482.20" y="275.11" width="8.90" height="2.82" fill="#002a00"/><rect x="482.20" y="277.93" width="8.90" height="2.82" fill="#007600"/><rect x="482.20" y="280.75" width="8.90" height="2.82" fill="#002a00"/><rect x="482.20" y="283.57" width="8.90" height="2.82" fill="#080808"/><rect x="482.20" y="286.39" width="8.90" height="2.82" fill="#3e0202"/><rect x="482.20" y="289.21" width="8.90" height="2.82" fill="#06e206"/><rect x="482.20" y="292.03" width="8.90" height="2.82" fill="#00a400"/><rect x="482.20" y="294.86" width="8.90" height="5.64" fill="#06e206"/><rect x="482.20" y="300.50" width="8.90" height="5.64" fill="#007600"/><rect x="482.20" y="306.14" width="8.90" height="2.82" fill="#06e206"/><rect x="482.20" y="308.96" width="8.90" height="19.75" fill="#007600"/><rect x="482.20" y="328.71" width="8.90" height="2.82" fill="#00a400"/><rect x="482.20" y="331.53" width="8.90" height="5.64" fill="#007600"/><rect x="482.20" y="337.18" width="8.90" height="2.82" fill="#00a400"/><rect x="482.20" y="340.00" width="8.90" height="5.64" fill="#007600"/><rect x="482.20" y="345.64" width="8.90" height="8.46" fill="#06e206"/><rect x="482.20" y="354.10" width="8.90" height="2.82" fill="#080808"/><rect x="482.20" y="356.93" width="8.90" height="2.82" fill="#00a400"/><rect x="482.20" y="359.75" width="8.90" height="2.82" fill="#080808"/><rect x="482.20" y="362.57" width="8.90" height="2.82" fill="#00a400"/><rect x="482.20" y="365.39" width="8.90" height="2.82" fill="#007600"/><rect x="482.20" y="368.21" width="8.90" height="2.82" fill="#00a400"/><rect x="482.20" y="371.03" width="8.90" height="5.64" fill="#007600"/><rect x="482.20" y="376.67" width="8.90" height="2.82" fill="#080808"/><rect x="482.20" y="379.50" width="8.90" height="2.82" fill="#007600"/><rect x="482.20" y="382.32" width="8.90" height="2.82" fill="#002a00"/><rect x="482.20" y="385.14" width="8.90" height="5.64" fill="#080808"/><rect x="482.20" y="390.78" width="8.90" height="2.82" fill="#3e0202"/><rect x="482.20" y="393.60" width="8.90" height="8.46" fill="#007600"/><rect x="482.20" y="402.07" width="8.90" height="2.82" fill="#00a400"/><rect x="482.20" y="404.89" width="8.90" height="5.64" fill="#06e206"/><rect x="482.20" y="410.53" width="8.90" height="11.29" fill="#007600"/><rect x="482.20" y="421.82" width="8.90" height="2.82" fill="#00a400"/><rect x="482.20" y="424.64" width="8.90" height="5.64" fill="#007600"/><rect x="482.20" y="430.28" width="8.90" height="2.82" fill="#002a00"/><rect x="482.20" y="433.10" width="8.90" height="2.82" fill="#007600"/><rect x="482.20" y="435.92" width="8.90" height="2.82" fill="#00a400"/><rect x="482.20" y="438.74" width="8.90" height="2.82" fill="#080808"/><rect x="482.20" y="441.57" width="8.90" height="5.64" fill="#002a00"/><rect x="482.20" y="447.21" width="8.90" height="2.82" fill="#007600"/><rect x="482.20" y="450.03" width="8.90" height="2.82" fill="#06e206"/><rect x="482.20" y="452.85" width="8.90" height="2.82" fill="#00a400"/><rect x="482.20" y="455.67" width="8.90" height="2.82" fill="#007600"/><rect x="482.20" y="458.49" width="8.90" height="11.29" fill="#06e206"/><rect x="482.20" y="469.78" width="8.90" height="2.82" fill="#00a400"/><rect x="482.20" y="472.60" width="8.90" height="5.64" fill="#06e206"/><rect x="482.20" y="478.24" width="8.90" height="2.82" fill="#00a400"/><rect x="482.20" y="481.06" width="8.90" height="5.64" fill="#06e206"/><rect x="482.20" y="486.71" width="8.90" height="5.64" fill="#007600"/><rect x="482.20" y="492.35" width="8.90" height="8.46" fill="#00a400"/><rect x="482.20" y="500.81" width="8.90" height="2.82" fill="#007600"/><rect x="482.20" y="503.63" width="8.90" height="2.82" fill="#080808"/><rect x="482.20" y="506.46" width="8.90" height="5.64" fill="#007600"/><rect x="482.20" y="512.10" width="8.90" height="8.46" fill="#004a00"/><rect x="482.20" y="520.56" width="8.90" height="2.82" fill="#007600"/><rect x="482.20" y="523.38" width="8.90" height="2.82" fill="#002a00"/><rect x="482.20" y="526.21" width="8.90" height="19.75" fill="#007600"/><rect x="482.20" y="545.95" width="8.90" height="5.64" fill="#06e206"/><rect x="482.20" y="551.60" width="8.90" height="2.82" fill="#007600"/><rect x="482.20" y="554.42" width="8.90" height="8.46" fill="#06e206"/><rect x="482.20" y="562.88" width="8.90" height="5.64" fill="#007600"/><rect x="482.20" y="568.53" width="8.90" height="2.82" fill="#00a400"/><rect x="482.20" y="571.35" width="8.90" height="2.82" fill="#3e0202"/><rect x="482.20" y="574.17" width="8.90" height="2.82" fill="#002a00"/><rect x="482.20" y="576.99" width="8.90" height="2.82" fill="#00a400"/><rect x="482.20" y="579.81" width="8.90" height="2.82" fill="#002a00"/><rect x="482.20" y="582.63" width="8.90" height="2.82" fill="#007600"/><rect x="482.20" y="585.45" width="8.90" height="2.82" fill="#800202"/><rect x="482.20" y="588.27" width="8.90" height="2.82" fill="#3e0202"/><rect x="482.20" y="591.10" width="8.90" height="5.64" fill="#002a00"/><rect x="482.20" y="596.74" width="8.90" height="2.82" fill="#080808"/><rect x="482.20" y="599.56" width="8.90" height="14.11" fill="#00a400"/><rect x="482.20" y="613.67" width="8.90" height="2.82" fill="#080808"/><rect x="482.20" y="616.49" width="8.90" height="2.82" fill="#3e0202"/><rect x="482.20" y="619.31" width="8.90" height="2.82" fill="#002a00"/><rect x="482.20" y="622.13" width="8.90" height="8.46" fill="#800202"/><rect x="482.20" y="630.59" width="8.90" height="2.82" fill="#c80505"/><rect x="482.20" y="633.42" width="8.90" height="2.82" fill="#800202"/><rect x="482.20" y="636.24" width="8.90" height="2.82" fill="#3e0202"/><rect x="482.20" y="639.06" width="8.90" height="2.82" fill="#800202"/><rect x="482.20" y="641.88" width="8.90" height="2.82" fill="#3e0202"/><rect x="482.20" y="644.70" width="8.90" height="2.82" fill="#800202"/><rect x="482.20" y="647.52" width="8.90" height="2.82" fill="#080808"/><rect x="482.20" y="650.34" width="8.90" height="2.82" fill="#3e0202"/><rect x="482.20" y="653.17" width="8.90" height="14.11" fill="#800202"/><rect x="482.20" y="667.27" width="8.90" height="5.64" fill="#3e0202"/><rect x="482.20" y="672.91" width="8.90" height="2.82" fill="#080808"/><rect x="482.20" y="675.74" width="8.90" height="2.82" fill="#007600"/><rect x="482.20" y="678.56" width="8.90" height="2.82" fill="#080808"/><rect x="482.20" y="681.38" width="8.90" height="2.82" fill="#800202"/><rect x="491.10" y="49.40" width="8.90" height="14.11" fill="#3e0202"/><rect x="491.10" y="63.51" width="8.90" height="2.82" fill="#080808"/><rect x="491.10" y="66.33" width="8.90" height="5.64" fill="#004a00"/><rect x="491.10" y="71.97" width="8.90" height="2.82" fill="#800202"/><rect x="491.10" y="74.79" width="8.90" height="2.82" fill="#004a00"/><rect x="491.10" y="77.61" width="8.90" height="2.82" fill="#06e206"/><rect x="491.10" y="80.43" width="8.90" height="2.82" fill="#00a400"/><rect x="491.10" y="83.26" width="8.90" height="8.46" fill="#007600"/><rect x="491.10" y="91.72" width="8.90" height="2.82" fill="#080808"/><rect x="491.10" y="94.54" width="8.90" height="2.82" fill="#002a00"/><rect x="491.10" y="97.36" width="8.90" height="2.82" fill="#007600"/><rect x="491.10" y="100.18" width="8.90" height="5.64" fill="#06e206"/><rect x="491.10" y="105.83" width="8.90" height="2.82" fill="#00a400"/><rect x="491.10" y="108.65" width="8.90" height="5.64" fill="#06e206"/><rect x="491.10" y="114.29" width="8.90" height="2.82" fill="#00a400"/><rect x="491.10" y="117.11" width="8.90" height="2.82" fill="#06e206"/><rect x="491.10" y="119.93" width="8.90" height="5.64" fill="#007600"/><rect x="491.10" y="125.58" width="8.90" height="5.64" fill="#3e0202"/><rect x="491.10" y="131.22" width="8.90" height="8.46" fill="#080808"/><rect x="491.10" y="139.68" width="8.90" height="5.64" fill="#3e0202"/><rect x="491.10" y="145.33" width="8.90" height="2.82" fill="#800202"/><rect x="491.10" y="148.15" width="8.90" height="5.64" fill="#3e0202"/><rect x="491.10" y="153.79" width="8.90" height="2.82" fill="#002a00"/><rect x="491.10" y="156.61" width="8.90" height="2.82" fill="#3e0202"/><rect x="491.10" y="159.43" width="8.90" height="2.82" fill="#080808"/><rect x="491.10" y="162.25" width="8.90" height="5.64" fill="#00a400"/><rect x="491.10" y="167.90" width="8.90" height="2.82" fill="#080808"/><rect x="491.10" y="170.72" width="8.90" height="2.82" fill="#002a00"/><rect x="491.10" y="173.54" width="8.90" height="2.82" fill="#080808"/><rect x="491.10" y="176.36" width="8.90" height="2.82" fill="#06e206"/><rect x="491.10" y="179.18" width="8.90" height="8.46" fill="#00a400"/><rect x="491.10" y="187.65" width="8.90" height="2.82" fill="#06e206"/><rect x="491.10" y="190.47" width="8.90" height="2.82" fill="#00a400"/><rect x="491.10" y="193.29" width="8.90" height="5.64" fill="#080808"/><rect x="491.10" y="198.93" width="8.90" height="2.82" fill="#00a400"/><rect x="491.10" y="201.75" width="8.90" height="2.82" fill="#004a00"/><rect x="491.10" y="204.57" width="8.90" height="2.82" fill="#00a400"/><rect x="491.10" y="207.39" width="8.90" height="2.82" fill="#3e0202"/><rect x="491.10" y="210.22" width="8.90" height="8.46" fill="#002a00"/><rect x="491.10" y="218.68" width="8.90" height="5.64" fill="#004a00"/><rect x="491.10" y="224.32" width="8.90" height="2.82" fill="#002a00"/><rect x="491.10" y="227.14" width="8.90" height="2.82" fill="#004a00"/><rect x="491.10" y="229.97" width="8.90" height="5.64" fill="#002a00"/><rect x="491.10" y="235.61" width="8.90" height="2.82" fill="#00a400"/><rect x="491.10" y="238.43" width="8.90" height="14.11" fill="#007600"/><rect x="491.10" y="252.54" width="8.90" height="2.82" fill="#004a00"/><rect x="491.10" y="255.36" width="8.90" height="2.82" fill="#002a00"/><rect x="491.10" y="258.18" width="8.90" height="5.64" fill="#080808"/><rect x="491.10" y="263.82" width="8.90" height="2.82" fill="#004a00"/><rect x="491.10" y="266.64" width="8.90" height="2.82" fill="#007600"/><rect x="491.10" y="269.46" width="8.90" height="2.82" fill="#080808"/><rect x="491.10" y="272.29" width="8.90" height="14.11" fill="#007600"/><rect x="491.10" y="286.39" width="8.90" height="25.39" fill="#00a400"/><rect x="491.10" y="311.78" width="8.90" height="5.64" fill="#007600"/><rect x="491.10" y="317.43" width="8.90" height="5.64" fill="#002a00"/><rect x="491.10" y="323.07" width="8.90" height="5.64" fill="#007600"/><rect x="491.10" y="328.71" width="8.90" height="2.82" fill="#00a400"/><rect x="491.10" y="331.53" width="8.90" height="2.82" fill="#080808"/><rect x="491.10" y="334.35" width="8.90" height="5.64" fill="#002a00"/><rect x="491.10" y="340.00" width="8.90" height="5.64" fill="#007600"/><rect x="491.10" y="345.64" width="8.90" height="19.75" fill="#00a400"/><rect x="491.10" y="365.39" width="8.90" height="2.82" fill="#007600"/><rect x="491.10" y="368.21" width="8.90" height="2.82" fill="#00a400"/><rect x="491.10" y="371.03" width="8.90" height="2.82" fill="#007600"/><rect x="491.10" y="373.85" width="8.90" height="2.82" fill="#00a400"/><rect x="491.10" y="376.67" width="8.90" height="2.82" fill="#007600"/><rect x="491.10" y="379.50" width="8.90" height="5.64" fill="#00a400"/><rect x="491.10" y="385.14" width="8.90" height="11.29" fill="#06e206"/><rect x="491.10" y="396.42" width="8.90" height="2.82" fill="#00a400"/><rect x="491.10" y="399.25" width="8.90" height="5.64" fill="#080808"/><rect x="491.10" y="404.89" width="8.90" height="2.82" fill="#002a00"/><rect x="491.10" y="407.71" width="8.90" height="2.82" fill="#007600"/><rect x="491.10" y="410.53" width="8.90" height="2.82" fill="#002a00"/><rect x="491.10" y="413.35" width="8.90" height="2.82" fill="#00a400"/><rect x="491.10" y="416.17" width="8.90" height="2.82" fill="#002a00"/><rect x="491.10" y="418.99" width="8.90" height="2.82" fill="#3e0202"/><rect x="491.10" y="421.82" width="8.90" height="2.82" fill="#007600"/><rect x="491.10" y="424.64" width="8.90" height="2.82" fill="#080808"/><rect x="491.10" y="427.46" width="8.90" height="2.82" fill="#002a00"/><rect x="491.10" y="430.28" width="8.90" height="2.82" fill="#06e206"/><rect x="491.10" y="433.10" width="8.90" height="2.82" fill="#00a400"/><rect x="491.10" y="435.92" width="8.90" height="2.82" fill="#007600"/><rect x="491.10" y="438.74" width="8.90" height="2.82" fill="#002a00"/><rect x="491.10" y="441.57" width="8.90" height="8.46" fill="#007600"/><rect x="491.10" y="450.03" width="8.90" height="2.82" fill="#080808"/><rect x="491.10" y="452.85" width="8.90" height="19.75" fill="#00a400"/><rect x="491.10" y="472.60" width="8.90" height="2.82" fill="#007600"/><rect x="491.10" y="475.42" width="8.90" height="2.82" fill="#00a400"/><rect x="491.10" y="478.24" width="8.90" height="8.46" fill="#007600"/><rect x="491.10" y="486.71" width="8.90" height="5.64" fill="#004a00"/><rect x="491.10" y="492.35" width="8.90" height="2.82" fill="#007600"/><rect x="491.10" y="495.17" width="8.90" height="2.82" fill="#080808"/><rect x="491.10" y="497.99" width="8.90" height="2.82" fill="#007600"/><rect x="491.10" y="500.81" width="8.90" height="5.64" fill="#002a00"/><rect x="491.10" y="506.46" width="8.90" height="2.82" fill="#007600"/><rect x="491.10" y="509.28" width="8.90" height="5.64" fill="#00a400"/><rect x="491.10" y="514.92" width="8.90" height="2.82" fill="#002a00"/><rect x="491.10" y="517.74" width="8.90" height="2.82" fill="#00a400"/><rect x="491.10" y="520.56" width="8.90" height="2.82" fill="#007600"/><rect x="491.10" y="523.38" width="8.90" height="2.82" fill="#002a00"/><rect x="491.10" y="526.21" width="8.90" height="2.82" fill="#007600"/><rect x="491.10" y="529.03" width="8.90" height="5.64" fill="#080808"/><rect x="491.10" y="534.67" width="8.90" height="11.29" fill="#007600"/><rect x="491.10" y="545.95" width="8.90" height="5.64" fill="#080808"/><rect x="491.10" y="551.60" width="8.90" height="2.82" fill="#007600"/><rect x="491.10" y="554.42" width="8.90" height="2.82" fill="#002a00"/><rect x="491.10" y="557.24" width="8.90" height="2.82" fill="#00a400"/><rect x="491.10" y="560.06" width="8.90" height="2.82" fill="#007600"/><rect x="491.10" y="562.88" width="8.90" height="8.46" fill="#002a00"/><rect x="491.10" y="571.35" width="8.90" height="5.64" fill="#3e0202"/><rect x="491.10" y="576.99" width="8.90" height="2.82" fill="#080808"/><rect x="491.10" y="579.81" width="8.90" height="2.82" fill="#007600"/><rect x="491.10" y="582.63" width="8.90" height="2.82" fill="#3e0202"/><rect x="491.10" y="585.45" width="8.90" height="2.82" fill="#c80505"/><rect x="491.10" y="588.27" width="8.90" height="8.46" fill="#3e0202"/><rect x="491.10" y="596.74" width="8.90" height="5.64" fill="#080808"/><rect x="491.10" y="602.38" width="8.90" height="2.82" fill="#002a00"/><rect x="491.10" y="605.20" width="8.90" height="2.82" fill="#080808"/><rect x="491.10" y="608.02" width="8.90" height="2.82" fill="#007600"/><rect x="491.10" y="610.85" width="8.90" height="5.64" fill="#3e0202"/><rect x="491.10" y="616.49" width="8.90" height="2.82" fill="#080808"/><rect x="491.10" y="619.31" width="8.90" height="2.82" fill="#3e0202"/><rect x="491.10" y="622.13" width="8.90" height="5.64" fill="#002a00"/><rect x="491.10" y="627.77" width="8.90" height="2.82" fill="#3e0202"/><rect x="491.10" y="630.59" width="8.90" height="2.82" fill="#800202"/><rect x="491.10" y="633.42" width="8.90" height="8.46" fill="#3e0202"/><rect x="491.10" y="641.88" width="8.90" height="2.82" fill="#002a00"/><rect x="491.10" y="644.70" width="8.90" height="2.82" fill="#3e0202"/><rect x="491.10" y="647.52" width="8.90" height="2.82" fill="#002a00"/><rect x="491.10" y="650.34" width="8.90" height="11.29" fill="#3e0202"/><rect x="491.10" y="661.63" width="8.90" height="2.82" fill="#080808"/><rect x="491.10" y="664.45" width="8.90" height="5.64" fill="#3e0202"/><rect x="491.10" y="670.09" width="8.90" height="2.82" fill="#080808"/><rect x="491.10" y="672.91" width="8.90" height="5.64" fill="#3e0202"/><rect x="491.10" y="678.56" width="8.90" height="2.82" fill="#00a400"/><rect x="491.10" y="681.38" width="8.90" height="2.82" fill="#080808"/></g>
<path d="M384.3,52.22H500.00M384.3,55.04H500.00M384.3,57.86H500.00M384.3,60.69H500.00M384.3,63.51H500.00M384.3,66.33H500.00M384.3,69.15H500.00M384.3,71.97H500.00M384.3,74.79H500.00M384.3,77.61H500.00M384.3,80.43H500.00M384.3,83.26H500.00M384.3,86.08H500.00M384.3,88.90H500.00M384.3,91.72H500.00M384.3,94.54H500.00M384.3,97.36H500.00M384.3,100.18H500.00M384.3,103.01H500.00M384.3,105.83H500.00M384.3,108.65H500.00M384.3,111.47H500.00M384.3,114.29H500.00M384.3,117.11H500.00M384.3,119.93H500.00M384.3,122.75H500.00M384.3,125.58H500.00M384.3,128.40H500.00M384.3,131.22H500.00M384.3,134.04H500.00M384.3,136.86H500.00M384.3,139.68H500.00M384.3,142.50H500.00M384.3,145.33H500.00M384.3,148.15H500.00M384.3,150.97H500.00M384.3,153.79H500.00M384.3,156.61H500.00M384.3,159.43H500.00M384.3,162.25H500.00M384.3,165.07H500.00M384.3,167.90H500.00M384.3,170.72H500.00M384.3,173.54H500.00M384.3,176.36H500.00M384.3,179.18H500.00M384.3,182.00H500.00M384.3,184.82H500.00M384.3,187.65H500.00M384.3,190.47H500.00M384.3,193.29H500.00M384.3,196.11H500.00M384.3,198.93H500.00M384.3,201.75H500.00M384.3,204.57H500.00M384.3,207.39H500.00M384.3,210.22H500.00M384.3,213.04H500.00M384.3,215.86H500.00M384.3,218.68H500.00M384.3,221.50H500.00M384.3,224.32H500.00M384.3,227.14H500.00M384.3,229.97H500.00M384.3,232.79H500.00M384.3,235.61H500.00M384.3,238.43H500.00M384.3,241.25H500.00M384.3,244.07H500.00M384.3,246.89H500.00M384.3,249.71H500.00M384.3,252.54H500.00M384.3,255.36H500.00M384.3,258.18H500.00M384.3,261.00H500.00M384.3,263.82H500.00M384.3,266.64H500.00M384.3,269.46H500.00M384.3,272.29H500.00M384.3,275.11H500.00M384.3,277.93H500.00M384.3,280.75H500.00M384.3,283.57H500.00M384.3,286.39H500.00M384.3,289.21H500.00M384.3,292.03H500.00M384.3,294.86H500.00M384.3,297.68H500.00M384.3,300.50H500.00M384.3,303.32H500.00M384.3,306.14H500.00M384.3,308.96H500.00M384.3,311.78H500.00M384.3,314.61H500.00M384.3,317.43H500.00M384.3,320.25H500.00M384.3,323.07H500.00M384.3,325.89H500.00M384.3,328.71H500.00M384.3,331.53H500.00M384.3,334.35H500.00M384.3,337.18H500.00M384.3,340.00H500.00M384.3,342.82H500.00M384.3,345.64H500.00M384.3,348.46H500.00M384.3,351.28H500.00M384.3,354.10H500.00M384.3,356.93H500.00M384.3,359.75H500.00M384.3,362.57H500.00M384.3,365.39H500.00M384.3,368.21H500.00M384.3,371.03H500.00M384.3,373.85H500.00M384.3,376.67H500.00M384.3,379.50H500.00M384.3,382.32H500.00M384.3,385.14H500.00M384.3,387.96H500.00M384.3,390.78H500.00M384.3,393.60H500.00M384.3,396.42H500.00M384.3,399.25H500.00M384.3,402.07H500.00M384.3,404.89H500.00M384.3,407.71H500.00M384.3,410.53H500.00M384.3,413.35H500.00M384.3,416.17H500.00M384.3,418.99H500.00M384.3,421.82H500.00M384.3,424.64H500.00M384.3,427.46H500.00M384.3,430.28H500.00M384.3,433.10H500.00M384.3,435.92H500.00M384.3,438.74H500.00M384.3,441.57H500.00M384.3,444.39H500.00M384.3,447.21H500.00M384.3,450.03H500.00M384.3,452.85H500.00M384.3,455.67H500.00M384.3,458.49H500.00M384.3,461.31H500.00M384.3,464.14H500.00M384.3,466.96H500.00M384.3,469.78H500.00M384.3,472.60H500.00M384.3,475.42H500.00M384.3,478.24H500.00M384.3,481.06H500.00M384.3,483.89H500.00M384.3,486.71H500.00M384.3,489.53H500.00M384.3,492.35H500.00M384.3,495.17H500.00M384.3,497.99H500.00M384.3,500.81H500.00M384.3,503.63H500.00M384.3,506.46H500.00M384.3,509.28H500.00M384.3,512.10H500.00M384.3,514.92H500.00M384.3,517.74H500.00M384.3,520.56H500.00M384.3,523.38H500.00M384.3,526.21H500.00M384.3,529.03H500.00M384.3,531.85H500.00M384.3,534.67H500.00M384.3,537.49H500.00M384.3,540.31H500.00M384.3,543.13H500.00M384.3,545.95H500.00M384.3,548.78H500.00M384.3,551.60H500.00M384.3,554.42H500.00M384.3,557.24H500.00M384.3,560.06H500.00M384.3,562.88H500.00M384.3,565.70H500.00M384.3,568.53H500.00M384.3,571.35H500.00M384.3,574.17H500.00M384.3,576.99H500.00M384.3,579.81H500.00M384.3,582.63H500.00M384.3,585.45H500.00M384.3,588.27H500.00M384.3,591.10H500.00M384.3,593.92H500.00M384.3,596.74H500.00M384.3,599.56H500.00M384.3,602.38H500.00M384.3,605.20H500.00M384.3,608.02H500.00M384.3,610.85H500.00M384.3,613.67H500.00M384.3,616.49H500.00M384.3,619.31H500.00M384.3,622.13H500.00M384.3,624.95H500.00M384.3,627.77H500.00M384.3,630.59H500.00M384.3,633.42H500.00M384.3,636.24H500.00M384.3,639.06H500.00M384.3,641.88H500.00M384.3,644.70H500.00M384.3,647.52H500.00M384.3,650.34H500.00M384.3,653.17H500.00M384.3,655.99H500.00M384.3,658.81H500.00M384.3,661.63H500.00M384.3,664.45H500.00M384.3,667.27H500.00M384.3,670.09H500.00M384.3,672.91H500.00M384.3,675.74H500.00M384.3,678.56H500.00M384.3,681.38H500.00M393.20,49.4V684.2M402.10,49.4V684.2M411.00,49.4V684.2M419.90,49.4V684.2M428.80,49.4V684.2M437.70,49.4V684.2M446.60,49.4V684.2M455.50,49.4V684.2M464.40,49.4V684.2M473.30,49.4V684.2M482.20,49.4V684.2M491.10,49.4V684.2" stroke="#7a7a7a" stroke-width="0.25" opacity="0.35"/>
<path d="M500.8,50.81h2.5M500.8,53.63h4.5M500.8,56.45h6.5M500.8,59.27h3.5M500.8,62.10h5.5M500.8,64.92h2.5M500.8,67.74h4.5M500.8,70.56h6.5M500.8,73.38h3.5M500.8,76.20h5.5M500.8,79.02h2.5M500.8,81.85h4.5M500.8,84.67h6.5M500.8,87.49h3.5M500.8,90.31h5.5M500.8,93.13h2.5M500.8,95.95h4.5M500.8,98.77h6.5M500.8,101.59h3.5M500.8,104.42h5.5M500.8,107.24h2.5M500.8,110.06h4.5M500.8,112.88h6.5M500.8,115.70h3.5M500.8,118.52h5.5M500.8,121.34h2.5M500.8,124.17h4.5M500.8,126.99h6.5M500.8,129.81h3.5M500.8,132.63h5.5M500.8,135.45h2.5M500.8,138.27h4.5M500.8,141.09h6.5M500.8,143.91h3.5M500.8,146.74h5.5M500.8,149.56h2.5M500.8,152.38h4.5M500.8,155.20h6.5M500.8,158.02h3.5M500.8,160.84h5.5M500.8,163.66h2.5M500.8,166.49h4.5M500.8,169.31h6.5M500.8,172.13h3.5M500.8,174.95h5.5M500.8,177.77h2.5M500.8,180.59h4.5M500.8,183.41h6.5M500.8,186.23h3.5M500.8,189.06h5.5M500.8,191.88h2.5M500.8,194.70h4.5M500.8,197.52h6.5M500.8,200.34h3.5M500.8,203.16h5.5M500.8,205.98h2.5M500.8,208.81h4.5M500.8,211.63h6.5M500.8,214.45h3.5M500.8,217.27h5.5M500.8,220.09h2.5M500.8,222.91h4.5M500.8,225.73h6.5M500.8,228.55h3.5M500.8,231.38h5.5M500.8,234.20h2.5M500.8,237.02h4.5M500.8,239.84h6.5M500.8,242.66h3.5M500.8,245.48h5.5M500.8,248.30h2.5M500.8,251.13h4.5M500.8,253.95h6.5M500.8,256.77h3.5M500.8,259.59h5.5M500.8,262.41h2.5M500.8,265.23h4.5M500.8,268.05h6.5M500.8,270.87h3.5M500.8,273.70h5.5M500.8,276.52h2.5M500.8,279.34h4.5M500.8,282.16h6.5M500.8,284.98h3.5M500.8,287.80h5.5M500.8,290.62h2.5M500.8,293.45h4.5M500.8,296.27h6.5M500.8,299.09h3.5M500.8,301.91h5.5M500.8,304.73h2.5M500.8,307.55h4.5M500.8,310.37h6.5M500.8,313.19h3.5M500.8,316.02h5.5M500.8,318.84h2.5M500.8,321.66h4.5M500.8,324.48h6.5M500.8,327.30h3.5M500.8,330.12h5.5M500.8,332.94h2.5M500.8,335.77h4.5M500.8,338.59h6.5M500.8,341.41h3.5M500.8,344.23h5.5M500.8,347.05h2.5M500.8,349.87h4.5M500.8,352.69h6.5M500.8,355.51h3.5M500.8,358.34h5.5M500.8,361.16h2.5M500.8,363.98h4.5M500.8,366.80h6.5M500.8,369.62h3.5M500.8,372.44h5.5M500.8,375.26h2.5M500.8,378.09h4.5M500.8,380.91h6.5M500.8,383.73h3.5M500.8,386.55h5.5M500.8,389.37h2.5M500.8,392.19h4.5M500.8,395.01h6.5M500.8,397.83h3.5M500.8,400.66h5.5M500.8,403.48h2.5M500.8,406.30h4.5M500.8,409.12h6.5M500.8,411.94h3.5M500.8,414.76h5.5M500.8,417.58h2.5M500.8,420.41h4.5M500.8,423.23h6.5M500.8,426.05h3.5M500.8,428.87h5.5M500.8,431.69h2.5M500.8,434.51h4.5M500.8,437.33h6.5M500.8,440.15h3.5M500.8,442.98h5.5M500.8,445.80h2.5M500.8,448.62h4.5M500.8,451.44h6.5M500.8,454.26h3.5M500.8,457.08h5.5M500.8,459.90h2.5M500.8,462.73h4.5M500.8,465.55h6.5M500.8,468.37h3.5M500.8,471.19h5.5M500.8,474.01h2.5M500.8,476.83h4.5M500.8,479.65h6.5M500.8,482.47h3.5M500.8,485.30h5.5M500.8,488.12h2.5M500.8,490.94h4.5M500.8,493.76h6.5M500.8,496.58h3.5M500.8,499.40h5.5M500.8,502.22h2.5M500.8,505.05h4.5M500.8,507.87h6.5M500.8,510.69h3.5M500.8,513.51h5.5M500.8,516.33h2.5M500.8,519.15h4.5M500.8,521.97h6.5M500.8,524.79h3.5M500.8,527.62h5.5M500.8,530.44h2.5M500.8,533.26h4.5M500.8,536.08h6.5M500.8,538.90h3.5M500.8,541.72h5.5M500.8,544.54h2.5M500.8,547.37h4.5M500.8,550.19h6.5M500.8,553.01h3.5M500.8,555.83h5.5M500.8,558.65h2.5M500.8,561.47h4.5M500.8,564.29h6.5M500.8,567.11h3.5M500.8,569.94h5.5M500.8,572.76h2.5M500.8,575.58h4.5M500.8,578.40h6.5M500.8,581.22h3.5M500.8,584.04h5.5M500.8,586.86h2.5M500.8,589.69h4.5M500.8,592.51h6.5M500.8,595.33h3.5M500.8,598.15h5.5M500.8,600.97h2.5M500.8,603.79h4.5M500.8,606.61h6.5M500.8,609.43h3.5M500.8,612.26h5.5M500.8,615.08h2.5M500.8,617.90h4.5M500.8,620.72h6.5M500.8,623.54h3.5M500.8,626.36h5.5M500.8,629.18h2.5M500.8,632.01h4.5M500.8,634.83h6.5M500.8,637.65h3.5M500.8,640.47h5.5M500.8,643.29h2.5M500.8,646.11h4.5M500.8,648.93h6.5M500.8,651.75h3.5M500.8,654.58h5.5M500.8,657.40h2.5M500.8,660.22h4.5M500.8,663.04h6.5M500.8,665.86h3.5M500.8,668.68h5.5M500.8,671.50h2.5M500.8,674.33h4.5M500.8,677.15h6.5M500.8,679.97h3.5M500.8,682.79h5.5" stroke="#b5b5b5" stroke-width="0.9" opacity="0.8"/>
<defs><linearGradient id="ck" x1="0" x2="0" y1="0" y2="1"><stop offset="0" stop-color="#ff1010"/><stop offset="0.5" stop-color="#000"/><stop offset="1" stop-color="#10ff10"/></linearGradient></defs>
<rect x="509.9" y="49.2" width="1.3" height="19.6" fill="url(#ck)"/>
<path d="M512,50h1.2M512,54.8h1.2M512,59h1.2M512,63.5h1.2M512,68h1.2" stroke="#bbb" stroke-width="0.8"/>
<path d="M388.8,49.1V48.0H397.7V49.1M406.6,49.1V48.0H415.4V49.1M393.2,48.0V47.6H411.0V48.0M424.4,49.1V47.2H433.2V49.1M442.2,49.1V47.3H451.1V49.1M460.0,49.1V47.4H468.9V49.1M477.8,49.1V47.4H486.7V49.1M482.2,47.4V47.0H495.6V49.1M464.4,47.4V46.6H488.9V47.0M446.6,47.3V46.0H476.6V46.6M428.8,47.2V45.3H461.6V46.0M402.1,47.6V42.0H445.2V45.3" stroke="#333" stroke-width="0.7" fill="none"/>
<text transform="translate(392.2,686.8) rotate(-90)" font-size="4.8" text-anchor="end" fill="#222" stroke="#222" stroke-width="0.1">CTRLCD4_1</text>
<text transform="translate(401.2,686.8) rotate(-90)" font-size="4.8" text-anchor="end" fill="#222" stroke="#222" stroke-width="0.1">CTRLCD4_2</text>
<text transform="translate(410.1,686.8) rotate(-90)" font-size="4.8" text-anchor="end" fill="#222" stroke="#222" stroke-width="0.1">CTRLCD4_3</text>
<text transform="translate(418.9,686.8) rotate(-90)" font-size="4.8" text-anchor="end" fill="#222" stroke="#222" stroke-width="0.1">CTRLCD4_4</text>
<text transform="translate(427.9,686.8) rotate(-90)" font-size="4.8" text-anchor="end" fill="#222" stroke="#222" stroke-width="0.1">ATL13</text>
<text transform="translate(436.8,686.8) rotate(-90)" font-size="4.8" text-anchor="end" fill="#222" stroke="#222" stroke-width="0.1">ATL23</text>
<text transform="translate(445.7,686.8) rotate(-90)" font-size="4.8" text-anchor="end" fill="#222" stroke="#222" stroke-width="0.1">ATL19</text>
<text transform="translate(454.6,686.8) rotate(-90)" font-size="4.8" text-anchor="end" fill="#222" stroke="#222" stroke-width="0.1">ATL6</text>
<text transform="translate(463.5,686.8) rotate(-90)" font-size="4.8" text-anchor="end" fill="#222" stroke="#222" stroke-width="0.1">ATL18</text>
<text transform="translate(472.4,686.8) rotate(-90)" font-size="4.8" text-anchor="end" fill="#222" stroke="#222" stroke-width="0.1">ATL29</text>
<text transform="translate(481.2,686.8) rotate(-90)" font-size="4.8" text-anchor="end" fill="#222" stroke="#222" stroke-width="0.1">ATL30</text>
<text transform="translate(490.2,686.8) rotate(-90)" font-size="4.8" text-anchor="end" fill="#222" stroke="#222" stroke-width="0.1">ATL25</text>
<text transform="translate(499.1,686.8) rotate(-90)" font-size="4.8" text-anchor="end" fill="#222" stroke="#222" stroke-width="0.1">chronic ATL22</text>
<path d="M384.0,725.1 L418.4,725.1" stroke="#2b2d8c" stroke-width="1.5" fill="none"/>
<path d="M418.4,725.1 L500.3,725.1" stroke="#e39b1c" stroke-width="1.5" fill="none"/>
<text x="401.6" y="735.0" font-size="5.2" text-anchor="middle" textLength="11.8" lengthAdjust="spacingAndGlyphs" fill="#111" stroke="#111" stroke-width="0.22">CTRL</text>
<text x="459.8" y="735.0" font-size="5.2" text-anchor="middle" textLength="20.5" lengthAdjust="spacingAndGlyphs" fill="#111" stroke="#111" stroke-width="0.22">NA ATLL</text>
</g>
<rect x="0.6" y="0.6" width="518.6" height="742.6" fill="none" stroke="#000" stroke-width="1.3"/>
</svg>
</body></html>
